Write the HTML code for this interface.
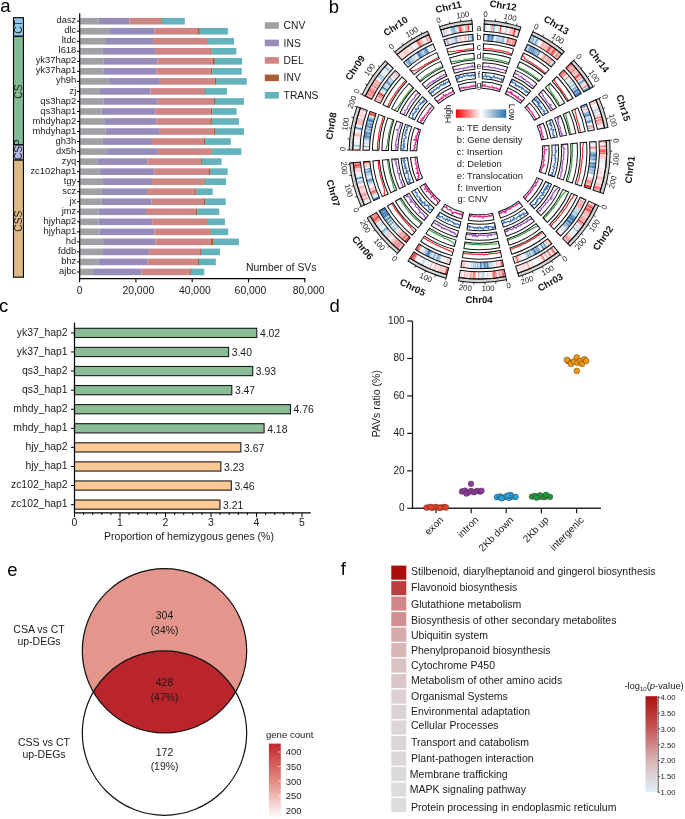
<!DOCTYPE html>
<html><head><meta charset="utf-8"><style>
html,body{margin:0;padding:0;background:#fff;}
svg{display:block;font-family:"Liberation Sans", sans-serif;}
</style></head><body><div style="position:relative;width:685px;height:819px;overflow:hidden;">
<svg style="position:absolute;left:0;top:0;will-change:transform" width="685" height="819" viewBox="0 0 685 819">
<text x="0.20" y="12.20" font-size="18.5" text-anchor="start" fill="#000">a</text>
<text x="328.80" y="12.80" font-size="18.5" text-anchor="start" fill="#000">b</text>
<text x="-1.00" y="311.80" font-size="18.5" text-anchor="start" fill="#000">c</text>
<text x="329.50" y="312.20" font-size="18.5" text-anchor="start" fill="#000">d</text>
<text x="7.20" y="575.50" font-size="18.5" text-anchor="start" fill="#000">e</text>
<text x="340.80" y="575.00" font-size="18.5" text-anchor="start" fill="#000">f</text>
<rect x="80.20" y="17.90" width="18.40" height="6.6" fill="#a1a0a4"/>
<rect x="98.60" y="17.90" width="30.80" height="6.6" fill="#978bb9"/>
<rect x="129.40" y="17.90" width="31.00" height="6.6" fill="#cf8583"/>
<rect x="160.40" y="17.90" width="1.30" height="6.6" fill="#a65d36"/>
<rect x="161.70" y="17.90" width="23.10" height="6.6" fill="#64b3bc"/>
<line x1="77.0" y1="21.20" x2="79.7" y2="21.20" stroke="#000" stroke-width="1"/>
<text x="76.30" y="23.30" font-size="9.4" text-anchor="end" fill="#1a1a1a">dasz</text>
<rect x="80.20" y="27.93" width="29.80" height="6.6" fill="#a1a0a4"/>
<rect x="110.00" y="27.93" width="44.30" height="6.6" fill="#978bb9"/>
<rect x="154.30" y="27.93" width="43.70" height="6.6" fill="#cf8583"/>
<rect x="198.00" y="27.93" width="1.80" height="6.6" fill="#a65d36"/>
<rect x="199.80" y="27.93" width="28.10" height="6.6" fill="#64b3bc"/>
<line x1="77.0" y1="31.23" x2="79.7" y2="31.23" stroke="#000" stroke-width="1"/>
<text x="76.30" y="33.33" font-size="9.4" text-anchor="end" fill="#1a1a1a">dlc</text>
<rect x="80.20" y="37.96" width="25.80" height="6.6" fill="#a1a0a4"/>
<rect x="106.00" y="37.96" width="47.00" height="6.6" fill="#978bb9"/>
<rect x="153.00" y="37.96" width="53.90" height="6.6" fill="#cf8583"/>
<rect x="206.90" y="37.96" width="0.80" height="6.6" fill="#a65d36"/>
<rect x="207.70" y="37.96" width="26.30" height="6.6" fill="#64b3bc"/>
<line x1="77.0" y1="41.26" x2="79.7" y2="41.26" stroke="#000" stroke-width="1"/>
<text x="76.30" y="43.36" font-size="9.4" text-anchor="end" fill="#1a1a1a">ltdc</text>
<rect x="80.20" y="47.99" width="22.70" height="6.6" fill="#a1a0a4"/>
<rect x="102.90" y="47.99" width="52.20" height="6.6" fill="#978bb9"/>
<rect x="155.10" y="47.99" width="55.20" height="6.6" fill="#cf8583"/>
<rect x="210.30" y="47.99" width="1.30" height="6.6" fill="#a65d36"/>
<rect x="211.60" y="47.99" width="24.70" height="6.6" fill="#64b3bc"/>
<line x1="77.0" y1="51.29" x2="79.7" y2="51.29" stroke="#000" stroke-width="1"/>
<text x="76.30" y="53.39" font-size="9.4" text-anchor="end" fill="#1a1a1a">l618</text>
<rect x="80.20" y="58.02" width="23.20" height="6.6" fill="#a1a0a4"/>
<rect x="103.40" y="58.02" width="54.10" height="6.6" fill="#978bb9"/>
<rect x="157.50" y="58.02" width="55.50" height="6.6" fill="#cf8583"/>
<rect x="213.00" y="58.02" width="1.80" height="6.6" fill="#a65d36"/>
<rect x="214.80" y="58.02" width="27.30" height="6.6" fill="#64b3bc"/>
<line x1="77.0" y1="61.32" x2="79.7" y2="61.32" stroke="#000" stroke-width="1"/>
<text x="76.30" y="63.42" font-size="9.4" text-anchor="end" fill="#1a1a1a">yk37hap2</text>
<rect x="80.20" y="68.05" width="23.20" height="6.6" fill="#a1a0a4"/>
<rect x="103.40" y="68.05" width="53.10" height="6.6" fill="#978bb9"/>
<rect x="156.50" y="68.05" width="54.30" height="6.6" fill="#cf8583"/>
<rect x="210.80" y="68.05" width="1.40" height="6.6" fill="#a65d36"/>
<rect x="212.20" y="68.05" width="29.60" height="6.6" fill="#64b3bc"/>
<line x1="77.0" y1="71.35" x2="79.7" y2="71.35" stroke="#000" stroke-width="1"/>
<text x="76.30" y="73.45" font-size="9.4" text-anchor="end" fill="#1a1a1a">yk37hap1</text>
<rect x="80.20" y="78.08" width="29.00" height="6.6" fill="#a1a0a4"/>
<rect x="109.20" y="78.08" width="50.70" height="6.6" fill="#978bb9"/>
<rect x="159.90" y="78.08" width="54.90" height="6.6" fill="#cf8583"/>
<rect x="214.80" y="78.08" width="1.30" height="6.6" fill="#a65d36"/>
<rect x="216.10" y="78.08" width="30.70" height="6.6" fill="#64b3bc"/>
<line x1="77.0" y1="81.38" x2="79.7" y2="81.38" stroke="#000" stroke-width="1"/>
<text x="76.30" y="83.48" font-size="9.4" text-anchor="end" fill="#1a1a1a">yh9h</text>
<rect x="80.20" y="88.11" width="19.00" height="6.6" fill="#a1a0a4"/>
<rect x="99.20" y="88.11" width="51.20" height="6.6" fill="#978bb9"/>
<rect x="150.40" y="88.11" width="53.30" height="6.6" fill="#cf8583"/>
<rect x="203.70" y="88.11" width="1.10" height="6.6" fill="#a65d36"/>
<rect x="204.80" y="88.11" width="22.10" height="6.6" fill="#64b3bc"/>
<line x1="77.0" y1="91.41" x2="79.7" y2="91.41" stroke="#000" stroke-width="1"/>
<text x="76.30" y="93.51" font-size="9.4" text-anchor="end" fill="#1a1a1a">zj</text>
<rect x="80.20" y="98.14" width="23.40" height="6.6" fill="#a1a0a4"/>
<rect x="103.60" y="98.14" width="54.20" height="6.6" fill="#978bb9"/>
<rect x="157.80" y="98.14" width="55.90" height="6.6" fill="#cf8583"/>
<rect x="213.70" y="98.14" width="1.30" height="6.6" fill="#a65d36"/>
<rect x="215.00" y="98.14" width="29.00" height="6.6" fill="#64b3bc"/>
<line x1="77.0" y1="101.44" x2="79.7" y2="101.44" stroke="#000" stroke-width="1"/>
<text x="76.30" y="103.54" font-size="9.4" text-anchor="end" fill="#1a1a1a">qs3hap2</text>
<rect x="80.20" y="108.17" width="21.30" height="6.6" fill="#a1a0a4"/>
<rect x="101.50" y="108.17" width="53.90" height="6.6" fill="#978bb9"/>
<rect x="155.40" y="108.17" width="55.40" height="6.6" fill="#cf8583"/>
<rect x="210.80" y="108.17" width="1.40" height="6.6" fill="#a65d36"/>
<rect x="212.20" y="108.17" width="24.40" height="6.6" fill="#64b3bc"/>
<line x1="77.0" y1="111.47" x2="79.7" y2="111.47" stroke="#000" stroke-width="1"/>
<text x="76.30" y="113.57" font-size="9.4" text-anchor="end" fill="#1a1a1a">qs3hap1</text>
<rect x="80.20" y="118.20" width="24.00" height="6.6" fill="#a1a0a4"/>
<rect x="104.20" y="118.20" width="52.00" height="6.6" fill="#978bb9"/>
<rect x="156.20" y="118.20" width="54.10" height="6.6" fill="#cf8583"/>
<rect x="210.30" y="118.20" width="1.60" height="6.6" fill="#a65d36"/>
<rect x="211.90" y="118.20" width="27.10" height="6.6" fill="#64b3bc"/>
<line x1="77.0" y1="121.50" x2="79.7" y2="121.50" stroke="#000" stroke-width="1"/>
<text x="76.30" y="123.60" font-size="9.4" text-anchor="end" fill="#1a1a1a">mhdyhap2</text>
<rect x="80.20" y="128.23" width="25.30" height="6.6" fill="#a1a0a4"/>
<rect x="105.50" y="128.23" width="53.60" height="6.6" fill="#978bb9"/>
<rect x="159.10" y="128.23" width="54.60" height="6.6" fill="#cf8583"/>
<rect x="213.70" y="128.23" width="1.30" height="6.6" fill="#a65d36"/>
<rect x="215.00" y="128.23" width="29.00" height="6.6" fill="#64b3bc"/>
<line x1="77.0" y1="131.53" x2="79.7" y2="131.53" stroke="#000" stroke-width="1"/>
<text x="76.30" y="133.63" font-size="9.4" text-anchor="end" fill="#1a1a1a">mhdyhap1</text>
<rect x="80.20" y="138.26" width="22.70" height="6.6" fill="#a1a0a4"/>
<rect x="102.90" y="138.26" width="49.10" height="6.6" fill="#978bb9"/>
<rect x="152.00" y="138.26" width="52.00" height="6.6" fill="#cf8583"/>
<rect x="204.00" y="138.26" width="1.00" height="6.6" fill="#a65d36"/>
<rect x="205.00" y="138.26" width="25.80" height="6.6" fill="#64b3bc"/>
<line x1="77.0" y1="141.56" x2="79.7" y2="141.56" stroke="#000" stroke-width="1"/>
<text x="76.30" y="143.66" font-size="9.4" text-anchor="end" fill="#1a1a1a">gh3h</text>
<rect x="80.20" y="148.29" width="26.90" height="6.6" fill="#a1a0a4"/>
<rect x="107.10" y="148.29" width="49.90" height="6.6" fill="#978bb9"/>
<rect x="157.00" y="148.29" width="53.60" height="6.6" fill="#cf8583"/>
<rect x="210.60" y="148.29" width="1.00" height="6.6" fill="#a65d36"/>
<rect x="211.60" y="148.29" width="29.70" height="6.6" fill="#64b3bc"/>
<line x1="77.0" y1="151.59" x2="79.7" y2="151.59" stroke="#000" stroke-width="1"/>
<text x="76.30" y="153.69" font-size="9.4" text-anchor="end" fill="#1a1a1a">dx5h</text>
<rect x="80.20" y="158.32" width="17.10" height="6.6" fill="#a1a0a4"/>
<rect x="97.30" y="158.32" width="50.00" height="6.6" fill="#978bb9"/>
<rect x="147.30" y="158.32" width="53.30" height="6.6" fill="#cf8583"/>
<rect x="200.60" y="158.32" width="1.30" height="6.6" fill="#a65d36"/>
<rect x="201.90" y="158.32" width="19.70" height="6.6" fill="#64b3bc"/>
<line x1="77.0" y1="161.62" x2="79.7" y2="161.62" stroke="#000" stroke-width="1"/>
<text x="76.30" y="163.72" font-size="9.4" text-anchor="end" fill="#1a1a1a">zyq</text>
<rect x="80.20" y="168.35" width="19.20" height="6.6" fill="#a1a0a4"/>
<rect x="99.40" y="168.35" width="54.90" height="6.6" fill="#978bb9"/>
<rect x="154.30" y="168.35" width="54.70" height="6.6" fill="#cf8583"/>
<rect x="209.00" y="168.35" width="1.00" height="6.6" fill="#a65d36"/>
<rect x="210.00" y="168.35" width="17.70" height="6.6" fill="#64b3bc"/>
<line x1="77.0" y1="171.65" x2="79.7" y2="171.65" stroke="#000" stroke-width="1"/>
<text x="76.30" y="173.75" font-size="9.4" text-anchor="end" fill="#1a1a1a">zc102hap1</text>
<rect x="80.20" y="178.38" width="22.70" height="6.6" fill="#a1a0a4"/>
<rect x="102.90" y="178.38" width="49.10" height="6.6" fill="#978bb9"/>
<rect x="152.00" y="178.38" width="51.70" height="6.6" fill="#cf8583"/>
<rect x="203.70" y="178.38" width="1.10" height="6.6" fill="#a65d36"/>
<rect x="204.80" y="178.38" width="21.30" height="6.6" fill="#64b3bc"/>
<line x1="77.0" y1="181.68" x2="79.7" y2="181.68" stroke="#000" stroke-width="1"/>
<text x="76.30" y="183.78" font-size="9.4" text-anchor="end" fill="#1a1a1a">tgy</text>
<rect x="80.20" y="188.41" width="21.60" height="6.6" fill="#a1a0a4"/>
<rect x="101.80" y="188.41" width="45.20" height="6.6" fill="#978bb9"/>
<rect x="147.00" y="188.41" width="48.10" height="6.6" fill="#cf8583"/>
<rect x="195.10" y="188.41" width="1.50" height="6.6" fill="#a65d36"/>
<rect x="196.60" y="188.41" width="16.10" height="6.6" fill="#64b3bc"/>
<line x1="77.0" y1="191.71" x2="79.7" y2="191.71" stroke="#000" stroke-width="1"/>
<text x="76.30" y="193.81" font-size="9.4" text-anchor="end" fill="#1a1a1a">scz</text>
<rect x="80.20" y="198.44" width="21.60" height="6.6" fill="#a1a0a4"/>
<rect x="101.80" y="198.44" width="49.90" height="6.6" fill="#978bb9"/>
<rect x="151.70" y="198.44" width="52.30" height="6.6" fill="#cf8583"/>
<rect x="204.00" y="198.44" width="1.00" height="6.6" fill="#a65d36"/>
<rect x="205.00" y="198.44" width="20.80" height="6.6" fill="#64b3bc"/>
<line x1="77.0" y1="201.74" x2="79.7" y2="201.74" stroke="#000" stroke-width="1"/>
<text x="76.30" y="203.84" font-size="9.4" text-anchor="end" fill="#1a1a1a">jx</text>
<rect x="80.20" y="208.47" width="18.40" height="6.6" fill="#a1a0a4"/>
<rect x="98.60" y="208.47" width="47.40" height="6.6" fill="#978bb9"/>
<rect x="146.00" y="208.47" width="49.90" height="6.6" fill="#cf8583"/>
<rect x="195.90" y="208.47" width="1.30" height="6.6" fill="#a65d36"/>
<rect x="197.20" y="208.47" width="22.00" height="6.6" fill="#64b3bc"/>
<line x1="77.0" y1="211.77" x2="79.7" y2="211.77" stroke="#000" stroke-width="1"/>
<text x="76.30" y="213.87" font-size="9.4" text-anchor="end" fill="#1a1a1a">jmz</text>
<rect x="80.20" y="218.50" width="18.40" height="6.6" fill="#a1a0a4"/>
<rect x="98.60" y="218.50" width="53.60" height="6.6" fill="#978bb9"/>
<rect x="152.20" y="218.50" width="54.20" height="6.6" fill="#cf8583"/>
<rect x="206.40" y="218.50" width="1.30" height="6.6" fill="#a65d36"/>
<rect x="207.70" y="218.50" width="17.30" height="6.6" fill="#64b3bc"/>
<line x1="77.0" y1="221.80" x2="79.7" y2="221.80" stroke="#000" stroke-width="1"/>
<text x="76.30" y="223.90" font-size="9.4" text-anchor="end" fill="#1a1a1a">hjyhap2</text>
<rect x="80.20" y="228.53" width="19.20" height="6.6" fill="#a1a0a4"/>
<rect x="99.40" y="228.53" width="54.90" height="6.6" fill="#978bb9"/>
<rect x="154.30" y="228.53" width="55.50" height="6.6" fill="#cf8583"/>
<rect x="209.80" y="228.53" width="1.00" height="6.6" fill="#a65d36"/>
<rect x="210.80" y="228.53" width="17.40" height="6.6" fill="#64b3bc"/>
<line x1="77.0" y1="231.83" x2="79.7" y2="231.83" stroke="#000" stroke-width="1"/>
<text x="76.30" y="233.93" font-size="9.4" text-anchor="end" fill="#1a1a1a">hjyhap1</text>
<rect x="80.20" y="238.56" width="22.90" height="6.6" fill="#a1a0a4"/>
<rect x="103.10" y="238.56" width="52.30" height="6.6" fill="#978bb9"/>
<rect x="155.40" y="238.56" width="55.20" height="6.6" fill="#cf8583"/>
<rect x="210.60" y="238.56" width="3.10" height="6.6" fill="#a65d36"/>
<rect x="213.70" y="238.56" width="25.30" height="6.6" fill="#64b3bc"/>
<line x1="77.0" y1="241.86" x2="79.7" y2="241.86" stroke="#000" stroke-width="1"/>
<text x="76.30" y="243.96" font-size="9.4" text-anchor="end" fill="#1a1a1a">hd</text>
<rect x="80.20" y="248.59" width="21.90" height="6.6" fill="#a1a0a4"/>
<rect x="102.10" y="248.59" width="47.00" height="6.6" fill="#978bb9"/>
<rect x="149.10" y="248.59" width="50.70" height="6.6" fill="#cf8583"/>
<rect x="199.80" y="248.59" width="1.10" height="6.6" fill="#a65d36"/>
<rect x="200.90" y="248.59" width="19.10" height="6.6" fill="#64b3bc"/>
<line x1="77.0" y1="251.89" x2="79.7" y2="251.89" stroke="#000" stroke-width="1"/>
<text x="76.30" y="253.99" font-size="9.4" text-anchor="end" fill="#1a1a1a">fddb</text>
<rect x="80.20" y="258.62" width="18.70" height="6.6" fill="#a1a0a4"/>
<rect x="98.90" y="258.62" width="48.60" height="6.6" fill="#978bb9"/>
<rect x="147.50" y="258.62" width="50.50" height="6.6" fill="#cf8583"/>
<rect x="198.00" y="258.62" width="1.00" height="6.6" fill="#a65d36"/>
<rect x="199.00" y="258.62" width="16.80" height="6.6" fill="#64b3bc"/>
<line x1="77.0" y1="261.92" x2="79.7" y2="261.92" stroke="#000" stroke-width="1"/>
<text x="76.30" y="264.02" font-size="9.4" text-anchor="end" fill="#1a1a1a">bhz</text>
<rect x="80.20" y="268.65" width="12.70" height="6.6" fill="#a1a0a4"/>
<rect x="92.90" y="268.65" width="48.30" height="6.6" fill="#978bb9"/>
<rect x="141.20" y="268.65" width="48.60" height="6.6" fill="#cf8583"/>
<rect x="189.80" y="268.65" width="1.10" height="6.6" fill="#a65d36"/>
<rect x="190.90" y="268.65" width="13.40" height="6.6" fill="#64b3bc"/>
<line x1="77.0" y1="271.95" x2="79.7" y2="271.95" stroke="#000" stroke-width="1"/>
<text x="76.30" y="274.05" font-size="9.4" text-anchor="end" fill="#1a1a1a">ajbc</text>
<line x1="79.7" y1="13.2" x2="79.7" y2="279.2" stroke="#000" stroke-width="1.2"/>
<line x1="79.1" y1="278.6" x2="305.4" y2="278.6" stroke="#000" stroke-width="1.2"/>
<line x1="79.60" y1="278.6" x2="79.60" y2="282.3" stroke="#000" stroke-width="1.1"/>
<text x="79.70" y="293.80" font-size="10.4" text-anchor="middle" fill="#1a1a1a">0</text>
<line x1="135.90" y1="278.6" x2="135.90" y2="282.3" stroke="#000" stroke-width="1.1"/>
<text x="138.30" y="293.80" font-size="10.4" text-anchor="middle" fill="#1a1a1a">20,000</text>
<line x1="192.20" y1="278.6" x2="192.20" y2="282.3" stroke="#000" stroke-width="1.1"/>
<text x="194.80" y="293.80" font-size="10.4" text-anchor="middle" fill="#1a1a1a">40,000</text>
<line x1="248.50" y1="278.6" x2="248.50" y2="282.3" stroke="#000" stroke-width="1.1"/>
<text x="250.50" y="293.80" font-size="10.4" text-anchor="middle" fill="#1a1a1a">60,000</text>
<line x1="304.80" y1="278.6" x2="304.80" y2="282.3" stroke="#000" stroke-width="1.1"/>
<text x="308.60" y="293.80" font-size="10.4" text-anchor="middle" fill="#1a1a1a">80,000</text>
<text x="246.00" y="271.00" font-size="10.4" text-anchor="start" fill="#1a1a1a">Number of SVs</text>
<rect x="264.8" y="22.20" width="14.1" height="6.6" fill="#a1a0a4"/>
<text x="283.60" y="29.10" font-size="10.3" text-anchor="start" fill="#1a1a1a">CNV</text>
<rect x="264.8" y="39.65" width="14.1" height="6.6" fill="#978bb9"/>
<text x="283.60" y="46.55" font-size="10.3" text-anchor="start" fill="#1a1a1a">INS</text>
<rect x="264.8" y="57.10" width="14.1" height="6.6" fill="#cf8583"/>
<text x="283.60" y="64.00" font-size="10.3" text-anchor="start" fill="#1a1a1a">DEL</text>
<rect x="264.8" y="74.55" width="14.1" height="6.6" fill="#a65d36"/>
<text x="283.60" y="81.45" font-size="10.3" text-anchor="start" fill="#1a1a1a">INV</text>
<rect x="264.8" y="92.00" width="14.1" height="6.6" fill="#64b3bc"/>
<text x="283.60" y="98.90" font-size="10.3" text-anchor="start" fill="#1a1a1a">TRANS</text>
<rect x="13.5" y="17.70" width="9.95" height="18.60" fill="#8fc8e6" stroke="#000" stroke-width="1.1"/>
<rect x="13.5" y="36.30" width="9.95" height="108.60" fill="#82bb94" stroke="#000" stroke-width="1.1"/>
<rect x="13.5" y="144.90" width="9.95" height="15.20" fill="#b3bde8" stroke="#000" stroke-width="1.1"/>
<rect x="13.5" y="160.10" width="9.95" height="117.10" fill="#dcb985" stroke="#000" stroke-width="1.1"/>
<text x="22.30" y="27.00" font-size="10.2" text-anchor="middle" fill="#1a1a1a" transform="rotate(-90.00 22.30 27.00)">CT</text>
<text x="22.30" y="91.65" font-size="10.2" text-anchor="middle" fill="#1a1a1a" transform="rotate(-90.00 22.30 91.65)">CS</text>
<text x="22.30" y="149.60" font-size="10.2" text-anchor="middle" fill="#1a1a1a" transform="rotate(-90.00 22.30 149.60)">CSP</text>
<text x="22.30" y="221.20" font-size="10.2" text-anchor="middle" fill="#1a1a1a" transform="rotate(-90.00 22.30 221.20)">CSS</text>
<rect x="74.50" y="328.30" width="182.31" height="9.2" fill="#8abd96" stroke="#1a1a1a" stroke-width="1.1"/>
<line x1="71.0" y1="332.90" x2="74.5" y2="332.90" stroke="#000" stroke-width="1"/>
<text x="67.60" y="335.70" font-size="10.4" text-anchor="end" fill="#1a1a1a">yk37_hap2</text>
<text x="259.91" y="337.10" font-size="10.4" text-anchor="start" fill="#1a1a1a">4.02</text>
<rect x="74.50" y="347.38" width="154.10" height="9.2" fill="#8abd96" stroke="#1a1a1a" stroke-width="1.1"/>
<line x1="71.0" y1="351.98" x2="74.5" y2="351.98" stroke="#000" stroke-width="1"/>
<text x="67.60" y="354.78" font-size="10.4" text-anchor="end" fill="#1a1a1a">yk37_hap1</text>
<text x="231.70" y="356.18" font-size="10.4" text-anchor="start" fill="#1a1a1a">3.40</text>
<rect x="74.50" y="366.46" width="178.22" height="9.2" fill="#8abd96" stroke="#1a1a1a" stroke-width="1.1"/>
<line x1="71.0" y1="371.06" x2="74.5" y2="371.06" stroke="#000" stroke-width="1"/>
<text x="67.60" y="373.86" font-size="10.4" text-anchor="end" fill="#1a1a1a">qs3_hap2</text>
<text x="255.81" y="375.26" font-size="10.4" text-anchor="start" fill="#1a1a1a">3.93</text>
<rect x="74.50" y="385.54" width="157.29" height="9.2" fill="#8abd96" stroke="#1a1a1a" stroke-width="1.1"/>
<line x1="71.0" y1="390.14" x2="74.5" y2="390.14" stroke="#000" stroke-width="1"/>
<text x="67.60" y="392.94" font-size="10.4" text-anchor="end" fill="#1a1a1a">qs3_hap1</text>
<text x="234.89" y="394.34" font-size="10.4" text-anchor="start" fill="#1a1a1a">3.47</text>
<rect x="74.50" y="404.62" width="215.98" height="9.2" fill="#8abd96" stroke="#1a1a1a" stroke-width="1.1"/>
<line x1="71.0" y1="409.22" x2="74.5" y2="409.22" stroke="#000" stroke-width="1"/>
<text x="67.60" y="412.02" font-size="10.4" text-anchor="end" fill="#1a1a1a">mhdy_hap2</text>
<text x="293.58" y="413.42" font-size="10.4" text-anchor="start" fill="#1a1a1a">4.76</text>
<rect x="74.50" y="423.70" width="189.59" height="9.2" fill="#8abd96" stroke="#1a1a1a" stroke-width="1.1"/>
<line x1="71.0" y1="428.30" x2="74.5" y2="428.30" stroke="#000" stroke-width="1"/>
<text x="67.60" y="431.10" font-size="10.4" text-anchor="end" fill="#1a1a1a">mhdy_hap1</text>
<text x="267.19" y="432.50" font-size="10.4" text-anchor="start" fill="#1a1a1a">4.18</text>
<rect x="74.50" y="442.78" width="166.38" height="9.2" fill="#fcc894" stroke="#1a1a1a" stroke-width="1.1"/>
<line x1="71.0" y1="447.38" x2="74.5" y2="447.38" stroke="#000" stroke-width="1"/>
<text x="67.60" y="450.18" font-size="10.4" text-anchor="end" fill="#1a1a1a">hjy_hap2</text>
<text x="243.98" y="451.58" font-size="10.4" text-anchor="start" fill="#1a1a1a">3.67</text>
<rect x="74.50" y="461.86" width="146.37" height="9.2" fill="#fcc894" stroke="#1a1a1a" stroke-width="1.1"/>
<line x1="71.0" y1="466.46" x2="74.5" y2="466.46" stroke="#000" stroke-width="1"/>
<text x="67.60" y="469.26" font-size="10.4" text-anchor="end" fill="#1a1a1a">hjy_hap1</text>
<text x="223.97" y="470.66" font-size="10.4" text-anchor="start" fill="#1a1a1a">3.23</text>
<rect x="74.50" y="480.94" width="156.83" height="9.2" fill="#fcc894" stroke="#1a1a1a" stroke-width="1.1"/>
<line x1="71.0" y1="485.54" x2="74.5" y2="485.54" stroke="#000" stroke-width="1"/>
<text x="67.60" y="488.34" font-size="10.4" text-anchor="end" fill="#1a1a1a">zc102_hap2</text>
<text x="234.43" y="489.74" font-size="10.4" text-anchor="start" fill="#1a1a1a">3.46</text>
<rect x="74.50" y="500.02" width="145.46" height="9.2" fill="#fcc894" stroke="#1a1a1a" stroke-width="1.1"/>
<line x1="71.0" y1="504.62" x2="74.5" y2="504.62" stroke="#000" stroke-width="1"/>
<text x="67.60" y="507.42" font-size="10.4" text-anchor="end" fill="#1a1a1a">zc102_hap1</text>
<text x="223.06" y="508.82" font-size="10.4" text-anchor="start" fill="#1a1a1a">3.21</text>
<line x1="74.5" y1="322.6" x2="74.5" y2="513.3" stroke="#000" stroke-width="1.2"/>
<line x1="73.9" y1="512.8" x2="310.8" y2="512.8" stroke="#000" stroke-width="1.2"/>
<line x1="74.50" y1="512.8" x2="74.50" y2="517.20" stroke="#000" stroke-width="1"/>
<text x="74.50" y="526.40" font-size="10.4" text-anchor="middle" fill="#1a1a1a">0</text>
<line x1="83.60" y1="512.8" x2="83.60" y2="515.00" stroke="#000" stroke-width="1"/>
<line x1="92.70" y1="512.8" x2="92.70" y2="515.00" stroke="#000" stroke-width="1"/>
<line x1="101.80" y1="512.8" x2="101.80" y2="515.00" stroke="#000" stroke-width="1"/>
<line x1="110.90" y1="512.8" x2="110.90" y2="515.00" stroke="#000" stroke-width="1"/>
<line x1="120.00" y1="512.8" x2="120.00" y2="517.20" stroke="#000" stroke-width="1"/>
<text x="120.00" y="526.40" font-size="10.4" text-anchor="middle" fill="#1a1a1a">1</text>
<line x1="129.10" y1="512.8" x2="129.10" y2="515.00" stroke="#000" stroke-width="1"/>
<line x1="138.20" y1="512.8" x2="138.20" y2="515.00" stroke="#000" stroke-width="1"/>
<line x1="147.30" y1="512.8" x2="147.30" y2="515.00" stroke="#000" stroke-width="1"/>
<line x1="156.40" y1="512.8" x2="156.40" y2="515.00" stroke="#000" stroke-width="1"/>
<line x1="165.50" y1="512.8" x2="165.50" y2="517.20" stroke="#000" stroke-width="1"/>
<text x="165.50" y="526.40" font-size="10.4" text-anchor="middle" fill="#1a1a1a">2</text>
<line x1="174.60" y1="512.8" x2="174.60" y2="515.00" stroke="#000" stroke-width="1"/>
<line x1="183.70" y1="512.8" x2="183.70" y2="515.00" stroke="#000" stroke-width="1"/>
<line x1="192.80" y1="512.8" x2="192.80" y2="515.00" stroke="#000" stroke-width="1"/>
<line x1="201.90" y1="512.8" x2="201.90" y2="515.00" stroke="#000" stroke-width="1"/>
<line x1="211.00" y1="512.8" x2="211.00" y2="517.20" stroke="#000" stroke-width="1"/>
<text x="211.00" y="526.40" font-size="10.4" text-anchor="middle" fill="#1a1a1a">3</text>
<line x1="220.10" y1="512.8" x2="220.10" y2="515.00" stroke="#000" stroke-width="1"/>
<line x1="229.20" y1="512.8" x2="229.20" y2="515.00" stroke="#000" stroke-width="1"/>
<line x1="238.30" y1="512.8" x2="238.30" y2="515.00" stroke="#000" stroke-width="1"/>
<line x1="247.40" y1="512.8" x2="247.40" y2="515.00" stroke="#000" stroke-width="1"/>
<line x1="256.50" y1="512.8" x2="256.50" y2="517.20" stroke="#000" stroke-width="1"/>
<text x="256.50" y="526.40" font-size="10.4" text-anchor="middle" fill="#1a1a1a">4</text>
<line x1="265.60" y1="512.8" x2="265.60" y2="515.00" stroke="#000" stroke-width="1"/>
<line x1="274.70" y1="512.8" x2="274.70" y2="515.00" stroke="#000" stroke-width="1"/>
<line x1="283.80" y1="512.8" x2="283.80" y2="515.00" stroke="#000" stroke-width="1"/>
<line x1="292.90" y1="512.8" x2="292.90" y2="515.00" stroke="#000" stroke-width="1"/>
<line x1="302.00" y1="512.8" x2="302.00" y2="517.20" stroke="#000" stroke-width="1"/>
<text x="302.00" y="526.40" font-size="10.4" text-anchor="middle" fill="#1a1a1a">5</text>
<text x="189.00" y="539.60" font-size="10.5" text-anchor="middle" fill="#1a1a1a">Proportion of hemizygous genes (%)</text>
<line x1="412.5" y1="321.0" x2="412.5" y2="508.90" stroke="#1a1a1a" stroke-width="1.3"/>
<line x1="412.0" y1="508.30" x2="601.0" y2="508.30" stroke="#2a2a2a" stroke-width="1.4"/>
<line x1="407.2" y1="508.30" x2="412.5" y2="508.30" stroke="#1a1a1a" stroke-width="1.2"/>
<text x="404.60" y="511.20" font-size="10.0" text-anchor="end" fill="#1a1a1a">0</text>
<line x1="407.2" y1="470.84" x2="412.5" y2="470.84" stroke="#1a1a1a" stroke-width="1.2"/>
<text x="404.60" y="473.74" font-size="10.0" text-anchor="end" fill="#1a1a1a">20</text>
<line x1="407.2" y1="433.38" x2="412.5" y2="433.38" stroke="#1a1a1a" stroke-width="1.2"/>
<text x="404.60" y="436.28" font-size="10.0" text-anchor="end" fill="#1a1a1a">40</text>
<line x1="407.2" y1="395.92" x2="412.5" y2="395.92" stroke="#1a1a1a" stroke-width="1.2"/>
<text x="404.60" y="398.82" font-size="10.0" text-anchor="end" fill="#1a1a1a">60</text>
<line x1="407.2" y1="358.46" x2="412.5" y2="358.46" stroke="#1a1a1a" stroke-width="1.2"/>
<text x="404.60" y="361.36" font-size="10.0" text-anchor="end" fill="#1a1a1a">80</text>
<line x1="407.2" y1="321.00" x2="412.5" y2="321.00" stroke="#1a1a1a" stroke-width="1.2"/>
<text x="404.60" y="323.90" font-size="10.0" text-anchor="end" fill="#1a1a1a">100</text>
<text x="380.40" y="403.70" font-size="10.5" text-anchor="middle" fill="#1a1a1a" transform="rotate(-90.00 380.40 403.70)">PAVs ratio (%)</text>
<line x1="436.00" y1="508.30" x2="436.00" y2="513.3" stroke="#1a1a1a" stroke-width="1.2"/>
<text x="444.00" y="520.50" font-size="10.0" text-anchor="end" fill="#1a1a1a" transform="rotate(-45.00 444.00 520.50)">exon</text>
<line x1="471.20" y1="508.30" x2="471.20" y2="513.3" stroke="#1a1a1a" stroke-width="1.2"/>
<text x="479.20" y="520.50" font-size="10.0" text-anchor="end" fill="#1a1a1a" transform="rotate(-45.00 479.20 520.50)">intron</text>
<line x1="506.20" y1="508.30" x2="506.20" y2="513.3" stroke="#1a1a1a" stroke-width="1.2"/>
<text x="514.20" y="520.50" font-size="10.0" text-anchor="end" fill="#1a1a1a" transform="rotate(-45.00 514.20 520.50)">2Kb down</text>
<line x1="541.40" y1="508.30" x2="541.40" y2="513.3" stroke="#1a1a1a" stroke-width="1.2"/>
<text x="549.40" y="520.50" font-size="10.0" text-anchor="end" fill="#1a1a1a" transform="rotate(-45.00 549.40 520.50)">2Kb up</text>
<line x1="576.60" y1="508.30" x2="576.60" y2="513.3" stroke="#1a1a1a" stroke-width="1.2"/>
<text x="584.60" y="520.50" font-size="10.0" text-anchor="end" fill="#1a1a1a" transform="rotate(-45.00 584.60 520.50)">intergenic</text>
<circle cx="426.50" cy="507.60" r="2.9" fill="#e8402a" stroke="#3a2a20" stroke-width="0.5" stroke-opacity="0.8"/>
<circle cx="429.50" cy="507.20" r="2.9" fill="#e8402a" stroke="#3a2a20" stroke-width="0.5" stroke-opacity="0.8"/>
<circle cx="432.50" cy="507.80" r="2.9" fill="#e8402a" stroke="#3a2a20" stroke-width="0.5" stroke-opacity="0.8"/>
<circle cx="435.50" cy="507.00" r="2.9" fill="#e8402a" stroke="#3a2a20" stroke-width="0.5" stroke-opacity="0.8"/>
<circle cx="438.50" cy="507.60" r="2.9" fill="#e8402a" stroke="#3a2a20" stroke-width="0.5" stroke-opacity="0.8"/>
<circle cx="441.50" cy="507.30" r="2.9" fill="#e8402a" stroke="#3a2a20" stroke-width="0.5" stroke-opacity="0.8"/>
<circle cx="444.50" cy="507.00" r="2.9" fill="#e8402a" stroke="#3a2a20" stroke-width="0.5" stroke-opacity="0.8"/>
<circle cx="446.00" cy="507.50" r="2.9" fill="#e8402a" stroke="#3a2a20" stroke-width="0.5" stroke-opacity="0.8"/>
<circle cx="431.00" cy="507.00" r="2.9" fill="#e8402a" stroke="#3a2a20" stroke-width="0.5" stroke-opacity="0.8"/>
<circle cx="440.00" cy="507.90" r="2.9" fill="#e8402a" stroke="#3a2a20" stroke-width="0.5" stroke-opacity="0.8"/>
<circle cx="462.00" cy="491.50" r="2.9" fill="#8a3a9c" stroke="#3a2a20" stroke-width="0.5" stroke-opacity="0.8"/>
<circle cx="465.00" cy="490.60" r="2.9" fill="#8a3a9c" stroke="#3a2a20" stroke-width="0.5" stroke-opacity="0.8"/>
<circle cx="468.00" cy="492.40" r="2.9" fill="#8a3a9c" stroke="#3a2a20" stroke-width="0.5" stroke-opacity="0.8"/>
<circle cx="471.00" cy="491.00" r="2.9" fill="#8a3a9c" stroke="#3a2a20" stroke-width="0.5" stroke-opacity="0.8"/>
<circle cx="474.00" cy="492.20" r="2.9" fill="#8a3a9c" stroke="#3a2a20" stroke-width="0.5" stroke-opacity="0.8"/>
<circle cx="477.00" cy="490.80" r="2.9" fill="#8a3a9c" stroke="#3a2a20" stroke-width="0.5" stroke-opacity="0.8"/>
<circle cx="480.00" cy="491.60" r="2.9" fill="#8a3a9c" stroke="#3a2a20" stroke-width="0.5" stroke-opacity="0.8"/>
<circle cx="481.50" cy="490.80" r="2.9" fill="#8a3a9c" stroke="#3a2a20" stroke-width="0.5" stroke-opacity="0.8"/>
<circle cx="466.50" cy="493.50" r="2.9" fill="#8a3a9c" stroke="#3a2a20" stroke-width="0.5" stroke-opacity="0.8"/>
<circle cx="471.00" cy="483.80" r="2.9" fill="#8a3a9c" stroke="#3a2a20" stroke-width="0.5" stroke-opacity="0.8"/>
<circle cx="497.00" cy="497.20" r="2.9" fill="#22a0e0" stroke="#3a2a20" stroke-width="0.5" stroke-opacity="0.8"/>
<circle cx="500.00" cy="496.40" r="2.9" fill="#22a0e0" stroke="#3a2a20" stroke-width="0.5" stroke-opacity="0.8"/>
<circle cx="503.00" cy="497.60" r="2.9" fill="#22a0e0" stroke="#3a2a20" stroke-width="0.5" stroke-opacity="0.8"/>
<circle cx="506.00" cy="496.80" r="2.9" fill="#22a0e0" stroke="#3a2a20" stroke-width="0.5" stroke-opacity="0.8"/>
<circle cx="509.00" cy="497.80" r="2.9" fill="#22a0e0" stroke="#3a2a20" stroke-width="0.5" stroke-opacity="0.8"/>
<circle cx="512.00" cy="496.60" r="2.9" fill="#22a0e0" stroke="#3a2a20" stroke-width="0.5" stroke-opacity="0.8"/>
<circle cx="515.50" cy="497.00" r="2.9" fill="#22a0e0" stroke="#3a2a20" stroke-width="0.5" stroke-opacity="0.8"/>
<circle cx="510.50" cy="495.00" r="2.9" fill="#22a0e0" stroke="#3a2a20" stroke-width="0.5" stroke-opacity="0.8"/>
<circle cx="501.50" cy="498.30" r="2.9" fill="#22a0e0" stroke="#3a2a20" stroke-width="0.5" stroke-opacity="0.8"/>
<circle cx="507.50" cy="495.60" r="2.9" fill="#22a0e0" stroke="#3a2a20" stroke-width="0.5" stroke-opacity="0.8"/>
<circle cx="532.00" cy="496.60" r="2.9" fill="#1e9a3c" stroke="#3a2a20" stroke-width="0.5" stroke-opacity="0.8"/>
<circle cx="535.00" cy="496.00" r="2.9" fill="#1e9a3c" stroke="#3a2a20" stroke-width="0.5" stroke-opacity="0.8"/>
<circle cx="538.00" cy="497.00" r="2.9" fill="#1e9a3c" stroke="#3a2a20" stroke-width="0.5" stroke-opacity="0.8"/>
<circle cx="541.00" cy="496.40" r="2.9" fill="#1e9a3c" stroke="#3a2a20" stroke-width="0.5" stroke-opacity="0.8"/>
<circle cx="544.00" cy="497.20" r="2.9" fill="#1e9a3c" stroke="#3a2a20" stroke-width="0.5" stroke-opacity="0.8"/>
<circle cx="547.00" cy="496.20" r="2.9" fill="#1e9a3c" stroke="#3a2a20" stroke-width="0.5" stroke-opacity="0.8"/>
<circle cx="550.00" cy="496.80" r="2.9" fill="#1e9a3c" stroke="#3a2a20" stroke-width="0.5" stroke-opacity="0.8"/>
<circle cx="546.00" cy="494.80" r="2.9" fill="#1e9a3c" stroke="#3a2a20" stroke-width="0.5" stroke-opacity="0.8"/>
<circle cx="540.00" cy="495.30" r="2.9" fill="#1e9a3c" stroke="#3a2a20" stroke-width="0.5" stroke-opacity="0.8"/>
<circle cx="536.50" cy="497.60" r="2.9" fill="#1e9a3c" stroke="#3a2a20" stroke-width="0.5" stroke-opacity="0.8"/>
<circle cx="568.00" cy="361.00" r="2.9" fill="#f0960f" stroke="#3a2a20" stroke-width="0.5" stroke-opacity="0.8"/>
<circle cx="571.00" cy="363.90" r="2.9" fill="#f0960f" stroke="#3a2a20" stroke-width="0.5" stroke-opacity="0.8"/>
<circle cx="573.90" cy="361.50" r="2.9" fill="#f0960f" stroke="#3a2a20" stroke-width="0.5" stroke-opacity="0.8"/>
<circle cx="576.80" cy="357.40" r="2.9" fill="#f0960f" stroke="#3a2a20" stroke-width="0.5" stroke-opacity="0.8"/>
<circle cx="577.40" cy="362.70" r="2.9" fill="#f0960f" stroke="#3a2a20" stroke-width="0.5" stroke-opacity="0.8"/>
<circle cx="580.30" cy="361.00" r="2.9" fill="#f0960f" stroke="#3a2a20" stroke-width="0.5" stroke-opacity="0.8"/>
<circle cx="582.00" cy="363.90" r="2.9" fill="#f0960f" stroke="#3a2a20" stroke-width="0.5" stroke-opacity="0.8"/>
<circle cx="584.40" cy="359.20" r="2.9" fill="#f0960f" stroke="#3a2a20" stroke-width="0.5" stroke-opacity="0.8"/>
<circle cx="586.10" cy="361.00" r="2.9" fill="#f0960f" stroke="#3a2a20" stroke-width="0.5" stroke-opacity="0.8"/>
<circle cx="566.90" cy="359.80" r="2.9" fill="#f0960f" stroke="#3a2a20" stroke-width="0.5" stroke-opacity="0.8"/>
<circle cx="576.80" cy="370.90" r="2.9" fill="#f0960f" stroke="#3a2a20" stroke-width="0.5" stroke-opacity="0.8"/>
<defs><clipPath id="cpU"><circle cx="164.5" cy="650.8" r="82.2"/></clipPath><linearGradient id="gc" x1="0" y1="0" x2="0" y2="1"><stop offset="0" stop-color="#c0282c"/><stop offset="0.5" stop-color="#e38a80"/><stop offset="1" stop-color="#ffffff"/></linearGradient><linearGradient id="gf" x1="0" y1="0" x2="0" y2="1"><stop offset="0" stop-color="#ae0e0e"/><stop offset="0.33" stop-color="#c65454"/><stop offset="0.66" stop-color="#d7b2b4"/><stop offset="1" stop-color="#dff2f7"/></linearGradient><linearGradient id="gb" x1="0" y1="0" x2="1" y2="0"><stop offset="0" stop-color="#ff0000"/><stop offset="0.5" stop-color="#ffffff"/><stop offset="1" stop-color="#2d72b0"/></linearGradient></defs>
<circle cx="164.5" cy="650.8" r="82.2" fill="#e4968c"/>
<circle cx="164.5" cy="733.1" r="82.2" fill="#b9252b" clip-path="url(#cpU)"/>
<circle cx="164.5" cy="650.8" r="82.2" fill="none" stroke="#111" stroke-width="1.2"/>
<circle cx="164.5" cy="733.1" r="82.2" fill="none" stroke="#111" stroke-width="1.2"/>
<text x="164.50" y="619.40" font-size="10.4" text-anchor="middle" fill="#1a1a1a">304</text>
<text x="164.50" y="634.00" font-size="10.4" text-anchor="middle" fill="#1a1a1a">(34%)</text>
<text x="164.50" y="686.00" font-size="10.4" text-anchor="middle" fill="#1a1a1a">428</text>
<text x="164.50" y="700.60" font-size="10.4" text-anchor="middle" fill="#1a1a1a">(47%)</text>
<text x="164.50" y="755.80" font-size="10.4" text-anchor="middle" fill="#1a1a1a">172</text>
<text x="164.50" y="770.40" font-size="10.4" text-anchor="middle" fill="#1a1a1a">(19%)</text>
<text x="39.00" y="632.70" font-size="10.5" text-anchor="middle" fill="#1a1a1a">CSA vs CT</text>
<text x="39.00" y="645.30" font-size="10.5" text-anchor="middle" fill="#1a1a1a">up-DEGs</text>
<text x="44.00" y="745.50" font-size="10.5" text-anchor="middle" fill="#1a1a1a">CSS vs CT</text>
<text x="44.00" y="758.10" font-size="10.5" text-anchor="middle" fill="#1a1a1a">up-DEGs</text>
<text x="289.70" y="737.50" font-size="9.6" text-anchor="middle" fill="#1a1a1a">gene count</text>
<rect x="268.9" y="743.6" width="11.9" height="74.8" fill="url(#gc)"/>
<line x1="278.0" y1="752.00" x2="280.8" y2="752.00" stroke="#fff" stroke-width="0.8" stroke-opacity="0.8"/>
<text x="285.80" y="755.40" font-size="9.4" text-anchor="start" fill="#1a1a1a">400</text>
<line x1="278.0" y1="766.55" x2="280.8" y2="766.55" stroke="#fff" stroke-width="0.8" stroke-opacity="0.8"/>
<text x="285.80" y="769.95" font-size="9.4" text-anchor="start" fill="#1a1a1a">350</text>
<line x1="278.0" y1="781.10" x2="280.8" y2="781.10" stroke="#fff" stroke-width="0.8" stroke-opacity="0.8"/>
<text x="285.80" y="784.50" font-size="9.4" text-anchor="start" fill="#1a1a1a">300</text>
<line x1="278.0" y1="795.65" x2="280.8" y2="795.65" stroke="#fff" stroke-width="0.8" stroke-opacity="0.8"/>
<text x="285.80" y="799.05" font-size="9.4" text-anchor="start" fill="#1a1a1a">250</text>
<line x1="278.0" y1="810.20" x2="280.8" y2="810.20" stroke="#fff" stroke-width="0.8" stroke-opacity="0.8"/>
<text x="285.80" y="813.60" font-size="9.4" text-anchor="start" fill="#1a1a1a">200</text>
<rect x="391.3" y="565.60" width="15.0" height="14.1" fill="#ae0b0b"/>
<text x="411.00" y="575.40" font-size="10.5" text-anchor="start" fill="#1a1a1a">Stilbenoid, diarylheptanoid and gingerol biosynthesis</text>
<rect x="391.3" y="581.09" width="15.0" height="14.1" fill="#bd3e3e"/>
<text x="411.00" y="590.50" font-size="10.5" text-anchor="start" fill="#1a1a1a">Flavonoid biosynthesis</text>
<rect x="391.3" y="596.58" width="15.0" height="14.1" fill="#cf8888"/>
<text x="411.00" y="607.60" font-size="10.5" text-anchor="start" fill="#1a1a1a">Glutathione metabolism</text>
<rect x="391.3" y="612.07" width="15.0" height="14.1" fill="#d09090"/>
<text x="411.00" y="623.80" font-size="10.5" text-anchor="start" fill="#1a1a1a">Biosynthesis of other secondary metabolites</text>
<rect x="391.3" y="627.56" width="15.0" height="14.1" fill="#d5aaab"/>
<text x="411.00" y="639.00" font-size="10.5" text-anchor="start" fill="#1a1a1a">Ubiquitin system</text>
<rect x="391.3" y="643.05" width="15.0" height="14.1" fill="#d8b6b7"/>
<text x="411.00" y="654.00" font-size="10.5" text-anchor="start" fill="#1a1a1a">Phenylpropanoid biosynthesis</text>
<rect x="391.3" y="658.54" width="15.0" height="14.1" fill="#dac1c2"/>
<text x="411.00" y="669.20" font-size="10.5" text-anchor="start" fill="#1a1a1a">Cytochrome P450</text>
<rect x="391.3" y="674.03" width="15.0" height="14.1" fill="#dbc6c7"/>
<text x="411.00" y="684.10" font-size="10.5" text-anchor="start" fill="#1a1a1a">Metabolism of other amino acids</text>
<rect x="391.3" y="689.52" width="15.0" height="14.1" fill="#dcd0d2"/>
<text x="411.00" y="700.40" font-size="10.5" text-anchor="start" fill="#1a1a1a">Organismal Systems</text>
<rect x="391.3" y="705.01" width="15.0" height="14.1" fill="#dcd2d4"/>
<text x="411.00" y="715.20" font-size="10.5" text-anchor="start" fill="#1a1a1a">Environmental adaptation</text>
<rect x="391.3" y="720.50" width="15.0" height="14.1" fill="#dcd4d6"/>
<text x="411.00" y="729.40" font-size="10.5" text-anchor="start" fill="#1a1a1a">Cellular Processes</text>
<rect x="391.3" y="735.99" width="15.0" height="14.1" fill="#dcd5d7"/>
<text x="411.00" y="745.60" font-size="10.5" text-anchor="start" fill="#1a1a1a">Transport and catabolism</text>
<rect x="391.3" y="751.48" width="15.0" height="14.1" fill="#dcd6d8"/>
<text x="411.00" y="762.30" font-size="10.5" text-anchor="start" fill="#1a1a1a">Plant-pathogen interaction</text>
<rect x="391.3" y="766.97" width="15.0" height="14.1" fill="#dcd9db"/>
<text x="409.80" y="777.90" font-size="10.5" text-anchor="start" fill="#1a1a1a">Membrane trafficking</text>
<rect x="391.3" y="782.46" width="15.0" height="14.1" fill="#dcdcdd"/>
<text x="409.80" y="793.00" font-size="10.5" text-anchor="start" fill="#1a1a1a">MAPK signaling pathway</text>
<rect x="391.3" y="797.95" width="15.0" height="14.1" fill="#dddddd"/>
<text x="411.00" y="811.20" font-size="10.5" text-anchor="start" fill="#1a1a1a">Protein processing in endoplasmic reticulum</text>
<rect x="645.5" y="696.2" width="11.9" height="96.0" fill="url(#gf)"/>
<line x1="658.2" y1="696.2" x2="658.2" y2="792.6" stroke="#222" stroke-width="0.8"/>
<line x1="658.2" y1="697.30" x2="660.0" y2="697.30" stroke="#222" stroke-width="0.8"/>
<text x="660.60" y="700.10" font-size="7.7" text-anchor="start" fill="#1a1a1a">4.00</text>
<line x1="658.2" y1="713.12" x2="660.0" y2="713.12" stroke="#222" stroke-width="0.8"/>
<text x="660.60" y="715.92" font-size="7.7" text-anchor="start" fill="#1a1a1a">3.50</text>
<line x1="658.2" y1="728.94" x2="660.0" y2="728.94" stroke="#222" stroke-width="0.8"/>
<text x="660.60" y="731.74" font-size="7.7" text-anchor="start" fill="#1a1a1a">3.00</text>
<line x1="658.2" y1="744.76" x2="660.0" y2="744.76" stroke="#222" stroke-width="0.8"/>
<text x="660.60" y="747.56" font-size="7.7" text-anchor="start" fill="#1a1a1a">2.50</text>
<line x1="658.2" y1="760.58" x2="660.0" y2="760.58" stroke="#222" stroke-width="0.8"/>
<text x="660.60" y="763.38" font-size="7.7" text-anchor="start" fill="#1a1a1a">2.00</text>
<line x1="658.2" y1="776.40" x2="660.0" y2="776.40" stroke="#222" stroke-width="0.8"/>
<text x="660.60" y="779.20" font-size="7.7" text-anchor="start" fill="#1a1a1a">1.50</text>
<line x1="658.2" y1="792.22" x2="660.0" y2="792.22" stroke="#222" stroke-width="0.8"/>
<text x="660.60" y="795.02" font-size="7.7" text-anchor="start" fill="#1a1a1a">1.00</text>
<text x="624.4" y="688.8" font-size="9.4" fill="#1a1a1a">-log<tspan font-size="6" dy="2.4">10</tspan><tspan dy="-2.4">(</tspan><tspan font-style="italic">p</tspan>-value)</text>
<g id="circos" transform="translate(0 -0.1) translate(0 20) scale(1 1.005) translate(0 -20)">
<g fill="none" stroke-width="7.50">
<path d="M484.1 27.6A123.3 123.3 0 0 1 485.3 27.7" stroke="#3d7bb8"/>
<path d="M485.1 27.7A123.3 123.3 0 0 1 486.4 27.7" stroke="#ddeaf5"/>
<path d="M486.2 27.7A123.3 123.3 0 0 1 487.4 27.8" stroke="#e2edf6"/>
<path d="M487.3 27.8A123.3 123.3 0 0 1 488.5 27.9" stroke="#fdeaea"/>
<path d="M488.3 27.9A123.3 123.3 0 0 1 489.6 27.9" stroke="#f6fafc"/>
<path d="M489.4 27.9A123.3 123.3 0 0 1 490.6 28.0" stroke="#e9f1f8"/>
<path d="M490.5 28.0A123.3 123.3 0 0 1 491.7 28.1" stroke="#fbc6c6"/>
<path d="M491.5 28.1A123.3 123.3 0 0 1 492.8 28.2" stroke="#f68383"/>
<path d="M492.6 28.2A123.3 123.3 0 0 1 493.8 28.4" stroke="#d2e2f1"/>
<path d="M493.6 28.3A123.3 123.3 0 0 1 494.9 28.5" stroke="#6c9cca"/>
<path d="M494.7 28.5A123.3 123.3 0 0 1 495.9 28.6" stroke="#f8fbfd"/>
<path d="M495.8 28.6A123.3 123.3 0 0 1 497.0 28.8" stroke="#ebf2f9"/>
<path d="M496.8 28.7A123.3 123.3 0 0 1 498.1 28.9" stroke="#e6eff7"/>
<path d="M497.9 28.9A123.3 123.3 0 0 1 499.1 29.1" stroke="#d9e7f3"/>
<path d="M498.9 29.1A123.3 123.3 0 0 1 500.2 29.3" stroke="#fde8e8"/>
<path d="M500.0 29.2A123.3 123.3 0 0 1 501.2 29.4" stroke="#ef2727"/>
<path d="M501.0 29.4A123.3 123.3 0 0 1 502.3 29.6" stroke="#fbc6c6"/>
<path d="M502.1 29.6A123.3 123.3 0 0 1 503.3 29.8" stroke="#edf3f9"/>
<path d="M503.1 29.8A123.3 123.3 0 0 1 504.4 30.0" stroke="#fef1f1"/>
<path d="M504.2 30.0A123.3 123.3 0 0 1 505.4 30.3" stroke="#fef3f3"/>
<path d="M505.2 30.2A123.3 123.3 0 0 1 506.5 30.5" stroke="#c4d9ec"/>
<path d="M506.3 30.4A123.3 123.3 0 0 1 507.5 30.7" stroke="#d7e6f3"/>
<path d="M507.3 30.7A123.3 123.3 0 0 1 508.5 31.0" stroke="#fde6e6"/>
<path d="M508.4 30.9A123.3 123.3 0 0 1 509.6 31.2" stroke="#fddddd"/>
<path d="M509.4 31.2A123.3 123.3 0 0 1 510.6 31.5" stroke="#fbc9c9"/>
<path d="M510.4 31.4A123.3 123.3 0 0 1 511.6 31.8" stroke="#fabfbf"/>
<path d="M511.5 31.7A123.3 123.3 0 0 1 512.7 32.0" stroke="#fabdbd"/>
<path d="M512.5 32.0A123.3 123.3 0 0 1 513.7 32.3" stroke="#fab7b7"/>
<path d="M513.5 32.3A123.3 123.3 0 0 1 514.7 32.6" stroke="#ee1e1e"/>
<path d="M514.6 32.6A123.3 123.3 0 0 1 515.7 32.9" stroke="#f78f8f"/>
<path d="M515.6 32.9A123.3 123.3 0 0 1 516.8 33.2" stroke="#fde4e4"/>
<path d="M516.6 33.2A123.3 123.3 0 0 1 517.8 33.6" stroke="#fde2e2"/>
<path d="M517.6 33.5A123.3 123.3 0 0 1 518.6 33.9" stroke="#f9adad"/>
<path d="M530.0 38.3A123.3 123.3 0 0 1 531.1 38.8" stroke="#a6c4e1"/>
<path d="M531.0 38.7A123.3 123.3 0 0 1 532.1 39.2" stroke="#8cb2d7"/>
<path d="M531.9 39.2A123.3 123.3 0 0 1 533.0 39.7" stroke="#a9c6e2"/>
<path d="M532.9 39.6A123.3 123.3 0 0 1 534.0 40.1" stroke="#5f93c5"/>
<path d="M533.8 40.1A123.3 123.3 0 0 1 535.0 40.6" stroke="#d5e4f2"/>
<path d="M534.8 40.5A123.3 123.3 0 0 1 535.9 41.1" stroke="#cee0f0"/>
<path d="M535.7 41.0A123.3 123.3 0 0 1 536.8 41.6" stroke="#5d92c5"/>
<path d="M536.7 41.5A123.3 123.3 0 0 1 537.8 42.1" stroke="#a6c4e1"/>
<path d="M537.6 42.0A123.3 123.3 0 0 1 538.7 42.6" stroke="#e0ebf5"/>
<path d="M538.6 42.5A123.3 123.3 0 0 1 539.6 43.1" stroke="#e3edf6"/>
<path d="M539.5 43.0A123.3 123.3 0 0 1 540.6 43.6" stroke="#fbfdfe"/>
<path d="M540.4 43.5A123.3 123.3 0 0 1 541.5 44.1" stroke="#fef6f6"/>
<path d="M541.3 44.1A123.3 123.3 0 0 1 542.4 44.7" stroke="#fabcbc"/>
<path d="M542.3 44.6A123.3 123.3 0 0 1 543.3 45.2" stroke="#f79696"/>
<path d="M543.2 45.1A123.3 123.3 0 0 1 544.2 45.8" stroke="#fbc5c5"/>
<path d="M544.1 45.7A123.3 123.3 0 0 1 545.1 46.3" stroke="#fabebe"/>
<path d="M545.0 46.2A123.3 123.3 0 0 1 546.0 46.9" stroke="#f9aeae"/>
<path d="M545.9 46.8A123.3 123.3 0 0 1 546.9 47.5" stroke="#fabfbf"/>
<path d="M546.8 47.4A123.3 123.3 0 0 1 547.8 48.1" stroke="#f8a4a4"/>
<path d="M547.7 48.0A123.3 123.3 0 0 1 548.7 48.7" stroke="#f78e8e"/>
<path d="M548.6 48.6A123.3 123.3 0 0 1 549.6 49.3" stroke="#ef2b2b"/>
<path d="M549.4 49.2A123.3 123.3 0 0 1 550.4 49.9" stroke="#f35e5e"/>
<path d="M550.3 49.8A123.3 123.3 0 0 1 551.3 50.5" stroke="#f9aaaa"/>
<path d="M551.2 50.4A123.3 123.3 0 0 1 552.2 51.1" stroke="#fababa"/>
<path d="M552.0 51.0A123.3 123.3 0 0 1 553.0 51.7" stroke="#f24c4c"/>
<path d="M552.9 51.6A123.3 123.3 0 0 1 553.9 52.4" stroke="#f46666"/>
<path d="M553.7 52.2A123.3 123.3 0 0 1 554.7 53.0" stroke="#f14343"/>
<path d="M554.6 52.9A123.3 123.3 0 0 1 555.6 53.6" stroke="#fddddd"/>
<path d="M555.4 53.5A123.3 123.3 0 0 1 556.4 54.3" stroke="#fddddd"/>
<path d="M556.3 54.2A123.3 123.3 0 0 1 557.2 55.0" stroke="#f35959"/>
<path d="M557.1 54.9A123.3 123.3 0 0 1 558.1 55.6" stroke="#fbc3c3"/>
<path d="M557.9 55.5A123.3 123.3 0 0 1 558.9 56.3" stroke="#f79595"/>
<path d="M558.7 56.2A123.3 123.3 0 0 1 559.6 56.9" stroke="#f8a3a3"/>
<path d="M568.5 65.2A123.3 123.3 0 0 1 569.3 66.1" stroke="#f36363"/>
<path d="M569.2 66.0A123.3 123.3 0 0 1 570.0 66.9" stroke="#f46e6e"/>
<path d="M569.9 66.8A123.3 123.3 0 0 1 570.8 67.7" stroke="#f79292"/>
<path d="M570.7 67.6A123.3 123.3 0 0 1 571.5 68.5" stroke="#fcd2d2"/>
<path d="M571.4 68.4A123.3 123.3 0 0 1 572.2 69.3" stroke="#f68787"/>
<path d="M572.1 69.2A123.3 123.3 0 0 1 572.9 70.1" stroke="#fabfbf"/>
<path d="M572.8 70.0A123.3 123.3 0 0 1 573.6 70.9" stroke="#f57272"/>
<path d="M573.5 70.8A123.3 123.3 0 0 1 574.3 71.7" stroke="#f79898"/>
<path d="M574.2 71.6A123.3 123.3 0 0 1 575.0 72.6" stroke="#fbc1c1"/>
<path d="M574.9 72.4A123.3 123.3 0 0 1 575.7 73.4" stroke="#f9adad"/>
<path d="M575.6 73.3A123.3 123.3 0 0 1 576.3 74.2" stroke="#fbc4c4"/>
<path d="M576.2 74.1A123.3 123.3 0 0 1 577.0 75.1" stroke="#fabcbc"/>
<path d="M576.9 74.9A123.3 123.3 0 0 1 577.6 75.9" stroke="#f35f5f"/>
<path d="M577.5 75.8A123.3 123.3 0 0 1 578.3 76.8" stroke="#f03737"/>
<path d="M578.2 76.6A123.3 123.3 0 0 1 578.9 77.6" stroke="#f9afaf"/>
<path d="M578.8 77.5A123.3 123.3 0 0 1 579.6 78.5" stroke="#fcd0d0"/>
<path d="M579.5 78.4A123.3 123.3 0 0 1 580.2 79.4" stroke="#f57a7a"/>
<path d="M580.1 79.2A123.3 123.3 0 0 1 580.8 80.2" stroke="#f4f8fc"/>
<path d="M580.7 80.1A123.3 123.3 0 0 1 581.4 81.1" stroke="#bcd4ea"/>
<path d="M581.3 81.0A123.3 123.3 0 0 1 582.0 82.0" stroke="#548cc1"/>
<path d="M581.9 81.9A123.3 123.3 0 0 1 582.6 82.9" stroke="#80aad2"/>
<path d="M582.5 82.8A123.3 123.3 0 0 1 583.2 83.8" stroke="#fddddd"/>
<path d="M583.1 83.7A123.3 123.3 0 0 1 583.8 84.7" stroke="#fbc9c9"/>
<path d="M583.7 84.6A123.3 123.3 0 0 1 584.4 85.6" stroke="#f9fbfd"/>
<path d="M584.3 85.5A123.3 123.3 0 0 1 584.9 86.5" stroke="#fbc3c3"/>
<path d="M584.8 86.4A123.3 123.3 0 0 1 585.5 87.4" stroke="#f46a6a"/>
<path d="M585.4 87.3A123.3 123.3 0 0 1 586.0 88.4" stroke="#fef0f0"/>
<path d="M585.9 88.2A123.3 123.3 0 0 1 586.6 89.3" stroke="#5f93c5"/>
<path d="M586.5 89.1A123.3 123.3 0 0 1 587.0 90.1" stroke="#2d70b2"/>
<path d="M592.5 101.0A123.3 123.3 0 0 1 593.0 102.1" stroke="#fab8b8"/>
<path d="M592.9 101.9A123.3 123.3 0 0 1 593.4 103.1" stroke="#fcd2d2"/>
<path d="M593.3 102.9A123.3 123.3 0 0 1 593.8 104.1" stroke="#fbc5c5"/>
<path d="M593.7 103.9A123.3 123.3 0 0 1 594.2 105.0" stroke="#feebeb"/>
<path d="M594.1 104.9A123.3 123.3 0 0 1 594.6 106.0" stroke="#fefeff"/>
<path d="M594.5 105.9A123.3 123.3 0 0 1 595.0 107.0" stroke="#fddddd"/>
<path d="M594.9 106.9A123.3 123.3 0 0 1 595.4 108.0" stroke="#fddfdf"/>
<path d="M595.3 107.9A123.3 123.3 0 0 1 595.7 109.0" stroke="#fffbfb"/>
<path d="M595.7 108.8A123.3 123.3 0 0 1 596.1 110.0" stroke="#a4c3e0"/>
<path d="M596.0 109.8A123.3 123.3 0 0 1 596.4 111.0" stroke="#cddff0"/>
<path d="M596.4 110.9A123.3 123.3 0 0 1 596.8 112.0" stroke="#cbdeef"/>
<path d="M596.7 111.9A123.3 123.3 0 0 1 597.1 113.0" stroke="#cee0f0"/>
<path d="M597.0 112.9A123.3 123.3 0 0 1 597.4 114.0" stroke="#f3f7fb"/>
<path d="M597.4 113.9A123.3 123.3 0 0 1 597.7 115.1" stroke="#ddeaf5"/>
<path d="M597.7 114.9A123.3 123.3 0 0 1 598.0 116.1" stroke="#fbc7c7"/>
<path d="M598.0 115.9A123.3 123.3 0 0 1 598.3 117.1" stroke="#fbc5c5"/>
<path d="M598.3 116.9A123.3 123.3 0 0 1 598.6 118.1" stroke="#f35e5e"/>
<path d="M598.6 118.0A123.3 123.3 0 0 1 598.9 119.1" stroke="#fcfdfe"/>
<path d="M598.8 119.0A123.3 123.3 0 0 1 599.2 120.2" stroke="#f46c6c"/>
<path d="M599.1 120.0A123.3 123.3 0 0 1 599.4 121.2" stroke="#f79797"/>
<path d="M599.4 121.0A123.3 123.3 0 0 1 599.7 122.2" stroke="#fbc8c8"/>
<path d="M599.6 122.1A123.3 123.3 0 0 1 599.9 123.3" stroke="#f79898"/>
<path d="M599.9 123.1A123.3 123.3 0 0 1 600.2 124.3" stroke="#fabbbb"/>
<path d="M600.1 124.1A123.3 123.3 0 0 1 600.4 125.4" stroke="#fddfdf"/>
<path d="M600.3 125.2A123.3 123.3 0 0 1 600.6 126.4" stroke="#ffffff"/>
<path d="M600.6 126.2A123.3 123.3 0 0 1 600.8 127.4" stroke="#f3f7fb"/>
<path d="M600.8 127.3A123.3 123.3 0 0 1 601.0 128.3" stroke="#a4c3e0"/>
<path d="M602.6 140.4A123.3 123.3 0 0 1 602.7 141.6" stroke="#f8a5a5"/>
<path d="M602.7 141.5A123.3 123.3 0 0 1 602.8 142.7" stroke="#f9a8a8"/>
<path d="M602.8 142.6A123.3 123.3 0 0 1 602.8 143.8" stroke="#ffffff"/>
<path d="M602.8 143.6A123.3 123.3 0 0 1 602.9 144.9" stroke="#fde5e5"/>
<path d="M602.9 144.7A123.3 123.3 0 0 1 603.0 146.0" stroke="#f89e9e"/>
<path d="M602.9 145.8A123.3 123.3 0 0 1 603.0 147.0" stroke="#f25858"/>
<path d="M603.0 146.9A123.3 123.3 0 0 1 603.0 148.1" stroke="#fde7e7"/>
<path d="M603.0 148.0A123.3 123.3 0 0 1 603.0 149.2" stroke="#f8a3a3"/>
<path d="M603.0 149.0A123.3 123.3 0 0 1 603.0 150.3" stroke="#f14343"/>
<path d="M603.0 150.1A123.3 123.3 0 0 1 603.0 151.4" stroke="#f25050"/>
<path d="M603.0 151.2A123.3 123.3 0 0 1 603.0 152.5" stroke="#f79393"/>
<path d="M603.0 152.3A123.3 123.3 0 0 1 603.0 153.5" stroke="#f46e6e"/>
<path d="M603.0 153.4A123.3 123.3 0 0 1 603.0 154.6" stroke="#fbc1c1"/>
<path d="M603.0 154.4A123.3 123.3 0 0 1 603.0 155.7" stroke="#fde6e6"/>
<path d="M603.0 155.5A123.3 123.3 0 0 1 602.9 156.8" stroke="#fab9b9"/>
<path d="M602.9 156.6A123.3 123.3 0 0 1 602.9 157.9" stroke="#fde1e1"/>
<path d="M602.9 157.7A123.3 123.3 0 0 1 602.8 158.9" stroke="#fababa"/>
<path d="M602.8 158.8A123.3 123.3 0 0 1 602.7 160.0" stroke="#f5f8fc"/>
<path d="M602.7 159.8A123.3 123.3 0 0 1 602.6 161.1" stroke="#d4e3f2"/>
<path d="M602.6 160.9A123.3 123.3 0 0 1 602.5 162.2" stroke="#eff5fa"/>
<path d="M602.5 162.0A123.3 123.3 0 0 1 602.4 163.3" stroke="#fddfdf"/>
<path d="M602.4 163.1A123.3 123.3 0 0 1 602.3 164.3" stroke="#fdfefe"/>
<path d="M602.3 164.2A123.3 123.3 0 0 1 602.2 165.4" stroke="#f3f7fb"/>
<path d="M602.2 165.2A123.3 123.3 0 0 1 602.1 166.5" stroke="#f6f9fc"/>
<path d="M602.1 166.3A123.3 123.3 0 0 1 601.9 167.5" stroke="#fef0f0"/>
<path d="M601.9 167.4A123.3 123.3 0 0 1 601.8 168.6" stroke="#fbcece"/>
<path d="M601.8 168.4A123.3 123.3 0 0 1 601.6 169.7" stroke="#fffbfb"/>
<path d="M601.6 169.5A123.3 123.3 0 0 1 601.4 170.8" stroke="#d6e5f2"/>
<path d="M601.5 170.6A123.3 123.3 0 0 1 601.3 171.8" stroke="#fde5e5"/>
<path d="M601.3 171.7A123.3 123.3 0 0 1 601.1 172.9" stroke="#fbcdcd"/>
<path d="M601.1 172.7A123.3 123.3 0 0 1 600.9 174.0" stroke="#fcd2d2"/>
<path d="M600.9 173.8A123.3 123.3 0 0 1 600.7 175.0" stroke="#fef7f7"/>
<path d="M600.7 174.8A123.3 123.3 0 0 1 600.5 176.1" stroke="#feebeb"/>
<path d="M600.5 175.9A123.3 123.3 0 0 1 600.2 177.1" stroke="#fcd6d6"/>
<path d="M600.3 177.0A123.3 123.3 0 0 1 600.0 178.2" stroke="#f9afaf"/>
<path d="M600.0 178.0A123.3 123.3 0 0 1 599.7 179.2" stroke="#fbc7c7"/>
<path d="M599.8 179.1A123.3 123.3 0 0 1 599.5 180.3" stroke="#feeaea"/>
<path d="M599.5 180.1A123.3 123.3 0 0 1 599.2 181.3" stroke="#fcd3d3"/>
<path d="M599.3 181.2A123.3 123.3 0 0 1 599.0 182.4" stroke="#e2ecf6"/>
<path d="M599.0 182.2A123.3 123.3 0 0 1 598.7 183.4" stroke="#fcd0d0"/>
<path d="M598.7 183.3A123.3 123.3 0 0 1 598.4 184.5" stroke="#f9b0b0"/>
<path d="M598.4 184.3A123.3 123.3 0 0 1 598.1 185.5" stroke="#fddddd"/>
<path d="M598.1 185.4A123.3 123.3 0 0 1 597.8 186.6" stroke="#f68383"/>
<path d="M597.8 186.4A123.3 123.3 0 0 1 597.5 187.6" stroke="#f57b7b"/>
<path d="M597.5 187.4A123.3 123.3 0 0 1 597.1 188.6" stroke="#f46868"/>
<path d="M597.2 188.5A123.3 123.3 0 0 1 596.8 189.6" stroke="#f89c9c"/>
<path d="M596.9 189.5A123.3 123.3 0 0 1 596.5 190.5" stroke="#fcdcdc"/>
<path d="M592.0 201.9A123.3 123.3 0 0 1 591.5 203.0" stroke="#e1ecf6"/>
<path d="M591.6 202.8A123.3 123.3 0 0 1 591.1 203.9" stroke="#fde7e7"/>
<path d="M591.1 203.8A123.3 123.3 0 0 1 590.6 204.9" stroke="#f68484"/>
<path d="M590.7 204.8A123.3 123.3 0 0 1 590.1 205.9" stroke="#f79494"/>
<path d="M590.2 205.7A123.3 123.3 0 0 1 589.6 206.8" stroke="#ee1e1e"/>
<path d="M589.7 206.7A123.3 123.3 0 0 1 589.2 207.8" stroke="#f9aaaa"/>
<path d="M589.2 207.6A123.3 123.3 0 0 1 588.7 208.7" stroke="#f35d5d"/>
<path d="M588.7 208.6A123.3 123.3 0 0 1 588.2 209.6" stroke="#f24d4d"/>
<path d="M588.2 209.5A123.3 123.3 0 0 1 587.6 210.6" stroke="#f14747"/>
<path d="M587.7 210.4A123.3 123.3 0 0 1 587.1 211.5" stroke="#fab6b6"/>
<path d="M587.2 211.4A123.3 123.3 0 0 1 586.6 212.4" stroke="#f9adad"/>
<path d="M586.7 212.3A123.3 123.3 0 0 1 586.1 213.4" stroke="#fabebe"/>
<path d="M586.2 213.2A123.3 123.3 0 0 1 585.5 214.3" stroke="#f9b0b0"/>
<path d="M585.6 214.1A123.3 123.3 0 0 1 585.0 215.2" stroke="#fbc8c8"/>
<path d="M585.1 215.0A123.3 123.3 0 0 1 584.4 216.1" stroke="#fcd4d4"/>
<path d="M584.5 216.0A123.3 123.3 0 0 1 583.8 217.0" stroke="#f8a2a2"/>
<path d="M583.9 216.9A123.3 123.3 0 0 1 583.3 217.9" stroke="#fbc1c1"/>
<path d="M583.4 217.8A123.3 123.3 0 0 1 582.7 218.8" stroke="#f68989"/>
<path d="M582.8 218.7A123.3 123.3 0 0 1 582.1 219.7" stroke="#fbc5c5"/>
<path d="M582.2 219.5A123.3 123.3 0 0 1 581.5 220.6" stroke="#f9aeae"/>
<path d="M581.6 220.4A123.3 123.3 0 0 1 580.9 221.4" stroke="#ee1e1e"/>
<path d="M581.0 221.3A123.3 123.3 0 0 1 580.3 222.3" stroke="#f9aaaa"/>
<path d="M580.4 222.2A123.3 123.3 0 0 1 579.6 223.2" stroke="#f78e8e"/>
<path d="M579.8 223.0A123.3 123.3 0 0 1 579.0 224.0" stroke="#fbc0c0"/>
<path d="M579.1 223.9A123.3 123.3 0 0 1 578.4 224.9" stroke="#fffbfb"/>
<path d="M578.5 224.8A123.3 123.3 0 0 1 577.7 225.8" stroke="#b0cbe5"/>
<path d="M577.8 225.6A123.3 123.3 0 0 1 577.1 226.6" stroke="#fde7e7"/>
<path d="M577.2 226.5A123.3 123.3 0 0 1 576.4 227.4" stroke="#fef1f1"/>
<path d="M576.5 227.3A123.3 123.3 0 0 1 575.8 228.3" stroke="#dde9f4"/>
<path d="M575.9 228.1A123.3 123.3 0 0 1 575.1 229.1" stroke="#7ba6d0"/>
<path d="M575.2 229.0A123.3 123.3 0 0 1 574.4 229.9" stroke="#feefef"/>
<path d="M574.5 229.8A123.3 123.3 0 0 1 573.7 230.7" stroke="#e0ecf6"/>
<path d="M573.8 230.6A123.3 123.3 0 0 1 573.0 231.5" stroke="#ddeaf5"/>
<path d="M573.1 231.4A123.3 123.3 0 0 1 572.3 232.4" stroke="#f7fafd"/>
<path d="M572.4 232.2A123.3 123.3 0 0 1 571.6 233.2" stroke="#dbe8f4"/>
<path d="M571.7 233.0A123.3 123.3 0 0 1 570.9 233.9" stroke="#f5f9fc"/>
<path d="M571.0 233.8A123.3 123.3 0 0 1 570.2 234.7" stroke="#fcd8d8"/>
<path d="M570.3 234.6A123.3 123.3 0 0 1 569.5 235.5" stroke="#fcd2d2"/>
<path d="M569.6 235.4A123.3 123.3 0 0 1 568.7 236.3" stroke="#fcd1d1"/>
<path d="M568.8 236.2A123.3 123.3 0 0 1 568.0 237.0" stroke="#f8a0a0"/>
<path d="M568.1 236.9A123.3 123.3 0 0 1 567.2 237.8" stroke="#f79191"/>
<path d="M567.4 237.7A123.3 123.3 0 0 1 566.5 238.6" stroke="#f89b9b"/>
<path d="M566.6 238.4A123.3 123.3 0 0 1 565.7 239.3" stroke="#fab6b6"/>
<path d="M565.8 239.2A123.3 123.3 0 0 1 565.1 239.9" stroke="#fcd8d8"/>
<path d="M555.9 247.9A123.3 123.3 0 0 1 554.9 248.7" stroke="#f5f9fc"/>
<path d="M555.0 248.6A123.3 123.3 0 0 1 554.0 249.4" stroke="#fdfefe"/>
<path d="M554.1 249.3A123.3 123.3 0 0 1 553.1 250.0" stroke="#f46e6e"/>
<path d="M553.3 249.9A123.3 123.3 0 0 1 552.3 250.6" stroke="#f35f5f"/>
<path d="M552.4 250.5A123.3 123.3 0 0 1 551.4 251.3" stroke="#fbc1c1"/>
<path d="M551.5 251.2A123.3 123.3 0 0 1 550.5 251.9" stroke="#f6f9fc"/>
<path d="M550.6 251.8A123.3 123.3 0 0 1 549.6 252.5" stroke="#fbcaca"/>
<path d="M549.8 252.4A123.3 123.3 0 0 1 548.7 253.1" stroke="#f36565"/>
<path d="M548.9 253.0A123.3 123.3 0 0 1 547.8 253.7" stroke="#fbc3c3"/>
<path d="M548.0 253.6A123.3 123.3 0 0 1 546.9 254.3" stroke="#fef8f8"/>
<path d="M547.0 254.2A123.3 123.3 0 0 1 546.0 254.9" stroke="#f8a5a5"/>
<path d="M546.1 254.8A123.3 123.3 0 0 1 545.1 255.5" stroke="#fab9b9"/>
<path d="M545.2 255.4A123.3 123.3 0 0 1 544.2 256.1" stroke="#ffffff"/>
<path d="M544.3 256.0A123.3 123.3 0 0 1 543.2 256.6" stroke="#fbc9c9"/>
<path d="M543.4 256.5A123.3 123.3 0 0 1 542.3 257.2" stroke="#f25757"/>
<path d="M542.4 257.1A123.3 123.3 0 0 1 541.4 257.7" stroke="#fcd1d1"/>
<path d="M541.5 257.6A123.3 123.3 0 0 1 540.4 258.3" stroke="#fde6e6"/>
<path d="M540.6 258.2A123.3 123.3 0 0 1 539.5 258.8" stroke="#fef3f3"/>
<path d="M539.6 258.7A123.3 123.3 0 0 1 538.5 259.3" stroke="#fde0e0"/>
<path d="M538.7 259.2A123.3 123.3 0 0 1 537.6 259.8" stroke="#fde6e6"/>
<path d="M537.7 259.8A123.3 123.3 0 0 1 536.6 260.3" stroke="#f4f8fc"/>
<path d="M536.8 260.3A123.3 123.3 0 0 1 535.6 260.8" stroke="#f9fbfd"/>
<path d="M535.8 260.8A123.3 123.3 0 0 1 534.7 261.3" stroke="#fcfdfe"/>
<path d="M534.8 261.2A123.3 123.3 0 0 1 533.7 261.8" stroke="#fcfdfe"/>
<path d="M533.8 261.7A123.3 123.3 0 0 1 532.7 262.3" stroke="#fbfcfe"/>
<path d="M532.9 262.2A123.3 123.3 0 0 1 531.7 262.7" stroke="#fbc7c7"/>
<path d="M531.9 262.7A123.3 123.3 0 0 1 530.7 263.2" stroke="#f9fbfd"/>
<path d="M530.9 263.1A123.3 123.3 0 0 1 529.8 263.6" stroke="#f7fafc"/>
<path d="M529.9 263.6A123.3 123.3 0 0 1 528.8 264.1" stroke="#fef2f2"/>
<path d="M528.9 264.0A123.3 123.3 0 0 1 527.8 264.5" stroke="#f8a4a4"/>
<path d="M527.9 264.4A123.3 123.3 0 0 1 526.8 264.9" stroke="#fbc4c4"/>
<path d="M526.9 264.9A123.3 123.3 0 0 1 525.8 265.3" stroke="#e2ecf6"/>
<path d="M525.9 265.3A123.3 123.3 0 0 1 524.8 265.7" stroke="#fff9f9"/>
<path d="M524.9 265.7A123.3 123.3 0 0 1 523.7 266.1" stroke="#fac0c0"/>
<path d="M523.9 266.1A123.3 123.3 0 0 1 522.7 266.5" stroke="#fde4e4"/>
<path d="M522.9 266.4A123.3 123.3 0 0 1 521.7 266.9" stroke="#feebeb"/>
<path d="M521.9 266.8A123.3 123.3 0 0 1 520.7 267.2" stroke="#fcd0d0"/>
<path d="M520.9 267.2A123.3 123.3 0 0 1 519.7 267.6" stroke="#feecec"/>
<path d="M519.8 267.5A123.3 123.3 0 0 1 518.6 267.9" stroke="#fcd6d6"/>
<path d="M518.8 267.9A123.3 123.3 0 0 1 517.6 268.3" stroke="#ebf2f9"/>
<path d="M517.8 268.2A123.3 123.3 0 0 1 516.7 268.6" stroke="#fff9f9"/>
<path d="M504.9 271.6A123.3 123.3 0 0 1 503.7 271.9" stroke="#f68888"/>
<path d="M503.9 271.9A123.3 123.3 0 0 1 502.6 272.1" stroke="#f25858"/>
<path d="M502.8 272.1A123.3 123.3 0 0 1 501.6 272.3" stroke="#f57272"/>
<path d="M501.8 272.3A123.3 123.3 0 0 1 500.5 272.5" stroke="#fabcbc"/>
<path d="M500.7 272.5A123.3 123.3 0 0 1 499.5 272.7" stroke="#fab4b4"/>
<path d="M499.6 272.6A123.3 123.3 0 0 1 498.4 272.8" stroke="#f46d6d"/>
<path d="M498.6 272.8A123.3 123.3 0 0 1 497.3 273.0" stroke="#fcfdfe"/>
<path d="M497.5 273.0A123.3 123.3 0 0 1 496.2 273.1" stroke="#fbc1c1"/>
<path d="M496.4 273.1A123.3 123.3 0 0 1 495.2 273.3" stroke="#f68383"/>
<path d="M495.3 273.3A123.3 123.3 0 0 1 494.1 273.4" stroke="#f57373"/>
<path d="M494.3 273.4A123.3 123.3 0 0 1 493.0 273.5" stroke="#f36161"/>
<path d="M493.2 273.5A123.3 123.3 0 0 1 491.9 273.6" stroke="#f89e9e"/>
<path d="M492.1 273.6A123.3 123.3 0 0 1 490.9 273.7" stroke="#fddddd"/>
<path d="M491.0 273.7A123.3 123.3 0 0 1 489.8 273.8" stroke="#fbfcfe"/>
<path d="M490.0 273.8A123.3 123.3 0 0 1 488.7 273.9" stroke="#dbe8f4"/>
<path d="M488.9 273.9A123.3 123.3 0 0 1 487.6 274.0" stroke="#fef3f3"/>
<path d="M487.8 274.0A123.3 123.3 0 0 1 486.6 274.1" stroke="#fccfcf"/>
<path d="M486.7 274.0A123.3 123.3 0 0 1 485.5 274.1" stroke="#f5f9fc"/>
<path d="M485.6 274.1A123.3 123.3 0 0 1 484.4 274.2" stroke="#feecec"/>
<path d="M484.6 274.2A123.3 123.3 0 0 1 483.3 274.2" stroke="#c9ddee"/>
<path d="M483.5 274.2A123.3 123.3 0 0 1 482.2 274.2" stroke="#a0c0de"/>
<path d="M482.4 274.2A123.3 123.3 0 0 1 481.1 274.2" stroke="#eaf2f9"/>
<path d="M481.3 274.2A123.3 123.3 0 0 1 480.1 274.2" stroke="#d9e7f3"/>
<path d="M480.2 274.2A123.3 123.3 0 0 1 479.0 274.2" stroke="#deeaf5"/>
<path d="M479.2 274.2A123.3 123.3 0 0 1 477.9 274.2" stroke="#f9acac"/>
<path d="M478.1 274.2A123.3 123.3 0 0 1 476.8 274.2" stroke="#feefef"/>
<path d="M477.0 274.2A123.3 123.3 0 0 1 475.7 274.2" stroke="#fffbfb"/>
<path d="M475.9 274.2A123.3 123.3 0 0 1 474.7 274.1" stroke="#f9b0b0"/>
<path d="M474.8 274.2A123.3 123.3 0 0 1 473.6 274.1" stroke="#f46e6e"/>
<path d="M473.8 274.1A123.3 123.3 0 0 1 472.5 274.0" stroke="#f57676"/>
<path d="M472.7 274.0A123.3 123.3 0 0 1 471.4 274.0" stroke="#fbc9c9"/>
<path d="M471.6 274.0A123.3 123.3 0 0 1 470.3 273.9" stroke="#f79797"/>
<path d="M470.5 273.9A123.3 123.3 0 0 1 469.3 273.8" stroke="#fab5b5"/>
<path d="M469.4 273.8A123.3 123.3 0 0 1 468.2 273.7" stroke="#fff9f9"/>
<path d="M468.4 273.7A123.3 123.3 0 0 1 467.1 273.6" stroke="#fac0c0"/>
<path d="M467.3 273.6A123.3 123.3 0 0 1 466.0 273.5" stroke="#fde6e6"/>
<path d="M466.2 273.5A123.3 123.3 0 0 1 465.0 273.4" stroke="#fddede"/>
<path d="M465.1 273.4A123.3 123.3 0 0 1 463.9 273.2" stroke="#fab8b8"/>
<path d="M464.1 273.3A123.3 123.3 0 0 1 462.8 273.1" stroke="#feeeee"/>
<path d="M463.0 273.1A123.3 123.3 0 0 1 461.7 272.9" stroke="#ebf2f9"/>
<path d="M461.9 273.0A123.3 123.3 0 0 1 460.7 272.8" stroke="#fcd7d7"/>
<path d="M460.8 272.8A123.3 123.3 0 0 1 459.8 272.6" stroke="#f9fbfd"/>
<path d="M447.9 270.1A123.3 123.3 0 0 1 446.7 269.7" stroke="#ee1f1f"/>
<path d="M446.8 269.8A123.3 123.3 0 0 1 445.6 269.4" stroke="#ef2e2e"/>
<path d="M445.8 269.5A123.3 123.3 0 0 1 444.6 269.1" stroke="#fabfbf"/>
<path d="M444.8 269.2A123.3 123.3 0 0 1 443.6 268.8" stroke="#fccfcf"/>
<path d="M443.7 268.9A123.3 123.3 0 0 1 442.6 268.5" stroke="#fbc7c7"/>
<path d="M442.7 268.6A123.3 123.3 0 0 1 441.5 268.2" stroke="#fcd8d8"/>
<path d="M441.7 268.3A123.3 123.3 0 0 1 440.5 267.9" stroke="#fabebe"/>
<path d="M440.7 267.9A123.3 123.3 0 0 1 439.5 267.5" stroke="#fbc4c4"/>
<path d="M439.7 267.6A123.3 123.3 0 0 1 438.5 267.2" stroke="#fcdcdc"/>
<path d="M438.7 267.2A123.3 123.3 0 0 1 437.5 266.8" stroke="#fcd3d3"/>
<path d="M437.7 266.9A123.3 123.3 0 0 1 436.5 266.4" stroke="#fef2f2"/>
<path d="M436.6 266.5A123.3 123.3 0 0 1 435.5 266.1" stroke="#fde6e6"/>
<path d="M435.6 266.1A123.3 123.3 0 0 1 434.5 265.7" stroke="#f79999"/>
<path d="M434.7 265.7A123.3 123.3 0 0 1 433.5 265.3" stroke="#fff9f9"/>
<path d="M433.7 265.3A123.3 123.3 0 0 1 432.5 264.9" stroke="#fde5e5"/>
<path d="M432.7 264.9A123.3 123.3 0 0 1 431.5 264.5" stroke="#fefeff"/>
<path d="M431.7 264.5A123.3 123.3 0 0 1 430.5 264.0" stroke="#f8a5a5"/>
<path d="M430.7 264.1A123.3 123.3 0 0 1 429.6 263.6" stroke="#fffcfc"/>
<path d="M429.7 263.7A123.3 123.3 0 0 1 428.6 263.2" stroke="#e6eff7"/>
<path d="M428.7 263.2A123.3 123.3 0 0 1 427.6 262.7" stroke="#f4f8fc"/>
<path d="M427.8 262.8A123.3 123.3 0 0 1 426.6 262.3" stroke="#eaf2f9"/>
<path d="M426.8 262.3A123.3 123.3 0 0 1 425.7 261.8" stroke="#fffcfc"/>
<path d="M425.8 261.9A123.3 123.3 0 0 1 424.7 261.3" stroke="#fdfefe"/>
<path d="M424.9 261.4A123.3 123.3 0 0 1 423.8 260.8" stroke="#cfe1f0"/>
<path d="M423.9 260.9A123.3 123.3 0 0 1 422.8 260.4" stroke="#bed5ea"/>
<path d="M423.0 260.4A123.3 123.3 0 0 1 421.9 259.9" stroke="#dbe8f4"/>
<path d="M422.0 259.9A123.3 123.3 0 0 1 420.9 259.3" stroke="#feeded"/>
<path d="M421.1 259.4A123.3 123.3 0 0 1 420.0 258.8" stroke="#fafcfd"/>
<path d="M420.1 258.9A123.3 123.3 0 0 1 419.1 258.3" stroke="#d6e5f2"/>
<path d="M419.2 258.4A123.3 123.3 0 0 1 418.1 257.8" stroke="#edf3f9"/>
<path d="M418.3 257.9A123.3 123.3 0 0 1 417.2 257.2" stroke="#fef4f4"/>
<path d="M417.4 257.3A123.3 123.3 0 0 1 416.3 256.7" stroke="#e8f1f8"/>
<path d="M416.4 256.8A123.3 123.3 0 0 1 415.4 256.1" stroke="#fab6b6"/>
<path d="M415.5 256.2A123.3 123.3 0 0 1 414.5 255.6" stroke="#f25454"/>
<path d="M414.6 255.7A123.3 123.3 0 0 1 413.6 255.0" stroke="#f46969"/>
<path d="M413.7 255.1A123.3 123.3 0 0 1 412.7 254.4" stroke="#ee1e1e"/>
<path d="M412.8 254.5A123.3 123.3 0 0 1 411.9 253.9" stroke="#f68181"/>
<path d="M402.1 246.7A123.3 123.3 0 0 1 401.1 246.0" stroke="#f47171"/>
<path d="M401.2 246.1A123.3 123.3 0 0 1 400.3 245.3" stroke="#fbc8c8"/>
<path d="M400.4 245.4A123.3 123.3 0 0 1 399.4 244.6" stroke="#f9adad"/>
<path d="M399.6 244.7A123.3 123.3 0 0 1 398.6 243.9" stroke="#f47070"/>
<path d="M398.8 244.0A123.3 123.3 0 0 1 397.8 243.2" stroke="#f9b1b1"/>
<path d="M397.9 243.3A123.3 123.3 0 0 1 397.0 242.4" stroke="#f46a6a"/>
<path d="M397.1 242.5A123.3 123.3 0 0 1 396.2 241.7" stroke="#fcd4d4"/>
<path d="M396.3 241.8A123.3 123.3 0 0 1 395.4 241.0" stroke="#f57272"/>
<path d="M395.6 241.1A123.3 123.3 0 0 1 394.6 240.2" stroke="#fab3b3"/>
<path d="M394.8 240.3A123.3 123.3 0 0 1 393.9 239.5" stroke="#f8a2a2"/>
<path d="M394.0 239.6A123.3 123.3 0 0 1 393.1 238.7" stroke="#fcd6d6"/>
<path d="M393.2 238.9A123.3 123.3 0 0 1 392.3 238.0" stroke="#fbcbcb"/>
<path d="M392.4 238.1A123.3 123.3 0 0 1 391.6 237.2" stroke="#dbe8f4"/>
<path d="M391.7 237.3A123.3 123.3 0 0 1 390.8 236.4" stroke="#ffffff"/>
<path d="M390.9 236.6A123.3 123.3 0 0 1 390.1 235.6" stroke="#fde6e6"/>
<path d="M390.2 235.8A123.3 123.3 0 0 1 389.3 234.9" stroke="#fbcece"/>
<path d="M389.5 235.0A123.3 123.3 0 0 1 388.6 234.1" stroke="#fbcdcd"/>
<path d="M388.7 234.2A123.3 123.3 0 0 1 387.9 233.3" stroke="#fbcbcb"/>
<path d="M388.0 233.4A123.3 123.3 0 0 1 387.2 232.5" stroke="#fcdcdc"/>
<path d="M387.3 232.6A123.3 123.3 0 0 1 386.5 231.7" stroke="#bbd3e9"/>
<path d="M386.6 231.8A123.3 123.3 0 0 1 385.8 230.8" stroke="#d5e4f2"/>
<path d="M385.9 231.0A123.3 123.3 0 0 1 385.1 230.0" stroke="#bbd3e9"/>
<path d="M385.2 230.1A123.3 123.3 0 0 1 384.4 229.2" stroke="#a5c4e1"/>
<path d="M384.5 229.3A123.3 123.3 0 0 1 383.7 228.3" stroke="#6194c6"/>
<path d="M383.8 228.5A123.3 123.3 0 0 1 383.0 227.5" stroke="#d8e6f3"/>
<path d="M383.1 227.6A123.3 123.3 0 0 1 382.3 226.7" stroke="#fbfcfe"/>
<path d="M382.5 226.8A123.3 123.3 0 0 1 381.7 225.8" stroke="#d8e6f3"/>
<path d="M381.8 225.9A123.3 123.3 0 0 1 381.0 224.9" stroke="#ebf2f9"/>
<path d="M381.1 225.1A123.3 123.3 0 0 1 380.4 224.1" stroke="#c9dcee"/>
<path d="M380.5 224.2A123.3 123.3 0 0 1 379.8 223.2" stroke="#cbdeef"/>
<path d="M379.9 223.3A123.3 123.3 0 0 1 379.1 222.3" stroke="#cbdeef"/>
<path d="M379.2 222.5A123.3 123.3 0 0 1 378.5 221.4" stroke="#ebf2f9"/>
<path d="M378.6 221.6A123.3 123.3 0 0 1 377.9 220.6" stroke="#fddede"/>
<path d="M378.0 220.7A123.3 123.3 0 0 1 377.3 219.7" stroke="#f57c7c"/>
<path d="M377.4 219.8A123.3 123.3 0 0 1 376.7 218.8" stroke="#fabcbc"/>
<path d="M376.8 218.9A123.3 123.3 0 0 1 376.1 217.9" stroke="#f03c3c"/>
<path d="M376.2 218.0A123.3 123.3 0 0 1 375.5 217.0" stroke="#f25151"/>
<path d="M375.6 217.1A123.3 123.3 0 0 1 375.0 216.0" stroke="#f24e4e"/>
<path d="M375.0 216.2A123.3 123.3 0 0 1 374.4 215.1" stroke="#f8a5a5"/>
<path d="M374.5 215.3A123.3 123.3 0 0 1 373.8 214.2" stroke="#f47070"/>
<path d="M373.9 214.3A123.3 123.3 0 0 1 373.4 213.4" stroke="#f9b0b0"/>
<path d="M367.7 202.6A123.3 123.3 0 0 1 367.2 201.5" stroke="#fef7f7"/>
<path d="M367.3 201.6A123.3 123.3 0 0 1 366.7 200.5" stroke="#f1f6fb"/>
<path d="M366.8 200.6A123.3 123.3 0 0 1 366.3 199.5" stroke="#e5eef7"/>
<path d="M366.4 199.6A123.3 123.3 0 0 1 365.9 198.5" stroke="#fde4e4"/>
<path d="M366.0 198.6A123.3 123.3 0 0 1 365.5 197.5" stroke="#f68484"/>
<path d="M365.5 197.6A123.3 123.3 0 0 1 365.1 196.4" stroke="#fddddd"/>
<path d="M365.1 196.6A123.3 123.3 0 0 1 364.7 195.4" stroke="#fbc6c6"/>
<path d="M364.7 195.6A123.3 123.3 0 0 1 364.3 194.4" stroke="#fbcbcb"/>
<path d="M364.3 194.6A123.3 123.3 0 0 1 363.9 193.4" stroke="#f57878"/>
<path d="M364.0 193.6A123.3 123.3 0 0 1 363.5 192.4" stroke="#fab9b9"/>
<path d="M363.6 192.5A123.3 123.3 0 0 1 363.2 191.3" stroke="#f9adad"/>
<path d="M363.2 191.5A123.3 123.3 0 0 1 362.8 190.3" stroke="#fcdbdb"/>
<path d="M362.9 190.5A123.3 123.3 0 0 1 362.5 189.3" stroke="#fbc8c8"/>
<path d="M362.5 189.4A123.3 123.3 0 0 1 362.1 188.2" stroke="#fde9e9"/>
<path d="M362.2 188.4A123.3 123.3 0 0 1 361.8 187.2" stroke="#fbc8c8"/>
<path d="M361.9 187.4A123.3 123.3 0 0 1 361.5 186.1" stroke="#f9afaf"/>
<path d="M361.5 186.3A123.3 123.3 0 0 1 361.2 185.1" stroke="#fbc1c1"/>
<path d="M361.2 185.3A123.3 123.3 0 0 1 360.9 184.1" stroke="#fccece"/>
<path d="M360.9 184.2A123.3 123.3 0 0 1 360.6 183.0" stroke="#fffdfd"/>
<path d="M360.6 183.2A123.3 123.3 0 0 1 360.3 181.9" stroke="#fbc6c6"/>
<path d="M360.4 182.1A123.3 123.3 0 0 1 360.1 180.9" stroke="#98badb"/>
<path d="M360.1 181.1A123.3 123.3 0 0 1 359.8 179.8" stroke="#b1cce5"/>
<path d="M359.8 180.0A123.3 123.3 0 0 1 359.5 178.8" stroke="#dde9f4"/>
<path d="M359.6 178.9A123.3 123.3 0 0 1 359.3 177.7" stroke="#d2e3f1"/>
<path d="M359.3 177.9A123.3 123.3 0 0 1 359.1 176.6" stroke="#2d70b2"/>
<path d="M359.1 176.8A123.3 123.3 0 0 1 358.8 175.6" stroke="#bed5ea"/>
<path d="M358.9 175.7A123.3 123.3 0 0 1 358.6 174.5" stroke="#dce9f4"/>
<path d="M358.7 174.7A123.3 123.3 0 0 1 358.4 173.4" stroke="#f7fafc"/>
<path d="M358.5 173.6A123.3 123.3 0 0 1 358.2 172.4" stroke="#fcd5d5"/>
<path d="M358.3 172.5A123.3 123.3 0 0 1 358.0 171.3" stroke="#feeded"/>
<path d="M358.1 171.5A123.3 123.3 0 0 1 357.9 170.2" stroke="#fcd6d6"/>
<path d="M357.9 170.4A123.3 123.3 0 0 1 357.7 169.1" stroke="#fab6b6"/>
<path d="M357.7 169.3A123.3 123.3 0 0 1 357.5 168.1" stroke="#fde5e5"/>
<path d="M357.6 168.2A123.3 123.3 0 0 1 357.4 167.0" stroke="#fabdbd"/>
<path d="M357.4 167.2A123.3 123.3 0 0 1 357.3 165.9" stroke="#f57474"/>
<path d="M357.3 166.1A123.3 123.3 0 0 1 357.1 164.8" stroke="#f46868"/>
<path d="M357.2 165.0A123.3 123.3 0 0 1 357.0 163.7" stroke="#ee2222"/>
<path d="M357.0 163.9A123.3 123.3 0 0 1 356.9 162.6" stroke="#f57a7a"/>
<path d="M356.9 162.8A123.3 123.3 0 0 1 356.8 161.7" stroke="#f79393"/>
<path d="M356.4 149.5A123.3 123.3 0 0 1 356.4 148.3" stroke="#f9a6a6"/>
<path d="M356.4 148.5A123.3 123.3 0 0 1 356.4 147.2" stroke="#fcd6d6"/>
<path d="M356.4 147.4A123.3 123.3 0 0 1 356.4 146.2" stroke="#f3f7fb"/>
<path d="M356.4 146.3A123.3 123.3 0 0 1 356.5 145.1" stroke="#b8d1e8"/>
<path d="M356.5 145.3A123.3 123.3 0 0 1 356.5 144.0" stroke="#86aed4"/>
<path d="M356.5 144.2A123.3 123.3 0 0 1 356.6 143.0" stroke="#e9f1f8"/>
<path d="M356.6 143.1A123.3 123.3 0 0 1 356.7 141.9" stroke="#ecf3f9"/>
<path d="M356.7 142.1A123.3 123.3 0 0 1 356.8 140.8" stroke="#eef4fa"/>
<path d="M356.7 141.0A123.3 123.3 0 0 1 356.9 139.8" stroke="#e2edf6"/>
<path d="M356.8 139.9A123.3 123.3 0 0 1 357.0 138.7" stroke="#fafcfe"/>
<path d="M356.9 138.9A123.3 123.3 0 0 1 357.1 137.6" stroke="#fcd9d9"/>
<path d="M357.0 137.8A123.3 123.3 0 0 1 357.2 136.6" stroke="#fde9e9"/>
<path d="M357.2 136.7A123.3 123.3 0 0 1 357.3 135.5" stroke="#fde8e8"/>
<path d="M357.3 135.7A123.3 123.3 0 0 1 357.5 134.4" stroke="#fabbbb"/>
<path d="M357.4 134.6A123.3 123.3 0 0 1 357.6 133.4" stroke="#fab7b7"/>
<path d="M357.6 133.6A123.3 123.3 0 0 1 357.8 132.3" stroke="#fde0e0"/>
<path d="M357.7 132.5A123.3 123.3 0 0 1 357.9 131.3" stroke="#fcd3d3"/>
<path d="M357.9 131.4A123.3 123.3 0 0 1 358.1 130.2" stroke="#fffcfc"/>
<path d="M358.1 130.4A123.3 123.3 0 0 1 358.3 129.2" stroke="#e3edf6"/>
<path d="M358.2 129.3A123.3 123.3 0 0 1 358.5 128.1" stroke="#a8c6e2"/>
<path d="M358.4 128.3A123.3 123.3 0 0 1 358.7 127.1" stroke="#2d70b2"/>
<path d="M358.6 127.2A123.3 123.3 0 0 1 358.9 126.0" stroke="#d1e2f1"/>
<path d="M358.9 126.2A123.3 123.3 0 0 1 359.1 125.0" stroke="#ecf3f9"/>
<path d="M359.1 125.1A123.3 123.3 0 0 1 359.3 123.9" stroke="#fde6e6"/>
<path d="M359.3 124.1A123.3 123.3 0 0 1 359.6 122.9" stroke="#f89b9b"/>
<path d="M359.5 123.0A123.3 123.3 0 0 1 359.8 121.8" stroke="#fbcece"/>
<path d="M359.8 122.0A123.3 123.3 0 0 1 360.1 120.8" stroke="#f8a2a2"/>
<path d="M360.0 121.0A123.3 123.3 0 0 1 360.3 119.8" stroke="#fabdbd"/>
<path d="M360.3 119.9A123.3 123.3 0 0 1 360.6 118.7" stroke="#fabcbc"/>
<path d="M360.6 118.9A123.3 123.3 0 0 1 360.9 117.7" stroke="#fabbbb"/>
<path d="M360.9 117.9A123.3 123.3 0 0 1 361.2 116.7" stroke="#ffffff"/>
<path d="M361.1 116.8A123.3 123.3 0 0 1 361.5 115.6" stroke="#fcd0d0"/>
<path d="M361.4 115.8A123.3 123.3 0 0 1 361.8 114.6" stroke="#fbc5c5"/>
<path d="M361.8 114.8A123.3 123.3 0 0 1 362.1 113.6" stroke="#fbc1c1"/>
<path d="M362.1 113.8A123.3 123.3 0 0 1 362.5 112.6" stroke="#fde8e8"/>
<path d="M362.4 112.7A123.3 123.3 0 0 1 362.8 111.6" stroke="#fccece"/>
<path d="M362.7 111.7A123.3 123.3 0 0 1 363.1 110.6" stroke="#fdfefe"/>
<path d="M363.1 110.7A123.3 123.3 0 0 1 363.5 109.5" stroke="#f8a5a5"/>
<path d="M363.4 109.7A123.3 123.3 0 0 1 363.8 108.7" stroke="#adc9e4"/>
<path d="M368.5 97.5A123.3 123.3 0 0 1 369.1 96.3" stroke="#ef2f2f"/>
<path d="M369.0 96.5A123.3 123.3 0 0 1 369.6 95.4" stroke="#fbc3c3"/>
<path d="M369.5 95.5A123.3 123.3 0 0 1 370.0 94.4" stroke="#f79797"/>
<path d="M370.0 94.6A123.3 123.3 0 0 1 370.5 93.5" stroke="#f46b6b"/>
<path d="M370.5 93.6A123.3 123.3 0 0 1 371.0 92.5" stroke="#fabcbc"/>
<path d="M371.0 92.7A123.3 123.3 0 0 1 371.6 91.6" stroke="#f57b7b"/>
<path d="M371.5 91.7A123.3 123.3 0 0 1 372.1 90.6" stroke="#f47272"/>
<path d="M372.0 90.8A123.3 123.3 0 0 1 372.6 89.7" stroke="#f68a8a"/>
<path d="M372.5 89.8A123.3 123.3 0 0 1 373.2 88.7" stroke="#f57d7d"/>
<path d="M373.1 88.9A123.3 123.3 0 0 1 373.7 87.8" stroke="#fabebe"/>
<path d="M373.6 88.0A123.3 123.3 0 0 1 374.3 86.9" stroke="#fcd4d4"/>
<path d="M374.2 87.0A123.3 123.3 0 0 1 374.8 86.0" stroke="#f25555"/>
<path d="M374.7 86.1A123.3 123.3 0 0 1 375.4 85.1" stroke="#fabdbd"/>
<path d="M375.3 85.2A123.3 123.3 0 0 1 376.0 84.1" stroke="#f9b1b1"/>
<path d="M375.9 84.3A123.3 123.3 0 0 1 376.6 83.2" stroke="#f68787"/>
<path d="M376.5 83.4A123.3 123.3 0 0 1 377.2 82.3" stroke="#fde2e2"/>
<path d="M377.1 82.5A123.3 123.3 0 0 1 377.8 81.4" stroke="#f8a0a0"/>
<path d="M377.7 81.6A123.3 123.3 0 0 1 378.4 80.6" stroke="#f79797"/>
<path d="M378.3 80.7A123.3 123.3 0 0 1 379.0 79.7" stroke="#fde9e9"/>
<path d="M378.9 79.8A123.3 123.3 0 0 1 379.6 78.8" stroke="#f9fbfd"/>
<path d="M379.5 78.9A123.3 123.3 0 0 1 380.3 77.9" stroke="#cfe1f0"/>
<path d="M380.1 78.1A123.3 123.3 0 0 1 380.9 77.1" stroke="#a2c1df"/>
<path d="M380.8 77.2A123.3 123.3 0 0 1 381.5 76.2" stroke="#d9e7f3"/>
<path d="M381.4 76.3A123.3 123.3 0 0 1 382.2 75.3" stroke="#81aad2"/>
<path d="M382.1 75.5A123.3 123.3 0 0 1 382.9 74.5" stroke="#dbe8f4"/>
<path d="M382.8 74.6A123.3 123.3 0 0 1 383.5 73.7" stroke="#d9e7f3"/>
<path d="M383.4 73.8A123.3 123.3 0 0 1 384.2 72.8" stroke="#eaf2f9"/>
<path d="M384.1 72.9A123.3 123.3 0 0 1 384.9 72.0" stroke="#fef5f5"/>
<path d="M384.8 72.1A123.3 123.3 0 0 1 385.6 71.2" stroke="#f7fafc"/>
<path d="M385.5 71.3A123.3 123.3 0 0 1 386.3 70.3" stroke="#d3e3f1"/>
<path d="M386.2 70.5A123.3 123.3 0 0 1 387.0 69.5" stroke="#e4eef7"/>
<path d="M386.9 69.7A123.3 123.3 0 0 1 387.7 68.7" stroke="#8fb4d8"/>
<path d="M387.6 68.8A123.3 123.3 0 0 1 388.4 67.9" stroke="#a5c3e0"/>
<path d="M388.3 68.0A123.3 123.3 0 0 1 389.2 67.1" stroke="#deeaf5"/>
<path d="M389.0 67.2A123.3 123.3 0 0 1 389.9 66.3" stroke="#fef8f8"/>
<path d="M389.8 66.5A123.3 123.3 0 0 1 390.5 65.7" stroke="#fcd9d9"/>
<path d="M399.4 57.3A123.3 123.3 0 0 1 400.3 56.5" stroke="#f79595"/>
<path d="M400.2 56.6A123.3 123.3 0 0 1 401.2 55.8" stroke="#fcd8d8"/>
<path d="M401.0 55.9A123.3 123.3 0 0 1 402.0 55.1" stroke="#fcd0d0"/>
<path d="M401.9 55.2A123.3 123.3 0 0 1 402.8 54.4" stroke="#fcd4d4"/>
<path d="M402.7 54.5A123.3 123.3 0 0 1 403.7 53.8" stroke="#fef6f6"/>
<path d="M403.5 53.9A123.3 123.3 0 0 1 404.5 53.1" stroke="#fcd0d0"/>
<path d="M404.4 53.2A123.3 123.3 0 0 1 405.4 52.4" stroke="#fbcece"/>
<path d="M405.3 52.5A123.3 123.3 0 0 1 406.3 51.8" stroke="#fab7b7"/>
<path d="M406.1 51.9A123.3 123.3 0 0 1 407.1 51.2" stroke="#fcd8d8"/>
<path d="M407.0 51.3A123.3 123.3 0 0 1 408.0 50.5" stroke="#fbcece"/>
<path d="M407.9 50.6A123.3 123.3 0 0 1 408.9 49.9" stroke="#fccece"/>
<path d="M408.7 50.0A123.3 123.3 0 0 1 409.8 49.3" stroke="#fef1f1"/>
<path d="M409.6 49.4A123.3 123.3 0 0 1 410.7 48.7" stroke="#fcd5d5"/>
<path d="M410.5 48.8A123.3 123.3 0 0 1 411.6 48.1" stroke="#fddddd"/>
<path d="M411.4 48.2A123.3 123.3 0 0 1 412.5 47.5" stroke="#fabdbd"/>
<path d="M412.3 47.6A123.3 123.3 0 0 1 413.4 46.9" stroke="#fddddd"/>
<path d="M413.2 47.0A123.3 123.3 0 0 1 414.3 46.3" stroke="#f9fbfd"/>
<path d="M414.1 46.4A123.3 123.3 0 0 1 415.2 45.8" stroke="#f2f7fb"/>
<path d="M415.1 45.8A123.3 123.3 0 0 1 416.1 45.2" stroke="#d5e4f2"/>
<path d="M416.0 45.3A123.3 123.3 0 0 1 417.1 44.6" stroke="#f5f9fc"/>
<path d="M416.9 44.7A123.3 123.3 0 0 1 418.0 44.1" stroke="#fbc6c6"/>
<path d="M417.8 44.2A123.3 123.3 0 0 1 418.9 43.6" stroke="#f68181"/>
<path d="M418.8 43.6A123.3 123.3 0 0 1 419.9 43.0" stroke="#f13f3f"/>
<path d="M419.7 43.1A123.3 123.3 0 0 1 420.8 42.5" stroke="#f9a7a7"/>
<path d="M420.7 42.6A123.3 123.3 0 0 1 421.8 42.0" stroke="#f89c9c"/>
<path d="M421.6 42.1A123.3 123.3 0 0 1 422.7 41.5" stroke="#fabebe"/>
<path d="M422.6 41.6A123.3 123.3 0 0 1 423.7 41.0" stroke="#fcd4d4"/>
<path d="M423.5 41.1A123.3 123.3 0 0 1 424.6 40.5" stroke="#fefeff"/>
<path d="M424.5 40.6A123.3 123.3 0 0 1 425.6 40.0" stroke="#fcd7d7"/>
<path d="M425.5 40.1A123.3 123.3 0 0 1 426.6 39.6" stroke="#fffbfb"/>
<path d="M426.4 39.6A123.3 123.3 0 0 1 427.6 39.1" stroke="#f68686"/>
<path d="M427.4 39.2A123.3 123.3 0 0 1 428.5 38.7" stroke="#fbcaca"/>
<path d="M428.4 38.7A123.3 123.3 0 0 1 429.5 38.2" stroke="#f8a6a6"/>
<path d="M429.4 38.3A123.3 123.3 0 0 1 430.3 37.9" stroke="#f78d8d"/>
<path d="M441.8 33.5A123.3 123.3 0 0 1 442.9 33.2" stroke="#92b6d9"/>
<path d="M442.8 33.2A123.3 123.3 0 0 1 444.0 32.8" stroke="#e4eef7"/>
<path d="M443.8 32.9A123.3 123.3 0 0 1 445.0 32.5" stroke="#99bbdc"/>
<path d="M444.8 32.6A123.3 123.3 0 0 1 446.1 32.2" stroke="#fef5f5"/>
<path d="M445.9 32.3A123.3 123.3 0 0 1 447.1 31.9" stroke="#fababa"/>
<path d="M446.9 32.0A123.3 123.3 0 0 1 448.1 31.7" stroke="#e5eef7"/>
<path d="M448.0 31.7A123.3 123.3 0 0 1 449.2 31.4" stroke="#feeaea"/>
<path d="M449.0 31.4A123.3 123.3 0 0 1 450.2 31.1" stroke="#e6eff7"/>
<path d="M450.1 31.2A123.3 123.3 0 0 1 451.3 30.9" stroke="#dce9f4"/>
<path d="M451.1 30.9A123.3 123.3 0 0 1 452.3 30.6" stroke="#a5c4e1"/>
<path d="M452.2 30.7A123.3 123.3 0 0 1 453.4 30.4" stroke="#92b6d9"/>
<path d="M453.2 30.4A123.3 123.3 0 0 1 454.4 30.2" stroke="#8ab0d6"/>
<path d="M454.3 30.2A123.3 123.3 0 0 1 455.5 29.9" stroke="#75a2ce"/>
<path d="M455.3 30.0A123.3 123.3 0 0 1 456.6 29.7" stroke="#d0e1f1"/>
<path d="M456.4 29.8A123.3 123.3 0 0 1 457.6 29.5" stroke="#c1d7eb"/>
<path d="M457.4 29.6A123.3 123.3 0 0 1 458.7 29.4" stroke="#fde4e4"/>
<path d="M458.5 29.4A123.3 123.3 0 0 1 459.7 29.2" stroke="#f57e7e"/>
<path d="M459.6 29.2A123.3 123.3 0 0 1 460.8 29.0" stroke="#f03c3c"/>
<path d="M460.6 29.0A123.3 123.3 0 0 1 461.9 28.8" stroke="#f35959"/>
<path d="M461.7 28.9A123.3 123.3 0 0 1 463.0 28.7" stroke="#fbc8c8"/>
<path d="M462.8 28.7A123.3 123.3 0 0 1 464.0 28.6" stroke="#fbcaca"/>
<path d="M463.8 28.6A123.3 123.3 0 0 1 465.1 28.4" stroke="#feeeee"/>
<path d="M464.9 28.4A123.3 123.3 0 0 1 466.2 28.3" stroke="#fabebe"/>
<path d="M466.0 28.3A123.3 123.3 0 0 1 467.2 28.2" stroke="#fabbbb"/>
<path d="M467.1 28.2A123.3 123.3 0 0 1 468.3 28.1" stroke="#f89c9c"/>
<path d="M468.1 28.1A123.3 123.3 0 0 1 469.4 28.0" stroke="#ef3131"/>
<path d="M469.2 28.0A123.3 123.3 0 0 1 470.5 27.9" stroke="#fcd9d9"/>
<path d="M470.3 27.9A123.3 123.3 0 0 1 471.5 27.8" stroke="#ebf2f9"/>
<path d="M471.4 27.8A123.3 123.3 0 0 1 472.4 27.8" stroke="#f3f7fb"/>
</g>
<g fill="none" stroke-width="6.70">
<path d="M483.7 37.5A113.5 113.5 0 0 1 484.9 37.5" stroke="#c2d8ec"/>
<path d="M484.7 37.5A113.5 113.5 0 0 1 485.8 37.6" stroke="#feffff"/>
<path d="M485.7 37.6A113.5 113.5 0 0 1 486.8 37.6" stroke="#caddef"/>
<path d="M486.7 37.6A113.5 113.5 0 0 1 487.8 37.7" stroke="#a6c5e1"/>
<path d="M487.6 37.7A113.5 113.5 0 0 1 488.8 37.8" stroke="#3072b3"/>
<path d="M488.6 37.8A113.5 113.5 0 0 1 489.8 37.8" stroke="#3374b4"/>
<path d="M489.6 37.8A113.5 113.5 0 0 1 490.7 37.9" stroke="#6d9ccb"/>
<path d="M490.6 37.9A113.5 113.5 0 0 1 491.7 38.0" stroke="#5c91c4"/>
<path d="M491.6 38.0A113.5 113.5 0 0 1 492.7 38.1" stroke="#417eba"/>
<path d="M492.5 38.1A113.5 113.5 0 0 1 493.7 38.3" stroke="#2d70b2"/>
<path d="M493.5 38.2A113.5 113.5 0 0 1 494.6 38.4" stroke="#fde3e3"/>
<path d="M494.5 38.4A113.5 113.5 0 0 1 495.6 38.5" stroke="#eaf2f9"/>
<path d="M495.5 38.5A113.5 113.5 0 0 1 496.6 38.7" stroke="#d3e3f1"/>
<path d="M496.4 38.6A113.5 113.5 0 0 1 497.6 38.8" stroke="#a5c4e1"/>
<path d="M497.4 38.8A113.5 113.5 0 0 1 498.5 39.0" stroke="#c5daed"/>
<path d="M498.4 38.9A113.5 113.5 0 0 1 499.5 39.1" stroke="#9ebfde"/>
<path d="M499.3 39.1A113.5 113.5 0 0 1 500.5 39.3" stroke="#c5daed"/>
<path d="M500.3 39.3A113.5 113.5 0 0 1 501.4 39.5" stroke="#b5cfe7"/>
<path d="M501.3 39.5A113.5 113.5 0 0 1 502.4 39.7" stroke="#abc8e3"/>
<path d="M502.2 39.7A113.5 113.5 0 0 1 503.4 39.9" stroke="#9fbfde"/>
<path d="M503.2 39.9A113.5 113.5 0 0 1 504.3 40.1" stroke="#8cb2d7"/>
<path d="M504.2 40.1A113.5 113.5 0 0 1 505.3 40.3" stroke="#caddef"/>
<path d="M505.1 40.3A113.5 113.5 0 0 1 506.2 40.5" stroke="#f8fbfd"/>
<path d="M506.1 40.5A113.5 113.5 0 0 1 507.2 40.8" stroke="#d2e2f1"/>
<path d="M507.0 40.7A113.5 113.5 0 0 1 508.1 41.0" stroke="#f35c5c"/>
<path d="M508.0 41.0A113.5 113.5 0 0 1 509.1 41.3" stroke="#f68686"/>
<path d="M508.9 41.2A113.5 113.5 0 0 1 510.0 41.5" stroke="#fabebe"/>
<path d="M509.9 41.5A113.5 113.5 0 0 1 511.0 41.8" stroke="#f46c6c"/>
<path d="M510.8 41.8A113.5 113.5 0 0 1 511.9 42.1" stroke="#fde1e1"/>
<path d="M511.8 42.0A113.5 113.5 0 0 1 512.9 42.4" stroke="#f9aeae"/>
<path d="M512.7 42.3A113.5 113.5 0 0 1 513.8 42.6" stroke="#f57272"/>
<path d="M513.6 42.6A113.5 113.5 0 0 1 514.7 42.9" stroke="#f79898"/>
<path d="M514.6 42.9A113.5 113.5 0 0 1 515.5 43.2" stroke="#f35e5e"/>
<path d="M526.0 47.3A113.5 113.5 0 0 1 527.0 47.7" stroke="#5a8fc3"/>
<path d="M526.9 47.7A113.5 113.5 0 0 1 527.9 48.1" stroke="#96b9da"/>
<path d="M527.8 48.1A113.5 113.5 0 0 1 528.8 48.6" stroke="#c6daed"/>
<path d="M528.6 48.5A113.5 113.5 0 0 1 529.7 49.0" stroke="#7ca7d1"/>
<path d="M529.5 48.9A113.5 113.5 0 0 1 530.5 49.4" stroke="#588ec3"/>
<path d="M530.4 49.4A113.5 113.5 0 0 1 531.4 49.9" stroke="#6f9ecb"/>
<path d="M531.3 49.8A113.5 113.5 0 0 1 532.3 50.3" stroke="#6899c9"/>
<path d="M532.1 50.2A113.5 113.5 0 0 1 533.1 50.8" stroke="#76a3ce"/>
<path d="M533.0 50.7A113.5 113.5 0 0 1 534.0 51.2" stroke="#2d70b2"/>
<path d="M533.9 51.2A113.5 113.5 0 0 1 534.9 51.7" stroke="#a2c2df"/>
<path d="M534.7 51.6A113.5 113.5 0 0 1 535.7 52.2" stroke="#719fcc"/>
<path d="M535.6 52.1A113.5 113.5 0 0 1 536.6 52.7" stroke="#93b7d9"/>
<path d="M536.4 52.6A113.5 113.5 0 0 1 537.4 53.2" stroke="#90b5d8"/>
<path d="M537.3 53.1A113.5 113.5 0 0 1 538.2 53.7" stroke="#acc9e3"/>
<path d="M538.1 53.6A113.5 113.5 0 0 1 539.1 54.2" stroke="#3777b6"/>
<path d="M538.9 54.1A113.5 113.5 0 0 1 539.9 54.7" stroke="#d7e5f3"/>
<path d="M539.8 54.6A113.5 113.5 0 0 1 540.7 55.2" stroke="#feeeee"/>
<path d="M540.6 55.1A113.5 113.5 0 0 1 541.6 55.7" stroke="#fef2f2"/>
<path d="M541.4 55.7A113.5 113.5 0 0 1 542.4 56.3" stroke="#fcd9d9"/>
<path d="M542.2 56.2A113.5 113.5 0 0 1 543.2 56.8" stroke="#fbc3c3"/>
<path d="M543.1 56.7A113.5 113.5 0 0 1 544.0 57.4" stroke="#f9afaf"/>
<path d="M543.9 57.3A113.5 113.5 0 0 1 544.8 57.9" stroke="#f57878"/>
<path d="M544.7 57.8A113.5 113.5 0 0 1 545.6 58.5" stroke="#fcd3d3"/>
<path d="M545.5 58.4A113.5 113.5 0 0 1 546.4 59.1" stroke="#fbc3c3"/>
<path d="M546.3 59.0A113.5 113.5 0 0 1 547.2 59.6" stroke="#fde8e8"/>
<path d="M547.1 59.5A113.5 113.5 0 0 1 548.0 60.2" stroke="#f57777"/>
<path d="M547.8 60.1A113.5 113.5 0 0 1 548.7 60.8" stroke="#fab6b6"/>
<path d="M548.6 60.7A113.5 113.5 0 0 1 549.5 61.4" stroke="#f9b2b2"/>
<path d="M549.4 61.3A113.5 113.5 0 0 1 550.3 62.0" stroke="#f79797"/>
<path d="M550.2 61.9A113.5 113.5 0 0 1 551.0 62.6" stroke="#f8a2a2"/>
<path d="M550.9 62.5A113.5 113.5 0 0 1 551.8 63.2" stroke="#feebeb"/>
<path d="M551.7 63.1A113.5 113.5 0 0 1 552.6 63.9" stroke="#b0cbe5"/>
<path d="M552.4 63.8A113.5 113.5 0 0 1 553.2 64.4" stroke="#c5daed"/>
<path d="M561.4 72.1A113.5 113.5 0 0 1 562.2 72.9" stroke="#f79494"/>
<path d="M562.0 72.8A113.5 113.5 0 0 1 562.8 73.6" stroke="#f46e6e"/>
<path d="M562.7 73.5A113.5 113.5 0 0 1 563.5 74.3" stroke="#f46767"/>
<path d="M563.4 74.2A113.5 113.5 0 0 1 564.2 75.1" stroke="#fab6b6"/>
<path d="M564.1 75.0A113.5 113.5 0 0 1 564.8 75.8" stroke="#f46666"/>
<path d="M564.7 75.7A113.5 113.5 0 0 1 565.5 76.6" stroke="#f7fafc"/>
<path d="M565.4 76.4A113.5 113.5 0 0 1 566.1 77.3" stroke="#feebeb"/>
<path d="M566.0 77.2A113.5 113.5 0 0 1 566.7 78.1" stroke="#fddede"/>
<path d="M566.6 77.9A113.5 113.5 0 0 1 567.4 78.8" stroke="#f79292"/>
<path d="M567.3 78.7A113.5 113.5 0 0 1 568.0 79.6" stroke="#fbfcfe"/>
<path d="M567.9 79.5A113.5 113.5 0 0 1 568.6 80.4" stroke="#feeeee"/>
<path d="M568.5 80.2A113.5 113.5 0 0 1 569.2 81.1" stroke="#feecec"/>
<path d="M569.1 81.0A113.5 113.5 0 0 1 569.8 81.9" stroke="#cddfef"/>
<path d="M569.7 81.8A113.5 113.5 0 0 1 570.4 82.7" stroke="#d9e7f3"/>
<path d="M570.3 82.6A113.5 113.5 0 0 1 571.0 83.5" stroke="#a8c6e2"/>
<path d="M570.9 83.4A113.5 113.5 0 0 1 571.6 84.3" stroke="#e6eff7"/>
<path d="M571.5 84.2A113.5 113.5 0 0 1 572.2 85.1" stroke="#eff5fa"/>
<path d="M572.1 85.0A113.5 113.5 0 0 1 572.7 85.9" stroke="#74a1cd"/>
<path d="M572.6 85.8A113.5 113.5 0 0 1 573.3 86.7" stroke="#cee0f0"/>
<path d="M573.2 86.6A113.5 113.5 0 0 1 573.9 87.5" stroke="#f2f7fb"/>
<path d="M573.8 87.4A113.5 113.5 0 0 1 574.4 88.3" stroke="#7fa9d2"/>
<path d="M574.3 88.2A113.5 113.5 0 0 1 574.9 89.2" stroke="#6f9ecc"/>
<path d="M574.9 89.0A113.5 113.5 0 0 1 575.5 90.0" stroke="#c1d7eb"/>
<path d="M575.4 89.9A113.5 113.5 0 0 1 576.0 90.8" stroke="#2d70b2"/>
<path d="M575.9 90.7A113.5 113.5 0 0 1 576.5 91.7" stroke="#2d70b2"/>
<path d="M576.4 91.5A113.5 113.5 0 0 1 577.0 92.5" stroke="#8db3d7"/>
<path d="M576.9 92.4A113.5 113.5 0 0 1 577.5 93.4" stroke="#437fbb"/>
<path d="M577.5 93.2A113.5 113.5 0 0 1 578.0 94.2" stroke="#2d70b2"/>
<path d="M577.9 94.1A113.5 113.5 0 0 1 578.4 94.9" stroke="#588ec3"/>
<path d="M583.5 105.0A113.5 113.5 0 0 1 583.9 106.0" stroke="#b6d0e7"/>
<path d="M583.9 105.8A113.5 113.5 0 0 1 584.3 106.9" stroke="#2d70b2"/>
<path d="M584.3 106.7A113.5 113.5 0 0 1 584.7 107.8" stroke="#a3c2e0"/>
<path d="M584.6 107.6A113.5 113.5 0 0 1 585.1 108.7" stroke="#feebeb"/>
<path d="M585.0 108.6A113.5 113.5 0 0 1 585.4 109.6" stroke="#f8a5a5"/>
<path d="M585.4 109.5A113.5 113.5 0 0 1 585.8 110.5" stroke="#fccece"/>
<path d="M585.7 110.4A113.5 113.5 0 0 1 586.1 111.4" stroke="#f4f8fc"/>
<path d="M586.1 111.3A113.5 113.5 0 0 1 586.5 112.4" stroke="#c1d7eb"/>
<path d="M586.4 112.2A113.5 113.5 0 0 1 586.8 113.3" stroke="#88b0d5"/>
<path d="M586.7 113.1A113.5 113.5 0 0 1 587.1 114.2" stroke="#73a1cd"/>
<path d="M587.1 114.1A113.5 113.5 0 0 1 587.4 115.1" stroke="#6094c6"/>
<path d="M587.4 115.0A113.5 113.5 0 0 1 587.7 116.1" stroke="#2d70b2"/>
<path d="M587.7 115.9A113.5 113.5 0 0 1 588.0 117.0" stroke="#d0e1f1"/>
<path d="M588.0 116.8A113.5 113.5 0 0 1 588.3 117.9" stroke="#c2d8ec"/>
<path d="M588.3 117.8A113.5 113.5 0 0 1 588.6 118.9" stroke="#c5daed"/>
<path d="M588.5 118.7A113.5 113.5 0 0 1 588.9 119.8" stroke="#cddff0"/>
<path d="M588.8 119.6A113.5 113.5 0 0 1 589.1 120.7" stroke="#95b8da"/>
<path d="M589.1 120.6A113.5 113.5 0 0 1 589.4 121.7" stroke="#4782bc"/>
<path d="M589.3 121.5A113.5 113.5 0 0 1 589.6 122.6" stroke="#578dc2"/>
<path d="M589.6 122.5A113.5 113.5 0 0 1 589.9 123.6" stroke="#ebf2f9"/>
<path d="M589.8 123.4A113.5 113.5 0 0 1 590.1 124.5" stroke="#ecf3f9"/>
<path d="M590.1 124.4A113.5 113.5 0 0 1 590.3 125.5" stroke="#fcd5d5"/>
<path d="M590.3 125.3A113.5 113.5 0 0 1 590.5 126.4" stroke="#f57d7d"/>
<path d="M590.5 126.3A113.5 113.5 0 0 1 590.7 127.4" stroke="#d5e4f2"/>
<path d="M590.7 127.2A113.5 113.5 0 0 1 590.9 128.3" stroke="#87afd5"/>
<path d="M590.9 128.2A113.5 113.5 0 0 1 591.1 129.3" stroke="#fde8e8"/>
<path d="M591.1 129.2A113.5 113.5 0 0 1 591.3 130.1" stroke="#f9a6a6"/>
<path d="M592.8 141.2A113.5 113.5 0 0 1 592.9 142.4" stroke="#e5eef7"/>
<path d="M592.9 142.2A113.5 113.5 0 0 1 593.0 143.4" stroke="#d3e3f1"/>
<path d="M592.9 143.2A113.5 113.5 0 0 1 593.0 144.4" stroke="#f2f7fb"/>
<path d="M593.0 144.2A113.5 113.5 0 0 1 593.1 145.4" stroke="#e9f1f8"/>
<path d="M593.1 145.2A113.5 113.5 0 0 1 593.1 146.4" stroke="#feeeee"/>
<path d="M593.1 146.2A113.5 113.5 0 0 1 593.1 147.4" stroke="#f57676"/>
<path d="M593.1 147.2A113.5 113.5 0 0 1 593.2 148.3" stroke="#f9a6a6"/>
<path d="M593.2 148.2A113.5 113.5 0 0 1 593.2 149.3" stroke="#fcd7d7"/>
<path d="M593.2 149.2A113.5 113.5 0 0 1 593.2 150.3" stroke="#fcd7d7"/>
<path d="M593.2 150.2A113.5 113.5 0 0 1 593.2 151.3" stroke="#e3edf6"/>
<path d="M593.2 151.2A113.5 113.5 0 0 1 593.2 152.3" stroke="#a1c1df"/>
<path d="M593.2 152.2A113.5 113.5 0 0 1 593.2 153.3" stroke="#7fa9d2"/>
<path d="M593.2 153.2A113.5 113.5 0 0 1 593.1 154.3" stroke="#6a9ac9"/>
<path d="M593.2 154.2A113.5 113.5 0 0 1 593.1 155.3" stroke="#2d70b2"/>
<path d="M593.1 155.2A113.5 113.5 0 0 1 593.1 156.3" stroke="#6c9cca"/>
<path d="M593.1 156.1A113.5 113.5 0 0 1 593.0 157.3" stroke="#75a2ce"/>
<path d="M593.0 157.1A113.5 113.5 0 0 1 593.0 158.3" stroke="#acc8e3"/>
<path d="M593.0 158.1A113.5 113.5 0 0 1 592.9 159.3" stroke="#4d86be"/>
<path d="M592.9 159.1A113.5 113.5 0 0 1 592.8 160.3" stroke="#a9c7e2"/>
<path d="M592.8 160.1A113.5 113.5 0 0 1 592.7 161.3" stroke="#e3edf6"/>
<path d="M592.7 161.1A113.5 113.5 0 0 1 592.6 162.3" stroke="#aecae4"/>
<path d="M592.6 162.1A113.5 113.5 0 0 1 592.5 163.3" stroke="#2d70b2"/>
<path d="M592.5 163.1A113.5 113.5 0 0 1 592.4 164.2" stroke="#4984bd"/>
<path d="M592.4 164.1A113.5 113.5 0 0 1 592.3 165.2" stroke="#a8c6e2"/>
<path d="M592.3 165.1A113.5 113.5 0 0 1 592.2 166.2" stroke="#3676b5"/>
<path d="M592.2 166.1A113.5 113.5 0 0 1 592.0 167.2" stroke="#2d70b2"/>
<path d="M592.0 167.0A113.5 113.5 0 0 1 591.9 168.2" stroke="#a1c1df"/>
<path d="M591.9 168.0A113.5 113.5 0 0 1 591.7 169.2" stroke="#a5c4e1"/>
<path d="M591.7 169.0A113.5 113.5 0 0 1 591.6 170.2" stroke="#7fa9d2"/>
<path d="M591.6 170.0A113.5 113.5 0 0 1 591.4 171.1" stroke="#a8c6e2"/>
<path d="M591.4 171.0A113.5 113.5 0 0 1 591.2 172.1" stroke="#b0cbe5"/>
<path d="M591.2 172.0A113.5 113.5 0 0 1 591.0 173.1" stroke="#7ba6d0"/>
<path d="M591.0 172.9A113.5 113.5 0 0 1 590.8 174.1" stroke="#e2edf6"/>
<path d="M590.8 173.9A113.5 113.5 0 0 1 590.6 175.0" stroke="#fffbfb"/>
<path d="M590.6 174.9A113.5 113.5 0 0 1 590.4 176.0" stroke="#f0f5fa"/>
<path d="M590.4 175.9A113.5 113.5 0 0 1 590.2 177.0" stroke="#ffffff"/>
<path d="M590.2 176.8A113.5 113.5 0 0 1 589.9 177.9" stroke="#fbc0c0"/>
<path d="M590.0 177.8A113.5 113.5 0 0 1 589.7 178.9" stroke="#fcd1d1"/>
<path d="M589.7 178.8A113.5 113.5 0 0 1 589.4 179.9" stroke="#fbc1c1"/>
<path d="M589.5 179.7A113.5 113.5 0 0 1 589.2 180.8" stroke="#f68282"/>
<path d="M589.2 180.7A113.5 113.5 0 0 1 588.9 181.8" stroke="#f57d7d"/>
<path d="M589.0 181.6A113.5 113.5 0 0 1 588.6 182.8" stroke="#f79494"/>
<path d="M588.7 182.6A113.5 113.5 0 0 1 588.4 183.7" stroke="#f89a9a"/>
<path d="M588.4 183.6A113.5 113.5 0 0 1 588.1 184.7" stroke="#fcd6d6"/>
<path d="M588.1 184.5A113.5 113.5 0 0 1 587.8 185.6" stroke="#ee2323"/>
<path d="M587.8 185.5A113.5 113.5 0 0 1 587.5 186.6" stroke="#ee1e1e"/>
<path d="M587.5 186.4A113.5 113.5 0 0 1 587.2 187.3" stroke="#f46b6b"/>
<path d="M583.1 197.8A113.5 113.5 0 0 1 582.6 198.8" stroke="#f24c4c"/>
<path d="M582.7 198.7A113.5 113.5 0 0 1 582.2 199.7" stroke="#fef3f3"/>
<path d="M582.2 199.6A113.5 113.5 0 0 1 581.7 200.6" stroke="#f57a7a"/>
<path d="M581.8 200.5A113.5 113.5 0 0 1 581.3 201.5" stroke="#fbc3c3"/>
<path d="M581.4 201.3A113.5 113.5 0 0 1 580.9 202.4" stroke="#f89d9d"/>
<path d="M580.9 202.2A113.5 113.5 0 0 1 580.4 203.2" stroke="#f9b0b0"/>
<path d="M580.5 203.1A113.5 113.5 0 0 1 580.0 204.1" stroke="#f9b1b1"/>
<path d="M580.0 204.0A113.5 113.5 0 0 1 579.5 205.0" stroke="#f78e8e"/>
<path d="M579.6 204.8A113.5 113.5 0 0 1 579.0 205.8" stroke="#fbc7c7"/>
<path d="M579.1 205.7A113.5 113.5 0 0 1 578.5 206.7" stroke="#f79797"/>
<path d="M578.6 206.5A113.5 113.5 0 0 1 578.1 207.5" stroke="#fabebe"/>
<path d="M578.1 207.4A113.5 113.5 0 0 1 577.6 208.4" stroke="#dfeaf5"/>
<path d="M577.7 208.2A113.5 113.5 0 0 1 577.1 209.2" stroke="#b7d0e8"/>
<path d="M577.2 209.1A113.5 113.5 0 0 1 576.6 210.1" stroke="#d4e4f2"/>
<path d="M576.6 209.9A113.5 113.5 0 0 1 576.0 210.9" stroke="#c2d8ec"/>
<path d="M576.1 210.8A113.5 113.5 0 0 1 575.5 211.7" stroke="#ccdeef"/>
<path d="M575.6 211.6A113.5 113.5 0 0 1 575.0 212.6" stroke="#7ca7d1"/>
<path d="M575.1 212.4A113.5 113.5 0 0 1 574.5 213.4" stroke="#cbdeef"/>
<path d="M574.5 213.2A113.5 113.5 0 0 1 573.9 214.2" stroke="#cadeef"/>
<path d="M574.0 214.1A113.5 113.5 0 0 1 573.4 215.0" stroke="#7da8d1"/>
<path d="M573.5 214.9A113.5 113.5 0 0 1 572.8 215.8" stroke="#73a1cd"/>
<path d="M572.9 215.7A113.5 113.5 0 0 1 572.2 216.6" stroke="#417eba"/>
<path d="M572.3 216.5A113.5 113.5 0 0 1 571.7 217.4" stroke="#4984bd"/>
<path d="M571.8 217.3A113.5 113.5 0 0 1 571.1 218.2" stroke="#417eba"/>
<path d="M571.2 218.1A113.5 113.5 0 0 1 570.5 219.0" stroke="#2d70b2"/>
<path d="M570.6 218.9A113.5 113.5 0 0 1 569.9 219.8" stroke="#98badb"/>
<path d="M570.0 219.7A113.5 113.5 0 0 1 569.3 220.6" stroke="#2d70b2"/>
<path d="M569.4 220.4A113.5 113.5 0 0 1 568.7 221.3" stroke="#3274b4"/>
<path d="M568.8 221.2A113.5 113.5 0 0 1 568.1 222.1" stroke="#407db9"/>
<path d="M568.2 222.0A113.5 113.5 0 0 1 567.5 222.9" stroke="#caddef"/>
<path d="M567.6 222.7A113.5 113.5 0 0 1 566.8 223.6" stroke="#2d70b2"/>
<path d="M567.0 223.5A113.5 113.5 0 0 1 566.2 224.4" stroke="#aecae4"/>
<path d="M566.3 224.2A113.5 113.5 0 0 1 565.6 225.1" stroke="#9abcdc"/>
<path d="M565.7 225.0A113.5 113.5 0 0 1 564.9 225.8" stroke="#83acd3"/>
<path d="M565.0 225.7A113.5 113.5 0 0 1 564.3 226.6" stroke="#d2e2f1"/>
<path d="M564.4 226.5A113.5 113.5 0 0 1 563.6 227.3" stroke="#c9dcee"/>
<path d="M563.7 227.2A113.5 113.5 0 0 1 563.0 228.0" stroke="#e1ecf6"/>
<path d="M563.1 227.9A113.5 113.5 0 0 1 562.3 228.8" stroke="#dfebf5"/>
<path d="M562.4 228.6A113.5 113.5 0 0 1 561.6 229.5" stroke="#dde9f4"/>
<path d="M561.7 229.3A113.5 113.5 0 0 1 560.9 230.2" stroke="#e0ecf6"/>
<path d="M561.0 230.1A113.5 113.5 0 0 1 560.2 230.9" stroke="#feeded"/>
<path d="M560.4 230.8A113.5 113.5 0 0 1 559.5 231.6" stroke="#f0f5fa"/>
<path d="M559.7 231.5A113.5 113.5 0 0 1 558.8 232.2" stroke="#fbc9c9"/>
<path d="M559.0 232.1A113.5 113.5 0 0 1 558.3 232.8" stroke="#f9acac"/>
<path d="M549.8 240.2A113.5 113.5 0 0 1 548.9 240.9" stroke="#f8a0a0"/>
<path d="M549.0 240.8A113.5 113.5 0 0 1 548.1 241.5" stroke="#fbc7c7"/>
<path d="M548.2 241.4A113.5 113.5 0 0 1 547.3 242.1" stroke="#fddcdc"/>
<path d="M547.4 242.0A113.5 113.5 0 0 1 546.5 242.7" stroke="#f9a9a9"/>
<path d="M546.6 242.6A113.5 113.5 0 0 1 545.7 243.3" stroke="#fbfcfe"/>
<path d="M545.8 243.2A113.5 113.5 0 0 1 544.8 243.8" stroke="#d8e6f3"/>
<path d="M545.0 243.8A113.5 113.5 0 0 1 544.0 244.4" stroke="#2d70b2"/>
<path d="M544.2 244.3A113.5 113.5 0 0 1 543.2 245.0" stroke="#b5cfe7"/>
<path d="M543.3 244.9A113.5 113.5 0 0 1 542.4 245.5" stroke="#abc8e3"/>
<path d="M542.5 245.4A113.5 113.5 0 0 1 541.5 246.1" stroke="#2d70b2"/>
<path d="M541.7 246.0A113.5 113.5 0 0 1 540.7 246.6" stroke="#d2e2f1"/>
<path d="M540.8 246.5A113.5 113.5 0 0 1 539.9 247.1" stroke="#f1f6fb"/>
<path d="M540.0 247.1A113.5 113.5 0 0 1 539.0 247.7" stroke="#d4e4f2"/>
<path d="M539.1 247.6A113.5 113.5 0 0 1 538.2 248.2" stroke="#5e92c5"/>
<path d="M538.3 248.1A113.5 113.5 0 0 1 537.3 248.7" stroke="#8eb4d8"/>
<path d="M537.4 248.6A113.5 113.5 0 0 1 536.4 249.2" stroke="#4883bc"/>
<path d="M536.6 249.1A113.5 113.5 0 0 1 535.6 249.7" stroke="#b4cee6"/>
<path d="M535.7 249.6A113.5 113.5 0 0 1 534.7 250.2" stroke="#588ec3"/>
<path d="M534.8 250.1A113.5 113.5 0 0 1 533.8 250.7" stroke="#3777b6"/>
<path d="M534.0 250.6A113.5 113.5 0 0 1 532.9 251.1" stroke="#88afd5"/>
<path d="M533.1 251.1A113.5 113.5 0 0 1 532.1 251.6" stroke="#81abd3"/>
<path d="M532.2 251.5A113.5 113.5 0 0 1 531.2 252.1" stroke="#d4e4f2"/>
<path d="M531.3 252.0A113.5 113.5 0 0 1 530.3 252.5" stroke="#c4d9ec"/>
<path d="M530.4 252.4A113.5 113.5 0 0 1 529.4 252.9" stroke="#6799c9"/>
<path d="M529.5 252.9A113.5 113.5 0 0 1 528.5 253.4" stroke="#c9dcee"/>
<path d="M528.6 253.3A113.5 113.5 0 0 1 527.6 253.8" stroke="#6d9dcb"/>
<path d="M527.7 253.7A113.5 113.5 0 0 1 526.7 254.2" stroke="#b4cee6"/>
<path d="M526.8 254.2A113.5 113.5 0 0 1 525.8 254.6" stroke="#aecae4"/>
<path d="M525.9 254.6A113.5 113.5 0 0 1 524.8 255.0" stroke="#e6eff7"/>
<path d="M525.0 255.0A113.5 113.5 0 0 1 523.9 255.4" stroke="#e8f0f8"/>
<path d="M524.1 255.4A113.5 113.5 0 0 1 523.0 255.8" stroke="#f5f8fc"/>
<path d="M523.2 255.8A113.5 113.5 0 0 1 522.1 256.2" stroke="#fffefe"/>
<path d="M522.2 256.1A113.5 113.5 0 0 1 521.2 256.6" stroke="#d8e6f3"/>
<path d="M521.3 256.5A113.5 113.5 0 0 1 520.2 256.9" stroke="#d5e4f2"/>
<path d="M520.4 256.9A113.5 113.5 0 0 1 519.3 257.3" stroke="#fef3f3"/>
<path d="M519.4 257.2A113.5 113.5 0 0 1 518.4 257.6" stroke="#fabdbd"/>
<path d="M518.5 257.6A113.5 113.5 0 0 1 517.4 257.9" stroke="#fbcaca"/>
<path d="M517.6 257.9A113.5 113.5 0 0 1 516.5 258.3" stroke="#f14242"/>
<path d="M516.6 258.2A113.5 113.5 0 0 1 515.5 258.6" stroke="#f8a2a2"/>
<path d="M515.7 258.5A113.5 113.5 0 0 1 514.6 258.9" stroke="#eaf2f9"/>
<path d="M514.7 258.9A113.5 113.5 0 0 1 513.8 259.2" stroke="#fef2f2"/>
<path d="M502.9 262.0A113.5 113.5 0 0 1 501.8 262.2" stroke="#f14a4a"/>
<path d="M501.9 262.2A113.5 113.5 0 0 1 500.8 262.4" stroke="#f36363"/>
<path d="M501.0 262.4A113.5 113.5 0 0 1 499.8 262.6" stroke="#f79393"/>
<path d="M500.0 262.6A113.5 113.5 0 0 1 498.9 262.8" stroke="#fbfcfe"/>
<path d="M499.0 262.7A113.5 113.5 0 0 1 497.9 262.9" stroke="#fcdada"/>
<path d="M498.0 262.9A113.5 113.5 0 0 1 496.9 263.1" stroke="#fde1e1"/>
<path d="M497.0 263.1A113.5 113.5 0 0 1 495.9 263.2" stroke="#fbc1c1"/>
<path d="M496.1 263.2A113.5 113.5 0 0 1 494.9 263.4" stroke="#fef4f4"/>
<path d="M495.1 263.4A113.5 113.5 0 0 1 493.9 263.5" stroke="#eff5fa"/>
<path d="M494.1 263.5A113.5 113.5 0 0 1 492.9 263.6" stroke="#d2e2f1"/>
<path d="M493.1 263.6A113.5 113.5 0 0 1 492.0 263.7" stroke="#e1ecf6"/>
<path d="M492.1 263.7A113.5 113.5 0 0 1 491.0 263.8" stroke="#d8e6f3"/>
<path d="M491.1 263.8A113.5 113.5 0 0 1 490.0 263.9" stroke="#bbd3e9"/>
<path d="M490.1 263.9A113.5 113.5 0 0 1 489.0 264.0" stroke="#d7e5f3"/>
<path d="M489.1 264.0A113.5 113.5 0 0 1 488.0 264.1" stroke="#aac7e2"/>
<path d="M488.2 264.1A113.5 113.5 0 0 1 487.0 264.2" stroke="#2d70b2"/>
<path d="M487.2 264.2A113.5 113.5 0 0 1 486.0 264.2" stroke="#98badb"/>
<path d="M486.2 264.2A113.5 113.5 0 0 1 485.0 264.3" stroke="#6396c7"/>
<path d="M485.2 264.3A113.5 113.5 0 0 1 484.0 264.3" stroke="#5e92c5"/>
<path d="M484.2 264.3A113.5 113.5 0 0 1 483.0 264.4" stroke="#74a1cd"/>
<path d="M483.2 264.3A113.5 113.5 0 0 1 482.0 264.4" stroke="#c4daed"/>
<path d="M482.2 264.4A113.5 113.5 0 0 1 481.0 264.4" stroke="#82abd3"/>
<path d="M481.2 264.4A113.5 113.5 0 0 1 480.0 264.4" stroke="#3374b4"/>
<path d="M480.2 264.4A113.5 113.5 0 0 1 479.0 264.4" stroke="#bdd5ea"/>
<path d="M479.2 264.4A113.5 113.5 0 0 1 478.0 264.4" stroke="#dbe8f4"/>
<path d="M478.2 264.4A113.5 113.5 0 0 1 477.1 264.4" stroke="#72a0cd"/>
<path d="M477.2 264.4A113.5 113.5 0 0 1 476.1 264.3" stroke="#d8e6f3"/>
<path d="M476.2 264.3A113.5 113.5 0 0 1 475.1 264.3" stroke="#aecae4"/>
<path d="M475.2 264.3A113.5 113.5 0 0 1 474.1 264.3" stroke="#b6d0e7"/>
<path d="M474.2 264.3A113.5 113.5 0 0 1 473.1 264.2" stroke="#a7c5e1"/>
<path d="M473.2 264.2A113.5 113.5 0 0 1 472.1 264.1" stroke="#dfebf5"/>
<path d="M472.2 264.2A113.5 113.5 0 0 1 471.1 264.1" stroke="#b6d0e7"/>
<path d="M471.2 264.1A113.5 113.5 0 0 1 470.1 264.0" stroke="#e9f1f8"/>
<path d="M470.3 264.0A113.5 113.5 0 0 1 469.1 263.9" stroke="#f7fafd"/>
<path d="M469.3 263.9A113.5 113.5 0 0 1 468.1 263.8" stroke="#fcd5d5"/>
<path d="M468.3 263.8A113.5 113.5 0 0 1 467.1 263.7" stroke="#ecf3f9"/>
<path d="M467.3 263.7A113.5 113.5 0 0 1 466.1 263.6" stroke="#e7eff7"/>
<path d="M466.3 263.6A113.5 113.5 0 0 1 465.1 263.5" stroke="#eaf1f8"/>
<path d="M465.3 263.5A113.5 113.5 0 0 1 464.2 263.3" stroke="#fbc0c0"/>
<path d="M464.3 263.4A113.5 113.5 0 0 1 463.2 263.2" stroke="#fab6b6"/>
<path d="M463.3 263.2A113.5 113.5 0 0 1 462.2 263.0" stroke="#fabebe"/>
<path d="M462.3 263.1A113.5 113.5 0 0 1 461.4 262.9" stroke="#fbcaca"/>
<path d="M450.4 260.6A113.5 113.5 0 0 1 449.3 260.3" stroke="#fbcaca"/>
<path d="M449.4 260.3A113.5 113.5 0 0 1 448.3 260.0" stroke="#fcd8d8"/>
<path d="M448.5 260.0A113.5 113.5 0 0 1 447.4 259.7" stroke="#fbcdcd"/>
<path d="M447.6 259.8A113.5 113.5 0 0 1 446.5 259.4" stroke="#fccece"/>
<path d="M446.6 259.5A113.5 113.5 0 0 1 445.5 259.1" stroke="#fddfdf"/>
<path d="M445.7 259.2A113.5 113.5 0 0 1 444.6 258.8" stroke="#fffafa"/>
<path d="M444.7 258.9A113.5 113.5 0 0 1 443.6 258.5" stroke="#e0ebf5"/>
<path d="M443.8 258.6A113.5 113.5 0 0 1 442.7 258.2" stroke="#e1ecf6"/>
<path d="M442.9 258.3A113.5 113.5 0 0 1 441.8 257.9" stroke="#fff9f9"/>
<path d="M441.9 257.9A113.5 113.5 0 0 1 440.9 257.5" stroke="#d4e3f2"/>
<path d="M441.0 257.6A113.5 113.5 0 0 1 439.9 257.2" stroke="#c7dbee"/>
<path d="M440.1 257.3A113.5 113.5 0 0 1 439.0 256.9" stroke="#9cbddd"/>
<path d="M439.2 256.9A113.5 113.5 0 0 1 438.1 256.5" stroke="#96b9db"/>
<path d="M438.2 256.6A113.5 113.5 0 0 1 437.2 256.1" stroke="#79a5d0"/>
<path d="M437.3 256.2A113.5 113.5 0 0 1 436.3 255.8" stroke="#90b5d8"/>
<path d="M436.4 255.8A113.5 113.5 0 0 1 435.4 255.4" stroke="#cee0f0"/>
<path d="M435.5 255.4A113.5 113.5 0 0 1 434.5 255.0" stroke="#cee0f0"/>
<path d="M434.6 255.1A113.5 113.5 0 0 1 433.6 254.6" stroke="#5189c0"/>
<path d="M433.7 254.7A113.5 113.5 0 0 1 432.7 254.2" stroke="#d3e3f2"/>
<path d="M432.8 254.3A113.5 113.5 0 0 1 431.8 253.8" stroke="#cbdeef"/>
<path d="M431.9 253.9A113.5 113.5 0 0 1 430.9 253.4" stroke="#c3d8ec"/>
<path d="M431.0 253.4A113.5 113.5 0 0 1 430.0 252.9" stroke="#8ab1d6"/>
<path d="M430.1 253.0A113.5 113.5 0 0 1 429.1 252.5" stroke="#96b9db"/>
<path d="M429.3 252.6A113.5 113.5 0 0 1 428.2 252.1" stroke="#2d70b2"/>
<path d="M428.4 252.1A113.5 113.5 0 0 1 427.4 251.6" stroke="#2d70b2"/>
<path d="M427.5 251.7A113.5 113.5 0 0 1 426.5 251.2" stroke="#7ea9d1"/>
<path d="M426.6 251.2A113.5 113.5 0 0 1 425.6 250.7" stroke="#83acd3"/>
<path d="M425.8 250.8A113.5 113.5 0 0 1 424.8 250.2" stroke="#c5daed"/>
<path d="M424.9 250.3A113.5 113.5 0 0 1 423.9 249.7" stroke="#c0d6eb"/>
<path d="M424.0 249.8A113.5 113.5 0 0 1 423.0 249.2" stroke="#cfe0f0"/>
<path d="M423.2 249.3A113.5 113.5 0 0 1 422.2 248.8" stroke="#fef3f3"/>
<path d="M422.3 248.8A113.5 113.5 0 0 1 421.3 248.3" stroke="#fddddd"/>
<path d="M421.5 248.3A113.5 113.5 0 0 1 420.5 247.7" stroke="#fbfcfe"/>
<path d="M420.6 247.8A113.5 113.5 0 0 1 419.7 247.2" stroke="#fbc5c5"/>
<path d="M419.8 247.3A113.5 113.5 0 0 1 418.8 246.7" stroke="#f46f6f"/>
<path d="M419.0 246.8A113.5 113.5 0 0 1 418.0 246.2" stroke="#f46d6d"/>
<path d="M418.1 246.3A113.5 113.5 0 0 1 417.3 245.7" stroke="#f89c9c"/>
<path d="M408.3 239.1A113.5 113.5 0 0 1 407.4 238.4" stroke="#ee1e1e"/>
<path d="M407.5 238.5A113.5 113.5 0 0 1 406.6 237.7" stroke="#ee1e1e"/>
<path d="M406.7 237.8A113.5 113.5 0 0 1 405.9 237.1" stroke="#f57c7c"/>
<path d="M406.0 237.2A113.5 113.5 0 0 1 405.1 236.4" stroke="#fab9b9"/>
<path d="M405.2 236.5A113.5 113.5 0 0 1 404.4 235.8" stroke="#f35b5b"/>
<path d="M404.5 235.9A113.5 113.5 0 0 1 403.6 235.1" stroke="#f46767"/>
<path d="M403.7 235.2A113.5 113.5 0 0 1 402.9 234.5" stroke="#fab5b5"/>
<path d="M403.0 234.6A113.5 113.5 0 0 1 402.2 233.8" stroke="#f9acac"/>
<path d="M402.3 233.9A113.5 113.5 0 0 1 401.4 233.1" stroke="#f9aaaa"/>
<path d="M401.5 233.2A113.5 113.5 0 0 1 400.7 232.4" stroke="#f89a9a"/>
<path d="M400.8 232.5A113.5 113.5 0 0 1 400.0 231.7" stroke="#f89c9c"/>
<path d="M400.1 231.8A113.5 113.5 0 0 1 399.3 231.0" stroke="#fafcfd"/>
<path d="M399.4 231.1A113.5 113.5 0 0 1 398.6 230.3" stroke="#fab3b3"/>
<path d="M398.7 230.4A113.5 113.5 0 0 1 397.9 229.6" stroke="#ecf3f9"/>
<path d="M398.0 229.7A113.5 113.5 0 0 1 397.2 228.9" stroke="#edf4f9"/>
<path d="M397.3 229.0A113.5 113.5 0 0 1 396.6 228.2" stroke="#d6e5f2"/>
<path d="M396.7 228.3A113.5 113.5 0 0 1 395.9 227.4" stroke="#cbdeef"/>
<path d="M396.0 227.5A113.5 113.5 0 0 1 395.2 226.7" stroke="#7fa9d2"/>
<path d="M395.3 226.8A113.5 113.5 0 0 1 394.6 225.9" stroke="#d6e5f2"/>
<path d="M394.7 226.1A113.5 113.5 0 0 1 393.9 225.2" stroke="#d8e6f3"/>
<path d="M394.0 225.3A113.5 113.5 0 0 1 393.3 224.4" stroke="#98bbdb"/>
<path d="M393.4 224.6A113.5 113.5 0 0 1 392.6 223.7" stroke="#e9f1f8"/>
<path d="M392.7 223.8A113.5 113.5 0 0 1 392.0 222.9" stroke="#e3edf6"/>
<path d="M392.1 223.0A113.5 113.5 0 0 1 391.4 222.2" stroke="#437fba"/>
<path d="M391.5 222.3A113.5 113.5 0 0 1 390.7 221.4" stroke="#bbd3e9"/>
<path d="M390.8 221.5A113.5 113.5 0 0 1 390.1 220.6" stroke="#cbdeef"/>
<path d="M390.2 220.7A113.5 113.5 0 0 1 389.5 219.8" stroke="#407db9"/>
<path d="M389.6 219.9A113.5 113.5 0 0 1 388.9 219.0" stroke="#caddef"/>
<path d="M389.0 219.2A113.5 113.5 0 0 1 388.3 218.2" stroke="#9bbcdc"/>
<path d="M388.4 218.4A113.5 113.5 0 0 1 387.7 217.4" stroke="#2d70b2"/>
<path d="M387.8 217.6A113.5 113.5 0 0 1 387.2 216.6" stroke="#76a3ce"/>
<path d="M387.3 216.7A113.5 113.5 0 0 1 386.6 215.8" stroke="#cfe0f0"/>
<path d="M386.7 215.9A113.5 113.5 0 0 1 386.0 215.0" stroke="#3f7cb9"/>
<path d="M386.1 215.1A113.5 113.5 0 0 1 385.5 214.2" stroke="#2d70b2"/>
<path d="M385.6 214.3A113.5 113.5 0 0 1 384.9 213.3" stroke="#548bc1"/>
<path d="M385.0 213.5A113.5 113.5 0 0 1 384.4 212.5" stroke="#3475b5"/>
<path d="M384.5 212.6A113.5 113.5 0 0 1 383.8 211.7" stroke="#2d70b2"/>
<path d="M383.9 211.8A113.5 113.5 0 0 1 383.3 210.8" stroke="#6798c8"/>
<path d="M383.4 211.0A113.5 113.5 0 0 1 382.8 210.0" stroke="#5088bf"/>
<path d="M382.9 210.1A113.5 113.5 0 0 1 382.3 209.1" stroke="#3072b3"/>
<path d="M382.4 209.3A113.5 113.5 0 0 1 381.9 208.4" stroke="#2d70b2"/>
<path d="M376.7 198.5A113.5 113.5 0 0 1 376.2 197.4" stroke="#4681bc"/>
<path d="M376.2 197.6A113.5 113.5 0 0 1 375.8 196.5" stroke="#4380bb"/>
<path d="M375.8 196.7A113.5 113.5 0 0 1 375.4 195.6" stroke="#e3edf6"/>
<path d="M375.4 195.7A113.5 113.5 0 0 1 375.0 194.7" stroke="#cfe1f0"/>
<path d="M375.0 194.8A113.5 113.5 0 0 1 374.6 193.7" stroke="#deeaf5"/>
<path d="M374.7 193.9A113.5 113.5 0 0 1 374.2 192.8" stroke="#f2f6fb"/>
<path d="M374.3 193.0A113.5 113.5 0 0 1 373.9 191.9" stroke="#f47171"/>
<path d="M373.9 192.0A113.5 113.5 0 0 1 373.5 190.9" stroke="#f89d9d"/>
<path d="M373.6 191.1A113.5 113.5 0 0 1 373.1 190.0" stroke="#f25555"/>
<path d="M373.2 190.1A113.5 113.5 0 0 1 372.8 189.1" stroke="#f79191"/>
<path d="M372.9 189.2A113.5 113.5 0 0 1 372.5 188.1" stroke="#fde3e3"/>
<path d="M372.5 188.3A113.5 113.5 0 0 1 372.1 187.2" stroke="#f9b0b0"/>
<path d="M372.2 187.3A113.5 113.5 0 0 1 371.8 186.2" stroke="#dae7f4"/>
<path d="M371.9 186.4A113.5 113.5 0 0 1 371.5 185.3" stroke="#f4f8fc"/>
<path d="M371.6 185.4A113.5 113.5 0 0 1 371.2 184.3" stroke="#fcd6d6"/>
<path d="M371.3 184.4A113.5 113.5 0 0 1 370.9 183.3" stroke="#e9f1f8"/>
<path d="M371.0 183.5A113.5 113.5 0 0 1 370.7 182.4" stroke="#d0e1f0"/>
<path d="M370.7 182.5A113.5 113.5 0 0 1 370.4 181.4" stroke="#b6d0e7"/>
<path d="M370.4 181.6A113.5 113.5 0 0 1 370.1 180.4" stroke="#8db3d7"/>
<path d="M370.2 180.6A113.5 113.5 0 0 1 369.9 179.5" stroke="#91b6d9"/>
<path d="M369.9 179.6A113.5 113.5 0 0 1 369.6 178.5" stroke="#2d70b2"/>
<path d="M369.6 178.7A113.5 113.5 0 0 1 369.4 177.5" stroke="#afcae4"/>
<path d="M369.4 177.7A113.5 113.5 0 0 1 369.1 176.5" stroke="#d5e4f2"/>
<path d="M369.2 176.7A113.5 113.5 0 0 1 368.9 175.6" stroke="#d8e6f3"/>
<path d="M368.9 175.7A113.5 113.5 0 0 1 368.7 174.6" stroke="#cfe1f0"/>
<path d="M368.7 174.7A113.5 113.5 0 0 1 368.5 173.6" stroke="#aac7e2"/>
<path d="M368.5 173.8A113.5 113.5 0 0 1 368.3 172.6" stroke="#c0d7eb"/>
<path d="M368.3 172.8A113.5 113.5 0 0 1 368.1 171.6" stroke="#94b8da"/>
<path d="M368.1 171.8A113.5 113.5 0 0 1 367.9 170.7" stroke="#6194c6"/>
<path d="M368.0 170.8A113.5 113.5 0 0 1 367.8 169.7" stroke="#77a3cf"/>
<path d="M367.8 169.8A113.5 113.5 0 0 1 367.6 168.7" stroke="#adc9e3"/>
<path d="M367.6 168.8A113.5 113.5 0 0 1 367.4 167.7" stroke="#3072b3"/>
<path d="M367.5 167.8A113.5 113.5 0 0 1 367.3 166.7" stroke="#f7fafd"/>
<path d="M367.3 166.8A113.5 113.5 0 0 1 367.2 165.7" stroke="#fde2e2"/>
<path d="M367.2 165.9A113.5 113.5 0 0 1 367.0 164.7" stroke="#fbc8c8"/>
<path d="M367.1 164.9A113.5 113.5 0 0 1 366.9 163.7" stroke="#fcd0d0"/>
<path d="M366.9 163.9A113.5 113.5 0 0 1 366.8 162.7" stroke="#feeaea"/>
<path d="M366.8 162.9A113.5 113.5 0 0 1 366.7 161.7" stroke="#f68484"/>
<path d="M366.7 161.9A113.5 113.5 0 0 1 366.6 160.9" stroke="#ee1e1e"/>
<path d="M366.2 149.7A113.5 113.5 0 0 1 366.2 148.5" stroke="#fabfbf"/>
<path d="M366.2 148.7A113.5 113.5 0 0 1 366.3 147.5" stroke="#fbfcfe"/>
<path d="M366.2 147.7A113.5 113.5 0 0 1 366.3 146.5" stroke="#fefeff"/>
<path d="M366.3 146.7A113.5 113.5 0 0 1 366.3 145.6" stroke="#6195c6"/>
<path d="M366.3 145.7A113.5 113.5 0 0 1 366.4 144.6" stroke="#d1e1f1"/>
<path d="M366.4 144.7A113.5 113.5 0 0 1 366.4 143.6" stroke="#f8fbfd"/>
<path d="M366.4 143.8A113.5 113.5 0 0 1 366.5 142.6" stroke="#bbd3e9"/>
<path d="M366.5 142.8A113.5 113.5 0 0 1 366.6 141.6" stroke="#eef4fa"/>
<path d="M366.6 141.8A113.5 113.5 0 0 1 366.7 140.7" stroke="#cbdeef"/>
<path d="M366.6 140.8A113.5 113.5 0 0 1 366.8 139.7" stroke="#d5e5f2"/>
<path d="M366.7 139.8A113.5 113.5 0 0 1 366.9 138.7" stroke="#bcd3e9"/>
<path d="M366.8 138.9A113.5 113.5 0 0 1 367.0 137.7" stroke="#99bbdc"/>
<path d="M367.0 137.9A113.5 113.5 0 0 1 367.1 136.7" stroke="#7da8d1"/>
<path d="M367.1 136.9A113.5 113.5 0 0 1 367.2 135.8" stroke="#2d70b2"/>
<path d="M367.2 135.9A113.5 113.5 0 0 1 367.3 134.8" stroke="#3a79b7"/>
<path d="M367.3 134.9A113.5 113.5 0 0 1 367.5 133.8" stroke="#95b8da"/>
<path d="M367.5 134.0A113.5 113.5 0 0 1 367.6 132.8" stroke="#3777b6"/>
<path d="M367.6 133.0A113.5 113.5 0 0 1 367.8 131.9" stroke="#4581bb"/>
<path d="M367.8 132.0A113.5 113.5 0 0 1 368.0 130.9" stroke="#6c9ccb"/>
<path d="M367.9 131.1A113.5 113.5 0 0 1 368.2 129.9" stroke="#bad2e9"/>
<path d="M368.1 130.1A113.5 113.5 0 0 1 368.3 129.0" stroke="#96b9db"/>
<path d="M368.3 129.1A113.5 113.5 0 0 1 368.5 128.0" stroke="#699ac9"/>
<path d="M368.5 128.2A113.5 113.5 0 0 1 368.7 127.0" stroke="#c1d7eb"/>
<path d="M368.7 127.2A113.5 113.5 0 0 1 368.9 126.1" stroke="#2d70b2"/>
<path d="M368.9 126.2A113.5 113.5 0 0 1 369.2 125.1" stroke="#427eba"/>
<path d="M369.1 125.3A113.5 113.5 0 0 1 369.4 124.2" stroke="#87afd5"/>
<path d="M369.4 124.3A113.5 113.5 0 0 1 369.6 123.2" stroke="#6698c8"/>
<path d="M369.6 123.4A113.5 113.5 0 0 1 369.9 122.3" stroke="#5089c0"/>
<path d="M369.8 122.4A113.5 113.5 0 0 1 370.1 121.3" stroke="#d6e5f2"/>
<path d="M370.1 121.5A113.5 113.5 0 0 1 370.4 120.3" stroke="#3f7cb9"/>
<path d="M370.3 120.5A113.5 113.5 0 0 1 370.7 119.4" stroke="#2d70b2"/>
<path d="M370.6 119.6A113.5 113.5 0 0 1 370.9 118.5" stroke="#5b90c4"/>
<path d="M370.9 118.6A113.5 113.5 0 0 1 371.2 117.5" stroke="#9ebfde"/>
<path d="M371.2 117.7A113.5 113.5 0 0 1 371.5 116.6" stroke="#b0cbe5"/>
<path d="M371.5 116.7A113.5 113.5 0 0 1 371.8 115.6" stroke="#fde4e4"/>
<path d="M371.8 115.8A113.5 113.5 0 0 1 372.1 114.7" stroke="#f9acac"/>
<path d="M372.1 114.9A113.5 113.5 0 0 1 372.4 113.8" stroke="#ef2727"/>
<path d="M372.4 113.9A113.5 113.5 0 0 1 372.8 112.8" stroke="#f36565"/>
<path d="M372.7 113.0A113.5 113.5 0 0 1 373.0 112.1" stroke="#f46c6c"/>
<path d="M377.4 101.7A113.5 113.5 0 0 1 377.9 100.7" stroke="#fcd8d8"/>
<path d="M377.8 100.8A113.5 113.5 0 0 1 378.4 99.8" stroke="#f9b1b1"/>
<path d="M378.3 99.9A113.5 113.5 0 0 1 378.8 98.9" stroke="#f68888"/>
<path d="M378.7 99.1A113.5 113.5 0 0 1 379.3 98.0" stroke="#fdeaea"/>
<path d="M379.2 98.2A113.5 113.5 0 0 1 379.7 97.2" stroke="#fab3b3"/>
<path d="M379.7 97.3A113.5 113.5 0 0 1 380.2 96.3" stroke="#f47171"/>
<path d="M380.1 96.4A113.5 113.5 0 0 1 380.7 95.4" stroke="#f9a6a6"/>
<path d="M380.6 95.6A113.5 113.5 0 0 1 381.2 94.6" stroke="#f57979"/>
<path d="M381.1 94.7A113.5 113.5 0 0 1 381.7 93.7" stroke="#ee1f1f"/>
<path d="M381.6 93.8A113.5 113.5 0 0 1 382.2 92.8" stroke="#f57575"/>
<path d="M382.1 93.0A113.5 113.5 0 0 1 382.7 92.0" stroke="#fef1f1"/>
<path d="M382.6 92.1A113.5 113.5 0 0 1 383.2 91.2" stroke="#d2e2f1"/>
<path d="M383.1 91.3A113.5 113.5 0 0 1 383.7 90.3" stroke="#d5e4f2"/>
<path d="M383.6 90.4A113.5 113.5 0 0 1 384.3 89.5" stroke="#e3edf6"/>
<path d="M384.2 89.6A113.5 113.5 0 0 1 384.8 88.6" stroke="#7ba7d0"/>
<path d="M384.7 88.8A113.5 113.5 0 0 1 385.3 87.8" stroke="#2d70b2"/>
<path d="M385.3 87.9A113.5 113.5 0 0 1 385.9 87.0" stroke="#d0e1f0"/>
<path d="M385.8 87.1A113.5 113.5 0 0 1 386.5 86.2" stroke="#a6c4e1"/>
<path d="M386.4 86.3A113.5 113.5 0 0 1 387.0 85.4" stroke="#c5daed"/>
<path d="M386.9 85.5A113.5 113.5 0 0 1 387.6 84.6" stroke="#eff5fa"/>
<path d="M387.5 84.7A113.5 113.5 0 0 1 388.2 83.8" stroke="#8bb2d7"/>
<path d="M388.1 83.9A113.5 113.5 0 0 1 388.8 83.0" stroke="#78a4cf"/>
<path d="M388.7 83.1A113.5 113.5 0 0 1 389.4 82.2" stroke="#598ec3"/>
<path d="M389.3 82.3A113.5 113.5 0 0 1 390.0 81.4" stroke="#9bbddd"/>
<path d="M389.9 81.5A113.5 113.5 0 0 1 390.6 80.6" stroke="#c5daed"/>
<path d="M390.5 80.7A113.5 113.5 0 0 1 391.2 79.8" stroke="#c5daed"/>
<path d="M391.1 79.9A113.5 113.5 0 0 1 391.8 79.1" stroke="#8ab1d6"/>
<path d="M391.7 79.2A113.5 113.5 0 0 1 392.5 78.3" stroke="#c1d7eb"/>
<path d="M392.4 78.4A113.5 113.5 0 0 1 393.1 77.5" stroke="#fffcfc"/>
<path d="M393.0 77.6A113.5 113.5 0 0 1 393.8 76.8" stroke="#feebeb"/>
<path d="M393.6 76.9A113.5 113.5 0 0 1 394.4 76.0" stroke="#fbcaca"/>
<path d="M394.3 76.1A113.5 113.5 0 0 1 395.1 75.3" stroke="#fddfdf"/>
<path d="M395.0 75.4A113.5 113.5 0 0 1 395.7 74.5" stroke="#f2f7fb"/>
<path d="M395.6 74.7A113.5 113.5 0 0 1 396.4 73.8" stroke="#fabdbd"/>
<path d="M396.3 73.9A113.5 113.5 0 0 1 397.1 73.1" stroke="#f9b3b3"/>
<path d="M397.0 73.2A113.5 113.5 0 0 1 397.6 72.5" stroke="#e5eef7"/>
<path d="M405.8 64.8A113.5 113.5 0 0 1 406.7 64.0" stroke="#c7dcee"/>
<path d="M406.5 64.1A113.5 113.5 0 0 1 407.4 63.4" stroke="#f6f9fc"/>
<path d="M407.3 63.5A113.5 113.5 0 0 1 408.2 62.8" stroke="#6597c8"/>
<path d="M408.1 62.9A113.5 113.5 0 0 1 409.0 62.1" stroke="#a0c0de"/>
<path d="M408.8 62.2A113.5 113.5 0 0 1 409.8 61.5" stroke="#3e7cb9"/>
<path d="M409.6 61.6A113.5 113.5 0 0 1 410.5 60.9" stroke="#6597c8"/>
<path d="M410.4 61.0A113.5 113.5 0 0 1 411.3 60.3" stroke="#c0d6eb"/>
<path d="M411.2 60.4A113.5 113.5 0 0 1 412.1 59.7" stroke="#94b7da"/>
<path d="M412.0 59.8A113.5 113.5 0 0 1 412.9 59.1" stroke="#b9d1e8"/>
<path d="M412.8 59.2A113.5 113.5 0 0 1 413.7 58.5" stroke="#b2cce5"/>
<path d="M413.6 58.6A113.5 113.5 0 0 1 414.5 58.0" stroke="#d5e4f2"/>
<path d="M414.4 58.1A113.5 113.5 0 0 1 415.4 57.4" stroke="#c4d9ed"/>
<path d="M415.2 57.5A113.5 113.5 0 0 1 416.2 56.8" stroke="#cfe1f0"/>
<path d="M416.0 56.9A113.5 113.5 0 0 1 417.0 56.3" stroke="#e7f0f8"/>
<path d="M416.9 56.4A113.5 113.5 0 0 1 417.8 55.7" stroke="#d2e2f1"/>
<path d="M417.7 55.8A113.5 113.5 0 0 1 418.7 55.2" stroke="#92b6d9"/>
<path d="M418.5 55.3A113.5 113.5 0 0 1 419.5 54.7" stroke="#2d70b2"/>
<path d="M419.4 54.8A113.5 113.5 0 0 1 420.4 54.2" stroke="#2d70b2"/>
<path d="M420.2 54.2A113.5 113.5 0 0 1 421.2 53.6" stroke="#75a3ce"/>
<path d="M421.1 53.7A113.5 113.5 0 0 1 422.1 53.1" stroke="#99bbdc"/>
<path d="M421.9 53.2A113.5 113.5 0 0 1 422.9 52.6" stroke="#8ab1d6"/>
<path d="M422.8 52.7A113.5 113.5 0 0 1 423.8 52.1" stroke="#c0d6eb"/>
<path d="M423.6 52.2A113.5 113.5 0 0 1 424.6 51.6" stroke="#b4cee6"/>
<path d="M424.5 51.7A113.5 113.5 0 0 1 425.5 51.2" stroke="#5a8fc3"/>
<path d="M425.4 51.2A113.5 113.5 0 0 1 426.4 50.7" stroke="#78a5cf"/>
<path d="M426.2 50.8A113.5 113.5 0 0 1 427.3 50.2" stroke="#2d70b2"/>
<path d="M427.1 50.3A113.5 113.5 0 0 1 428.1 49.8" stroke="#79a5d0"/>
<path d="M428.0 49.9A113.5 113.5 0 0 1 429.0 49.3" stroke="#e1ecf6"/>
<path d="M428.9 49.4A113.5 113.5 0 0 1 429.9 48.9" stroke="#f9fbfd"/>
<path d="M429.8 49.0A113.5 113.5 0 0 1 430.8 48.5" stroke="#e2ecf6"/>
<path d="M430.7 48.5A113.5 113.5 0 0 1 431.7 48.0" stroke="#ddeaf5"/>
<path d="M431.6 48.1A113.5 113.5 0 0 1 432.6 47.6" stroke="#c9dcee"/>
<path d="M432.5 47.7A113.5 113.5 0 0 1 433.5 47.2" stroke="#fcfdfe"/>
<path d="M433.4 47.3A113.5 113.5 0 0 1 434.3 46.9" stroke="#dfebf5"/>
<path d="M444.8 42.9A113.5 113.5 0 0 1 445.9 42.6" stroke="#2d70b2"/>
<path d="M445.7 42.6A113.5 113.5 0 0 1 446.8 42.3" stroke="#fef0f0"/>
<path d="M446.7 42.3A113.5 113.5 0 0 1 447.8 42.0" stroke="#8bb1d6"/>
<path d="M447.6 42.0A113.5 113.5 0 0 1 448.7 41.7" stroke="#f79090"/>
<path d="M448.6 41.7A113.5 113.5 0 0 1 449.7 41.4" stroke="#d1e2f1"/>
<path d="M449.5 41.5A113.5 113.5 0 0 1 450.7 41.2" stroke="#e0ebf6"/>
<path d="M450.5 41.2A113.5 113.5 0 0 1 451.6 40.9" stroke="#cee0f0"/>
<path d="M451.5 41.0A113.5 113.5 0 0 1 452.6 40.7" stroke="#c8dcee"/>
<path d="M452.4 40.7A113.5 113.5 0 0 1 453.5 40.5" stroke="#bad2e9"/>
<path d="M453.4 40.5A113.5 113.5 0 0 1 454.5 40.2" stroke="#d4e3f2"/>
<path d="M454.4 40.3A113.5 113.5 0 0 1 455.5 40.0" stroke="#b1cce5"/>
<path d="M455.3 40.0A113.5 113.5 0 0 1 456.5 39.8" stroke="#95b9da"/>
<path d="M456.3 39.8A113.5 113.5 0 0 1 457.4 39.6" stroke="#71a0cc"/>
<path d="M457.3 39.6A113.5 113.5 0 0 1 458.4 39.4" stroke="#e2ecf6"/>
<path d="M458.2 39.4A113.5 113.5 0 0 1 459.4 39.2" stroke="#fabdbd"/>
<path d="M459.2 39.3A113.5 113.5 0 0 1 460.4 39.1" stroke="#fcdada"/>
<path d="M460.2 39.1A113.5 113.5 0 0 1 461.3 38.9" stroke="#fcd0d0"/>
<path d="M461.2 38.9A113.5 113.5 0 0 1 462.3 38.7" stroke="#fbcaca"/>
<path d="M462.2 38.8A113.5 113.5 0 0 1 463.3 38.6" stroke="#fde8e8"/>
<path d="M463.1 38.6A113.5 113.5 0 0 1 464.3 38.5" stroke="#fef7f7"/>
<path d="M464.1 38.5A113.5 113.5 0 0 1 465.3 38.3" stroke="#fccfcf"/>
<path d="M465.1 38.3A113.5 113.5 0 0 1 466.3 38.2" stroke="#f9aeae"/>
<path d="M466.1 38.2A113.5 113.5 0 0 1 467.2 38.1" stroke="#fde2e2"/>
<path d="M467.1 38.1A113.5 113.5 0 0 1 468.2 38.0" stroke="#f2f6fb"/>
<path d="M468.1 38.0A113.5 113.5 0 0 1 469.2 37.9" stroke="#78a4cf"/>
<path d="M469.1 37.9A113.5 113.5 0 0 1 470.2 37.8" stroke="#c8dcee"/>
<path d="M470.1 37.8A113.5 113.5 0 0 1 471.2 37.7" stroke="#a4c3e0"/>
<path d="M471.0 37.7A113.5 113.5 0 0 1 472.2 37.6" stroke="#acc9e3"/>
<path d="M472.0 37.7A113.5 113.5 0 0 1 473.0 37.6" stroke="#3f7cb9"/>
</g>
<polyline points="483.3,48.4 484.0,48.9 484.6,48.5 485.2,48.6 485.9,48.6 486.5,48.7 487.1,48.9 487.8,48.9 488.4,49.0 489.1,48.6 489.7,48.8 490.3,49.0 491.0,48.8 491.6,49.0 492.2,48.9 492.9,49.2 493.4,49.6 494.1,49.6 494.7,49.8 495.3,50.1 495.9,50.0 496.6,49.9 497.2,50.1 497.9,49.9 498.5,50.2 499.1,50.2 499.7,50.5 500.4,50.4 501.0,50.6 501.6,50.8 502.3,50.7 502.9,51.0 503.5,51.1 504.1,51.4 504.7,51.5 505.4,51.4 505.9,51.8 506.6,51.9 507.2,52.0 507.8,52.1 508.5,52.1 509.1,52.5 509.6,53.0 510.1,53.4 510.7,53.5 511.4,53.6 512.0,53.7" fill="none" stroke="#f01818" stroke-width="1.05" stroke-linejoin="round"/>
<polyline points="483.0,57.2 483.6,57.5 484.2,57.6 484.7,57.6 485.3,57.8 485.9,57.8 486.5,57.9 487.1,57.8 487.6,57.8 488.2,58.0 488.8,58.2 489.4,58.2 489.9,58.4 490.5,58.2 491.0,58.7 491.6,58.7 492.2,58.9 492.8,58.8 493.4,58.7 493.9,59.0 494.5,59.2 495.0,59.2 495.7,59.0 496.2,59.2 496.7,59.6 497.3,59.6 497.9,59.8 498.4,60.1 499.0,60.0 499.6,59.9 500.2,60.1 500.7,60.4 501.3,60.5 501.9,60.5 502.4,60.8 502.9,61.0 503.5,61.2 504.1,61.1 504.6,61.5 505.2,61.3 505.8,61.6 506.4,61.6 506.8,62.1 507.4,62.2 507.9,62.5 508.4,62.7 509.0,62.9" fill="none" stroke="#2a9c38" stroke-width="1.05" stroke-linejoin="round"/>
<polyline points="482.7,66.6 483.2,66.7 483.7,66.8 484.2,66.9 484.8,66.3 485.3,66.5 485.8,66.5 486.4,66.5 486.9,66.3 487.4,66.7 487.9,67.1 488.6,65.6 488.9,67.1 489.5,66.7 490.0,67.2 490.5,67.1 491.0,67.6 491.5,67.5 492.1,67.3 492.5,67.9 493.1,67.8 493.6,67.6 494.3,66.7 494.6,67.9 495.2,68.0 495.7,68.1 496.2,68.3 496.7,68.4 497.2,68.7 497.8,68.2 498.4,68.2 498.8,68.7 499.2,69.1 499.7,69.2 500.2,69.4 500.8,69.1 501.3,69.4 501.9,69.0 502.3,69.8 502.8,69.7 503.5,69.4 503.9,69.9 504.4,70.1 504.7,70.6 505.4,70.2 505.8,70.6 506.2,71.1" fill="none" stroke="#9a4cbe" stroke-width="1.05" stroke-linejoin="round"/>
<polyline points="482.3,76.7 482.8,76.7 483.3,76.2 483.7,76.7 484.2,76.0 484.7,75.5 485.2,75.8 485.8,73.4 486.0,76.6 486.4,77.2 486.9,76.9 487.5,75.8 487.9,76.6 488.4,76.2 488.9,75.8 489.4,75.8 489.7,77.3 490.3,76.5 490.5,78.2 491.0,77.8 491.6,77.3 491.9,78.1 492.4,77.9 493.1,76.7 493.6,76.3 494.4,74.9 494.4,77.2 494.9,77.1 495.2,77.8 495.7,77.7 496.1,78.1 496.8,77.3 497.3,77.0 497.6,78.0 498.0,78.3 498.5,78.1 499.0,78.2 499.4,78.2 499.8,78.8 500.1,79.4 500.5,79.5 501.4,78.1 501.8,78.6 501.6,80.6 502.4,79.7 502.9,79.7 503.7,78.9" fill="none" stroke="#3a76c2" stroke-width="1.05" stroke-linejoin="round"/>
<polyline points="482.0,85.5 482.5,84.7 482.8,85.4 483.2,85.7 483.7,85.2 484.1,85.2 484.4,86.1 485.0,84.0 485.3,85.7 485.7,85.9 486.0,86.1 486.5,86.0 486.9,86.1 487.2,86.5 487.6,86.4 488.1,86.0 488.4,86.6 488.9,86.4 489.3,86.4 489.6,87.1 489.9,87.3 490.3,87.3 490.8,86.9 491.2,86.9 491.7,86.6 492.3,85.8 492.5,86.8 492.7,87.6 493.2,87.2 493.6,87.3 493.8,88.2 494.5,87.2 494.8,87.7 495.2,87.6 495.5,88.0 495.9,88.0 496.5,87.5 496.7,88.4 497.2,88.2 497.5,88.5 497.8,88.9 498.1,89.4 498.7,88.6 499.1,88.8 499.6,88.6 499.8,89.1 500.1,89.4" fill="none" stroke="#e11d8a" stroke-width="1.05" stroke-linejoin="round"/>
<polyline points="522.7,54.6 523.0,55.6 523.3,56.4 523.9,56.7 524.3,57.3 524.5,58.3 525.0,58.7 525.6,59.0 526.2,59.3 526.7,59.7 527.2,60.1 527.7,60.5 528.2,60.8 528.8,61.2 529.3,61.5 529.9,61.7 530.5,62.0 531.0,62.3 531.5,62.7 532.1,63.0 532.5,63.5 533.1,63.7 533.6,64.1 534.0,64.6 534.7,64.8 535.2,65.2 535.8,65.4 536.3,65.8 536.8,66.1 537.3,66.5 537.7,67.0 538.3,67.4 538.8,67.7 539.3,68.1 539.9,68.4 540.4,68.8 540.9,69.1 541.3,69.6 541.9,69.9 542.5,70.2 542.8,70.8 543.2,71.3 543.8,71.5 544.3,72.0 544.6,72.5 545.2,72.9 545.7,73.1" fill="none" stroke="#f01818" stroke-width="1.05" stroke-linejoin="round"/>
<polyline points="517.4,66.4 518.0,66.6 518.5,66.8 519.0,67.1 519.6,67.1 519.9,67.8 520.4,68.0 521.0,68.2 521.5,68.6 522.0,68.8 522.5,69.1 523.0,69.3 523.7,69.3 524.1,69.7 524.7,69.9 525.1,70.3 525.6,70.5 526.0,71.0 526.5,71.3 527.0,71.5 527.7,71.4 528.2,71.8 528.4,72.5 529.0,72.7 529.5,73.0 530.0,73.2 530.5,73.5 530.9,73.9 531.5,74.0 531.9,74.4 532.3,74.8 532.8,75.1 533.3,75.4 533.8,75.7 534.3,76.0 534.7,76.5 535.1,76.9 535.5,77.3 535.9,77.6 536.5,77.9 537.0,78.2 537.5,78.4 537.8,78.9 538.4,79.2 538.6,79.8 539.2,79.9 539.6,80.4" fill="none" stroke="#2a9c38" stroke-width="1.05" stroke-linejoin="round"/>
<polyline points="514.6,72.8 515.0,73.2 515.5,73.4 515.8,74.0 516.5,73.7 516.6,74.6 517.5,74.0 518.0,74.3 518.2,74.9 518.7,75.1 518.8,76.1 519.2,76.4 519.7,76.7 520.3,76.7 521.2,76.0 521.5,76.7 521.7,77.4 522.4,77.2 522.3,78.4 523.1,78.0 523.6,78.2 523.5,79.3 524.5,78.8 524.7,79.4 525.4,79.3 525.4,80.3 525.7,80.8 526.0,81.3 526.6,81.3 527.0,81.6 527.8,81.4 528.1,81.9 528.8,81.8 529.1,82.3 529.5,82.6 529.7,83.2 530.2,83.5 530.4,84.0 530.7,84.4 531.0,85.0 531.9,84.7 532.5,84.7 532.5,85.6 532.9,85.8 533.0,86.5 533.9,86.3 534.5,86.4" fill="none" stroke="#9a4cbe" stroke-width="1.05" stroke-linejoin="round"/>
<polyline points="511.1,80.6 510.9,82.1 512.3,80.3 511.9,82.1 512.6,81.8 513.0,82.1 513.1,83.0 513.9,82.5 514.4,82.5 514.7,82.9 515.2,82.9 515.6,83.2 514.9,85.6 515.9,84.6 516.5,84.6 516.3,85.9 516.8,85.9 517.6,85.4 517.8,86.0 518.6,85.6 519.0,85.9 518.8,87.1 519.8,86.3 519.7,87.4 520.4,87.1 521.4,86.5 521.7,86.9 522.0,87.3 521.4,89.1 522.9,87.7 522.9,88.5 523.1,89.0 523.8,88.8 524.0,89.3 524.2,89.9 524.6,90.1 524.6,90.9 525.5,90.5 526.4,90.0 526.1,91.2 525.9,92.2 527.3,91.3 527.9,91.3 527.4,92.6 528.7,91.7 528.6,92.6 529.2,92.6" fill="none" stroke="#3a76c2" stroke-width="1.05" stroke-linejoin="round"/>
<polyline points="506.0,92.0 506.9,91.0 507.4,90.9 507.7,91.2 507.9,91.8 508.1,92.3 508.6,92.2 509.0,92.1 509.5,92.1 510.1,92.0 510.8,91.4 510.6,92.6 510.7,93.3 512.1,91.6 511.3,94.0 511.7,94.0 512.5,93.4 512.7,93.9 513.1,94.0 513.3,94.4 513.6,94.7 513.7,95.4 514.4,95.0 514.6,95.5 515.2,95.2 515.3,95.9 515.5,96.4 516.3,95.8 516.4,96.5 516.3,97.3 516.6,97.6 517.4,97.1 518.5,96.3 517.6,98.3 518.3,98.0 518.2,98.8 518.7,98.7 519.4,98.5 519.6,99.0 520.1,98.9 520.4,99.2 520.0,100.3 521.1,99.6 521.3,100.1 521.3,100.6 521.5,101.0 521.9,101.2" fill="none" stroke="#e11d8a" stroke-width="1.05" stroke-linejoin="round"/>
<polyline points="554.3,78.9 554.4,79.7 554.7,80.3 554.9,81.0 555.1,81.6 555.6,82.0 556.0,82.5 556.3,83.1 556.7,83.6 557.1,84.1 557.5,84.6 557.8,85.1 558.2,85.6 558.5,86.1 558.9,86.6 559.1,87.2 559.7,87.6 560.1,88.1 560.5,88.6 560.9,89.1 561.4,89.5 561.5,90.1 562.0,90.6 562.3,91.2 562.7,91.6 563.0,92.1 563.5,92.6 563.7,93.2 564.1,93.7 564.8,94.0 564.9,94.7 565.2,95.2 565.5,95.8 565.8,96.4 566.1,96.9 566.3,97.5 566.8,97.9 567.2,98.4 567.6,98.9 567.8,99.5 568.1,100.0 568.3,100.7" fill="none" stroke="#f01818" stroke-width="1.05" stroke-linejoin="round"/>
<polyline points="549.1,83.9 549.1,84.7 549.1,85.5 549.2,86.3 549.0,87.2 549.0,88.0 549.4,88.4 549.6,89.0 549.9,89.6 550.3,90.0 550.6,90.4 550.9,90.9 551.2,91.4 551.5,91.9 551.8,92.4 551.8,93.1 552.2,93.5 552.7,93.9 553.0,94.4 553.4,94.8 553.8,95.2 554.0,95.7 554.5,96.1 554.8,96.5 554.9,97.2 555.3,97.6 555.8,98.0 556.0,98.5 556.4,98.9 556.6,99.5 556.8,100.0 557.4,100.3 557.9,100.7 558.1,101.2 558.4,101.7 558.5,102.3 558.8,102.8 558.9,103.4 559.2,103.9 559.5,104.3 559.9,104.8 560.1,105.3" fill="none" stroke="#2a9c38" stroke-width="1.05" stroke-linejoin="round"/>
<polyline points="540.9,91.9 540.9,92.6 541.7,92.5 542.0,92.9 542.4,93.2 542.4,94.0 542.3,94.8 543.0,94.8 543.5,95.1 542.9,96.3 543.6,96.4 543.8,96.9 544.3,97.1 544.5,97.7 544.8,98.1 545.1,98.5 545.7,98.7 545.4,99.6 545.9,99.9 546.1,100.4 546.5,100.7 546.5,101.3 547.2,101.5 547.5,101.8 547.9,102.2 548.1,102.7 548.6,103.0 548.9,103.4 549.1,103.8 550.0,103.9 549.6,104.8 551.3,104.3 549.6,106.0 550.1,106.3 550.5,106.7 551.5,106.6 551.4,107.3 551.2,108.0 551.7,108.3 552.7,108.3 553.0,108.7 552.8,109.5" fill="none" stroke="#9a4cbe" stroke-width="1.05" stroke-linejoin="round"/>
<polyline points="534.8,97.7 534.3,98.9 533.9,99.8 534.1,100.3 537.0,98.3 535.0,100.7 535.8,100.6 536.4,100.7 536.4,101.3 538.1,100.4 536.9,102.1 538.2,101.6 539.0,101.6 537.9,103.1 537.8,103.8 540.1,102.5 539.0,104.0 538.3,105.1 539.4,104.9 538.6,106.1 539.0,106.3 540.5,105.7 540.5,106.4 540.2,107.1 541.0,107.1 542.2,106.8 540.7,108.4 541.5,108.5 541.6,108.9 542.0,109.3 542.9,109.2 543.0,109.7 544.0,109.6 543.6,110.4 543.1,111.3 545.0,110.6 544.6,111.4 544.5,112.0 543.6,113.1 544.8,112.9 544.5,113.6 544.7,114.0" fill="none" stroke="#3a76c2" stroke-width="1.05" stroke-linejoin="round"/>
<polyline points="526.4,105.8 526.9,105.9 526.7,106.6 527.1,106.8 527.9,106.6 528.1,106.9 528.4,107.2 527.9,108.2 528.7,108.0 529.1,108.2 529.5,108.4 529.2,109.2 529.2,109.8 529.8,109.7 529.9,110.1 530.3,110.3 530.5,110.7 531.0,110.9 531.0,111.3 531.5,111.5 531.9,111.7 532.0,112.1 531.9,112.6 532.3,112.9 532.3,113.3 532.3,113.8 532.9,113.9 533.5,114.0 533.1,114.7 533.6,114.9 533.4,115.4 533.8,115.7 533.9,116.1 534.6,116.1 535.0,116.3 534.7,117.0 534.9,117.3 535.1,117.6 535.7,117.8 535.8,118.2 536.1,118.5 536.2,118.9" fill="none" stroke="#e11d8a" stroke-width="1.05" stroke-linejoin="round"/>
<polyline points="575.4,108.6 575.3,109.3 575.3,110.0 575.0,110.8 575.1,111.4 575.4,112.0 575.6,112.6 575.8,113.2 576.1,113.8 575.9,114.5 576.1,115.1 576.2,115.7 576.2,116.4 576.5,117.0 576.8,117.5 576.9,118.2 576.9,118.8 577.2,119.4 577.7,119.9 577.8,120.5 577.7,121.2 577.9,121.8 578.1,122.4 578.2,123.0 578.6,123.5 579.0,124.1 578.9,124.8 579.2,125.3 579.5,125.9 579.4,126.6 579.5,127.2 579.6,127.8 579.7,128.4 579.9,129.0 580.2,129.6 580.2,130.3 580.3,130.9 580.2,131.5 580.5,132.1" fill="none" stroke="#f01818" stroke-width="1.05" stroke-linejoin="round"/>
<polyline points="566.2,112.6 566.2,113.2 565.9,114.0 565.8,114.7 565.9,115.2 566.1,115.8 566.2,116.3 566.4,116.9 566.6,117.4 566.4,118.1 566.7,118.6 566.8,119.2 567.2,119.6 567.4,120.1 567.3,120.8 567.7,121.2 567.8,121.8 567.9,122.4 568.2,122.9 568.2,123.5 568.3,124.0 568.6,124.5 568.7,125.1 568.9,125.6 568.9,126.2 569.1,126.8 569.2,127.3 569.4,127.9 569.5,128.4 569.5,129.0 569.8,129.5 569.8,130.1 570.0,130.6 570.1,131.2 570.5,131.7 570.7,132.2 570.8,132.8 571.1,133.3 571.2,133.9" fill="none" stroke="#2a9c38" stroke-width="1.05" stroke-linejoin="round"/>
<polyline points="557.6,116.4 557.8,116.9 557.2,117.7 559.1,117.5 557.5,118.7 558.5,118.9 557.6,119.8 558.0,120.2 558.1,120.7 557.8,121.3 558.9,121.5 558.5,122.2 558.6,122.7 558.6,123.2 558.6,123.8 558.8,124.3 559.1,124.7 558.9,125.3 559.2,125.7 559.4,126.2 560.0,126.6 560.6,126.9 560.4,127.5 560.0,128.2 559.6,128.8 560.0,129.2 560.8,129.5 560.9,130.0 560.4,130.7 560.9,131.1 560.7,131.7 561.4,132.0 561.8,132.5 561.0,133.2 562.5,133.4 561.5,134.1 562.0,134.5 561.6,135.1 562.5,135.5" fill="none" stroke="#9a4cbe" stroke-width="1.05" stroke-linejoin="round"/>
<polyline points="549.2,120.1 551.0,119.8 550.7,120.5 550.5,121.1 550.2,121.7 549.7,122.4 551.2,122.3 549.2,123.6 549.5,124.0 551.4,123.8 551.2,124.3 550.4,125.1 551.9,125.1 551.2,125.8 551.8,126.1 552.0,126.5 552.1,127.0 551.8,127.6 551.4,128.2 550.5,129.0 551.3,129.2 553.4,129.1 554.2,129.3 553.6,130.0 552.7,130.7 553.2,131.0 552.9,131.6 553.2,132.0 552.8,132.6 552.9,133.0 553.4,133.4 552.8,134.0 553.5,134.3 553.1,134.9 554.6,135.0 554.3,135.6 554.2,136.1 552.9,136.8 553.6,137.1" fill="none" stroke="#3a76c2" stroke-width="1.05" stroke-linejoin="round"/>
<polyline points="541.4,123.6 539.8,124.7 539.6,125.2 540.0,125.5 540.1,125.9 539.5,126.6 540.3,126.7 539.8,127.3 541.0,127.3 540.8,127.8 541.0,128.1 540.9,128.6 540.9,129.0 541.2,129.3 541.3,129.7 541.6,130.0 540.6,130.8 541.3,131.0 541.8,131.2 541.3,131.8 542.0,132.0 541.8,132.5 542.6,132.7 541.9,133.3 541.6,133.8 541.4,134.2 541.9,134.5 542.7,134.7 542.2,135.3 542.5,135.6 543.3,135.8 542.7,136.3 543.8,136.5 543.4,137.0 543.1,137.5 542.4,138.0 543.0,138.3 542.8,138.7 543.4,139.0" fill="none" stroke="#e11d8a" stroke-width="1.05" stroke-linejoin="round"/>
<polyline points="583.7,142.0 583.6,142.7 583.3,143.3 583.3,144.0 583.2,144.6 583.0,145.3 582.9,145.9 582.8,146.5 582.7,147.2 582.4,147.8 582.7,148.5 582.9,149.1 582.7,149.7 582.7,150.4 582.6,151.0 582.8,151.6 582.7,152.3 582.7,152.9 582.6,153.5 582.3,154.1 582.5,154.8 582.5,155.4 582.9,156.1 582.5,156.7 582.3,157.3 582.2,157.9 582.1,158.6 581.9,159.2 581.8,159.8 581.7,160.4 582.2,161.1 581.8,161.7 581.7,162.3 581.8,163.0 581.8,163.6 581.4,164.2 581.2,164.8 581.1,165.4 581.3,166.1 581.1,166.7 581.0,167.3 581.0,168.0 580.7,168.6 580.7,169.2 580.7,169.8 580.8,170.5 580.7,171.1 580.4,171.7 580.3,172.3 580.0,172.9 579.7,173.5 579.4,174.1 579.3,174.7 579.4,175.4 579.5,176.1 579.2,176.6 579.1,177.3 579.1,177.9 578.7,178.5 578.4,179.0 578.2,179.6 578.0,180.2 577.9,180.9 577.7,181.5 577.3,182.0 577.2,182.6 577.2,183.3 576.7,183.8" fill="none" stroke="#f01818" stroke-width="1.05" stroke-linejoin="round"/>
<polyline points="572.2,143.0 572.3,143.6 572.5,144.1 572.3,144.7 572.5,145.3 572.3,145.8 572.4,146.4 572.7,147.0 572.6,147.5 572.7,148.1 572.5,148.7 572.4,149.3 572.6,149.8 572.8,150.4 572.4,151.0 572.4,151.5 572.1,152.1 572.0,152.7 572.0,153.3 572.2,153.8 572.5,154.4 572.3,155.0 572.4,155.5 572.1,156.1 572.1,156.7 571.9,157.2 572.0,157.8 571.8,158.4 571.8,158.9 572.1,159.5 571.8,160.1 571.6,160.6 571.5,161.2 571.8,161.8 571.9,162.4 571.7,162.9 571.7,163.5 571.7,164.1 571.9,164.7 571.6,165.2 571.6,165.8 571.2,166.3 571.0,166.9 570.9,167.4 571.0,168.0 571.0,168.6 571.0,169.2 570.8,169.7 570.6,170.3 570.6,170.9 569.9,171.3 569.8,171.9 569.8,172.4 569.8,173.0 569.8,173.6 569.6,174.1 569.4,174.7 569.4,175.3 569.2,175.8 568.9,176.3 569.0,177.0 568.7,177.5 568.8,178.1 568.2,178.5 568.1,179.1 567.7,179.5 567.8,180.2 567.7,180.7" fill="none" stroke="#2a9c38" stroke-width="1.05" stroke-linejoin="round"/>
<polyline points="563.6,143.7 564.3,144.2 563.1,144.8 562.4,145.4 562.4,145.9 562.5,146.4 563.4,146.8 563.4,147.4 564.2,147.9 565.1,148.3 564.0,148.9 564.1,149.4 563.9,149.9 563.7,150.5 563.9,151.0 564.1,151.5 564.3,152.0 563.6,152.5 563.5,153.0 564.1,153.6 563.3,154.1 563.2,154.6 563.7,155.1 562.9,155.6 563.7,156.1 563.6,156.7 564.0,157.2 563.5,157.7 563.8,158.2 563.9,158.8 563.1,159.2 562.9,159.7 563.1,160.2 562.6,160.7 562.3,161.2 562.4,161.7 563.1,162.3 562.4,162.8 562.5,163.3 562.9,163.9 562.1,164.3 562.1,164.8 562.0,165.3 561.8,165.8 562.4,166.4 561.7,166.8 561.8,167.4 561.9,167.9 562.7,168.6 561.9,168.9 562.1,169.5 562.0,170.0 562.4,170.7 561.4,171.0 560.8,171.3 561.2,172.0 560.9,172.4 561.3,173.1 560.7,173.5 560.8,174.0 560.7,174.5 561.3,175.2 560.9,175.7 560.6,176.1 560.1,176.5 559.5,176.9 559.0,177.2 559.0,177.8" fill="none" stroke="#9a4cbe" stroke-width="1.05" stroke-linejoin="round"/>
<polyline points="555.5,144.4 555.8,144.9 555.9,145.3 555.2,145.8 555.7,146.3 555.6,146.8 555.0,147.3 555.0,147.7 555.7,148.2 555.9,148.6 555.4,149.1 554.9,149.6 556.9,150.0 555.5,150.5 555.3,151.0 556.3,151.4 555.1,151.9 555.9,152.4 555.1,152.8 555.2,153.3 555.4,153.8 554.7,154.2 553.7,154.6 554.7,155.1 555.3,155.6 555.4,156.1 555.0,156.5 554.7,157.0 556.1,157.6 554.6,157.9 556.1,158.5 555.3,158.9 555.7,159.4 554.9,159.8 555.4,160.3 555.2,160.8 555.7,161.3 555.3,161.7 555.7,162.3 554.6,162.6 554.4,163.0 554.4,163.5 554.1,163.9 555.0,164.5 554.0,164.8 554.0,165.3 553.1,165.6 552.8,166.0 555.1,167.0 554.0,167.2 554.6,167.8 554.1,168.2 553.9,168.6 552.7,168.8 553.6,169.5 553.2,169.9 553.3,170.4 553.5,171.0 553.4,171.4 553.0,171.8 551.6,171.9 552.5,172.6 552.8,173.2 552.2,173.5 552.8,174.2 550.2,173.8 552.3,175.0 553.4,175.9" fill="none" stroke="#3a76c2" stroke-width="1.05" stroke-linejoin="round"/>
<polyline points="544.2,145.4 544.1,145.8 544.4,146.2 545.0,146.5 544.8,146.9 544.1,147.4 544.2,147.8 544.0,148.2 544.0,148.6 544.0,149.0 547.2,149.3 545.4,149.7 544.7,150.2 544.1,150.6 543.9,151.0 545.0,151.4 544.0,151.7 544.5,152.2 544.9,152.6 544.8,153.0 544.3,153.3 544.2,153.7 544.3,154.1 544.2,154.5 543.8,154.9 543.7,155.3 543.5,155.7 544.0,156.1 544.0,156.5 544.2,156.9 544.1,157.3 543.4,157.6 543.5,158.1 543.4,158.4 543.9,158.9 544.3,159.3 544.5,159.8 543.7,160.1 543.3,160.4 543.4,160.8 543.4,161.2 543.4,161.6 543.0,162.0 542.8,162.3 543.0,162.8 543.5,163.3 543.3,163.7 545.1,164.4 543.1,164.4 543.2,164.8 542.5,165.1 542.4,165.5 543.9,166.2 542.2,166.3 541.7,166.5 542.4,167.1 542.1,167.4 542.3,167.9 541.7,168.2 541.6,168.5 541.5,168.9 541.0,169.2 541.5,169.7 540.8,169.9 541.1,170.5 540.9,170.8 540.7,171.2 540.7,171.6" fill="none" stroke="#e11d8a" stroke-width="1.05" stroke-linejoin="round"/>
<polyline points="574.6,194.0 574.1,194.4 573.6,194.9 573.2,195.4 573.1,196.1 572.5,196.5 572.3,197.1 571.9,197.6 571.5,198.1 571.2,198.6 570.6,199.0 570.4,199.7 570.1,200.2 569.8,200.8 569.4,201.3 569.1,201.9 568.7,202.4 568.4,202.9 568.1,203.4 567.6,203.9 567.3,204.4 567.1,205.1 566.7,205.5 566.5,206.2 566.1,206.7 565.9,207.3 565.2,207.6 564.9,208.2 564.4,208.6 564.0,209.1 563.8,209.7 563.3,210.1 563.1,210.7 562.7,211.2 562.3,211.7 562.0,212.3 561.7,212.8 561.4,213.4 561.0,213.9 560.6,214.4 560.0,214.7 559.6,215.2 559.4,215.8 559.0,216.3 558.7,216.9 558.1,217.2 557.5,217.5 557.0,217.9 556.8,218.5 556.5,219.1 556.2,219.8 555.7,220.2 555.4,220.7 554.8,221.0 554.3,221.4 553.6,221.6 553.2,222.1 552.9,222.7 552.6,223.2 552.2,223.8 551.6,224.0 551.2,224.5 550.9,225.1" fill="none" stroke="#f01818" stroke-width="1.05" stroke-linejoin="round"/>
<polyline points="566.6,190.3 566.0,190.7 565.4,191.0 565.0,191.5 564.7,192.0 564.0,192.3 563.5,192.7 563.0,193.1 562.8,193.7 562.5,194.1 562.0,194.5 561.7,195.0 561.2,195.4 561.1,196.0 560.6,196.4 560.2,196.8 560.1,197.4 559.7,197.8 559.4,198.3 559.3,198.9 559.0,199.4 558.6,199.8 558.2,200.2 557.9,200.7 557.6,201.2 557.2,201.6 557.0,202.1 556.7,202.6 556.5,203.2 556.1,203.6 555.6,203.9 555.3,204.4 555.1,205.0 554.6,205.3 554.4,205.9 554.1,206.4 553.6,206.7 553.5,207.3 552.9,207.6 552.5,208.0 552.0,208.3 551.7,208.8 551.5,209.4 551.3,209.9 550.9,210.3 550.5,210.8 550.0,211.1 549.6,211.5 549.2,211.9 549.0,212.5 548.5,212.8 548.0,213.1 547.6,213.5 547.3,214.0 547.1,214.6 546.6,214.9 546.1,215.3 545.9,215.8 545.4,216.1 545.0,216.5 544.6,217.0 544.4,217.6 543.9,217.9" fill="none" stroke="#2a9c38" stroke-width="1.05" stroke-linejoin="round"/>
<polyline points="558.2,186.5 557.9,187.0 557.6,187.4 557.6,188.0 556.4,188.0 556.3,188.5 555.6,188.7 555.4,189.3 555.7,190.0 554.4,189.9 554.2,190.4 554.2,191.0 553.9,191.4 553.8,191.9 553.0,192.1 553.0,192.7 553.0,193.3 552.6,193.6 552.7,194.3 552.2,194.6 551.4,194.7 551.8,195.6 551.9,196.2 552.3,197.1 550.6,196.7 550.2,197.0 551.3,198.4 550.3,198.3 550.0,198.8 549.6,199.1 549.0,199.3 548.0,199.2 548.2,200.1 548.0,200.5 547.9,201.1 547.7,201.6 546.8,201.6 546.5,202.0 545.8,202.1 545.4,202.5 545.8,203.4 545.3,203.7 545.2,204.2 544.7,204.5 544.2,204.8 543.9,205.2 543.5,205.5 543.2,206.0 543.1,206.5 542.6,206.8 542.2,207.1 541.9,207.5 541.7,208.1 540.8,208.0 540.9,208.8 540.7,209.3 540.6,209.9 539.6,209.6 539.4,210.1 539.2,210.7 538.4,210.6 538.1,211.1 537.9,211.6" fill="none" stroke="#9a4cbe" stroke-width="1.05" stroke-linejoin="round"/>
<polyline points="548.4,182.1 547.8,182.3 548.9,183.3 548.2,183.5 548.7,184.3 547.8,184.3 547.1,184.5 549.0,186.0 547.7,185.9 546.3,185.6 546.0,186.1 546.3,186.7 547.5,187.9 545.1,187.1 545.2,187.7 546.3,188.8 544.4,188.3 545.3,189.4 544.8,189.6 543.6,189.4 543.9,190.2 543.5,190.4 544.6,191.7 543.8,191.7 543.1,191.8 543.5,192.6 541.1,191.6 541.5,192.4 543.8,194.5 542.0,193.9 542.6,194.8 541.7,194.8 541.2,195.0 540.5,195.1 540.2,195.4 539.7,195.6 539.5,196.1 541.5,198.2 540.0,197.6 539.0,197.4 539.0,198.0 538.2,197.9 537.4,197.9 537.9,198.9 537.0,198.8 537.0,199.4 537.8,200.6 536.3,200.0 537.2,201.3 536.4,201.3 536.4,201.9 535.4,201.7 535.6,202.5 536.2,203.7 535.0,203.2 534.6,203.4 534.7,204.2 533.8,203.9 533.1,203.9 532.0,203.5 532.3,204.4 532.8,205.6 532.2,205.7" fill="none" stroke="#3a76c2" stroke-width="1.05" stroke-linejoin="round"/>
<polyline points="538.9,177.8 538.5,178.0 538.2,178.3 538.5,178.9 538.0,179.1 537.9,179.5 537.8,179.9 538.2,180.5 537.6,180.7 537.5,181.0 537.4,181.4 537.3,181.9 536.3,181.8 535.7,181.9 535.5,182.2 536.2,183.1 535.9,183.4 536.2,184.0 535.9,184.3 536.0,184.8 534.8,184.6 535.3,185.4 534.3,185.2 533.9,185.4 534.2,186.1 533.8,186.3 533.0,186.2 533.0,186.7 532.9,187.1 533.0,187.7 533.0,188.2 532.2,188.1 532.6,188.8 532.1,189.0 532.2,189.5 531.8,189.7 531.5,190.0 530.8,190.0 530.4,190.2 531.0,191.1 531.0,191.7 530.1,191.5 530.3,192.1 529.9,192.3 529.4,192.4 528.7,192.3 528.5,192.7 528.7,193.3 527.8,193.1 528.5,194.3 527.9,194.3 527.8,194.7 527.5,195.0 527.1,195.2 526.6,195.2 526.6,195.8 526.3,196.0 526.8,197.1 526.0,196.9 525.1,196.5 525.2,197.2 525.0,197.6 525.3,198.5" fill="none" stroke="#e11d8a" stroke-width="1.05" stroke-linejoin="round"/>
<polyline points="542.6,231.0 542.1,231.4 541.9,232.1 541.2,232.3 540.6,232.5 540.1,232.9 539.6,233.3 539.1,233.7 538.9,234.4 538.1,234.3 537.5,234.7 537.0,235.0 536.7,235.6 536.1,235.9 535.6,236.2 535.1,236.6 534.6,237.0 534.0,237.3 533.6,237.8 533.0,237.9 532.4,238.2 531.8,238.4 531.3,238.7 530.9,239.3 530.3,239.5 529.8,239.9 529.2,240.2 528.7,240.5 528.0,240.5 527.5,240.9 527.1,241.4 526.6,241.9 525.9,241.8 525.4,242.2 524.7,242.3 524.3,242.8 523.6,242.8 523.0,243.0 522.4,243.3 522.1,243.9 521.4,244.0 520.8,244.2 520.3,244.6 519.7,244.7 519.2,245.1 518.5,245.1 518.0,245.5 517.5,246.0 516.8,246.0 516.2,246.1 515.6,246.3 515.0,246.4 514.5,247.0 513.8,246.9 513.4,247.4 512.9,247.9 512.2,248.0 511.6,248.0 510.9,247.9 510.3,248.2" fill="none" stroke="#f01818" stroke-width="1.05" stroke-linejoin="round"/>
<polyline points="538.1,225.4 537.4,225.3 536.8,225.5 536.2,225.7 535.6,225.9 535.2,226.3 534.7,226.5 534.2,226.8 533.7,227.2 533.1,227.2 532.6,227.4 532.2,228.0 531.6,228.1 531.1,228.3 530.7,228.7 530.1,228.9 529.6,229.1 529.3,229.7 528.5,229.5 528.0,229.8 527.6,230.2 527.2,230.6 526.6,230.8 526.1,231.0 525.5,231.1 525.1,231.6 524.6,231.9 524.3,232.4 523.7,232.4 523.1,232.7 522.7,233.0 522.1,233.1 521.7,233.6 521.2,233.8 520.6,234.0 520.2,234.4 519.6,234.5 519.1,234.8 518.6,235.1 518.1,235.3 517.5,235.4 517.0,235.6 516.5,235.9 516.0,236.2 515.4,236.2 514.9,236.3 514.4,236.8 513.9,236.9 513.4,237.1 512.8,237.3 512.3,237.6 511.8,237.8 511.3,238.1 510.7,238.0 510.1,238.2 509.6,238.4 509.1,238.6 508.6,239.0 508.1,239.3 507.6,239.4" fill="none" stroke="#2a9c38" stroke-width="1.05" stroke-linejoin="round"/>
<polyline points="532.1,217.7 531.1,217.2 531.7,218.8 530.8,218.5 530.2,218.5 529.7,218.8 529.0,218.6 528.8,219.3 528.2,219.3 527.4,219.1 527.9,220.7 526.9,220.2 526.8,220.9 526.6,221.5 525.6,221.0 525.4,221.5 524.9,221.8 524.4,222.0 524.3,222.8 523.0,221.7 523.0,222.6 522.5,222.8 522.2,223.3 521.8,223.6 521.5,224.0 520.6,223.5 520.5,224.5 520.2,225.0 519.6,224.9 518.8,224.5 518.7,225.5 518.2,225.5 517.4,225.1 517.2,225.9 516.7,226.1 516.5,226.9 516.3,227.5 515.1,226.1 514.9,226.9 514.1,226.6 513.6,226.5 513.5,227.7 513.0,227.7 512.5,228.0 512.1,228.3 511.8,228.8 511.2,228.8 510.4,228.1 509.9,228.2 509.5,228.7 509.0,228.9 508.7,229.3 508.0,229.0 507.8,230.0 507.6,230.8 506.6,229.6 506.5,230.8 505.9,230.6 505.3,230.5 504.8,230.6" fill="none" stroke="#9a4cbe" stroke-width="1.05" stroke-linejoin="round"/>
<polyline points="527.7,212.1 527.0,211.9 526.3,211.8 526.4,212.7 525.5,212.2 525.0,212.4 524.8,213.0 524.4,213.2 522.9,211.9 524.3,214.6 522.8,213.3 522.3,213.4 521.8,213.4 521.4,213.7 521.6,214.9 520.9,214.6 519.7,213.6 519.3,213.8 520.6,216.8 519.1,215.3 518.8,215.6 518.1,215.4 518.0,216.1 517.4,216.1 517.3,216.8 516.8,216.7 516.9,217.9 516.5,218.1 516.0,218.3 515.2,217.7 514.1,216.6 513.5,216.4 514.4,219.2 513.8,219.0 513.0,218.5 512.4,218.3 512.5,219.5 512.0,219.7 511.8,220.3 510.5,218.6 510.5,219.8 510.5,220.9 509.9,220.6 509.8,221.6 508.9,220.5 508.4,220.7 507.9,220.5 507.4,220.6 507.1,221.2 506.5,220.8 506.2,221.3 506.0,222.0 505.2,221.2 504.9,221.8 503.9,220.4 504.0,222.0 503.4,221.7 503.2,222.6 502.9,223.1 502.3,222.8" fill="none" stroke="#3a76c2" stroke-width="1.05" stroke-linejoin="round"/>
<polyline points="519.2,201.3 519.4,202.1 519.3,202.6 518.8,202.6 518.6,203.0 517.8,202.7 517.6,203.0 517.0,202.9 516.9,203.3 517.2,204.4 516.2,203.8 515.8,203.9 515.7,204.4 515.6,204.9 515.2,205.1 514.8,205.2 514.3,205.1 514.0,205.4 513.4,205.2 513.4,205.9 512.8,205.6 512.5,206.0 512.1,206.1 511.9,206.6 511.6,206.7 511.4,207.3 510.8,206.9 510.7,207.5 510.3,207.6 509.7,207.4 509.8,208.5 509.0,207.7 508.8,208.1 508.4,208.3 508.1,208.6 507.7,208.7 507.3,208.6 506.9,208.8 506.6,209.1 506.7,210.2 505.8,209.3 505.9,210.4 505.5,210.4 505.9,212.3 504.8,210.7 504.1,210.3 504.3,211.6 503.5,210.7 503.0,210.6 502.9,211.3 502.4,211.3 501.9,211.1 501.5,211.1 501.4,212.0 501.2,212.6 500.6,212.1 500.0,211.6 499.9,212.6 499.5,212.5 498.9,211.9" fill="none" stroke="#e11d8a" stroke-width="1.05" stroke-linejoin="round"/>
<polyline points="500.7,251.3 500.0,251.1 499.4,251.5 498.9,252.0 498.2,251.9 497.6,251.9 497.0,252.0 496.4,252.2 495.7,252.0 495.1,252.1 494.5,252.6 493.9,252.5 493.2,252.4 492.6,252.6 492.0,252.7 491.4,252.8 490.7,252.6 490.1,252.8 489.4,252.5 488.8,252.9 488.2,253.2 487.6,253.4 487.0,253.1 486.3,253.2 485.7,253.3 485.1,253.4 484.5,253.9 483.8,253.5 483.2,253.6 482.6,253.1 481.9,253.1 481.3,253.4 480.7,253.5 480.1,253.7 479.4,253.5 478.8,253.5 478.2,253.4 477.5,253.5 476.9,253.4 476.3,253.2 475.7,253.1 475.0,253.1 474.4,253.2 473.8,253.1 473.1,253.3 472.5,253.3 471.9,252.9 471.3,252.6 470.6,252.9 470.0,252.8 469.3,253.3 468.7,252.9 468.1,252.7 467.5,252.5 466.8,252.8 466.2,252.8 465.6,252.6 465.0,252.3 464.4,252.4 463.8,252.1 463.1,252.1" fill="none" stroke="#f01818" stroke-width="1.05" stroke-linejoin="round"/>
<polyline points="498.9,242.6 498.3,242.8 497.8,242.9 497.1,242.8 496.6,242.7 496.0,243.0 495.4,243.0 494.9,243.1 494.3,242.9 493.7,242.9 493.1,242.7 492.5,242.9 492.0,243.2 491.4,243.1 490.8,243.0 490.2,242.9 489.7,243.0 489.1,243.1 488.6,243.4 488.0,243.4 487.4,243.5 486.9,243.6 486.3,243.5 485.7,243.6 485.1,243.6 484.6,243.6 484.0,243.6 483.4,243.7 482.9,243.8 482.3,243.9 481.7,243.7 481.2,243.8 480.6,243.7 480.0,243.5 479.5,243.8 478.9,243.8 478.3,243.5 477.7,243.7 477.2,243.5 476.6,243.3 476.0,243.4 475.5,243.5 474.9,243.5 474.3,243.5 473.8,243.6 473.2,243.8 472.6,243.5 472.0,243.5 471.5,243.4 470.9,243.4 470.4,242.8 469.8,243.1 469.2,243.3 468.7,242.8 468.1,242.9 467.5,243.0 466.9,242.9 466.4,242.7 465.8,242.7 465.3,242.6 464.7,242.7" fill="none" stroke="#2a9c38" stroke-width="1.05" stroke-linejoin="round"/>
<polyline points="496.7,232.0 496.4,233.3 495.8,233.0 495.2,232.7 494.7,232.7 494.3,233.4 493.9,233.8 493.3,233.7 492.8,233.5 492.3,233.6 491.7,233.2 491.4,234.8 490.7,233.8 490.3,234.4 489.6,233.2 489.2,234.1 488.7,234.2 488.2,234.1 487.9,236.2 487.1,234.0 486.7,234.3 486.1,234.2 485.6,234.0 485.1,234.5 484.6,234.5 484.1,234.5 483.6,234.4 483.0,233.9 482.6,234.7 482.0,234.2 481.5,234.3 481.0,234.3 480.5,234.0 480.0,234.4 479.5,234.4 479.0,234.7 478.5,234.4 477.9,235.2 477.4,235.9 476.9,234.7 476.4,235.1 475.9,234.4 475.4,233.7 474.8,236.0 474.4,233.6 473.9,233.6 473.4,233.5 472.7,235.5 472.3,233.9 471.8,234.3 471.3,233.6 470.8,233.5 470.3,234.0 469.8,233.6 469.2,234.0 468.8,233.3 468.3,233.5 467.8,233.3 467.2,233.6 466.7,233.5 466.1,233.8" fill="none" stroke="#9a4cbe" stroke-width="1.05" stroke-linejoin="round"/>
<polyline points="494.9,223.8 494.7,225.1 494.5,226.4 494.1,226.9 493.5,226.1 493.3,227.5 492.5,225.8 492.2,226.8 491.7,226.8 491.1,225.6 490.6,225.6 490.2,226.0 489.7,225.8 489.2,225.5 488.7,225.2 488.5,227.7 487.9,226.8 487.3,225.6 486.8,225.2 486.5,226.6 486.1,227.2 485.5,225.5 485.1,226.5 484.6,225.8 484.2,226.6 483.7,227.7 483.3,228.6 482.8,227.7 482.3,226.9 481.9,227.7 481.4,226.7 480.9,227.6 480.4,226.4 480.0,225.8 479.5,226.0 479.0,226.9 478.5,228.2 478.1,227.0 477.6,226.2 477.2,227.1 476.7,226.5 476.2,227.7 475.8,226.8 475.3,226.6 474.8,226.5 474.3,227.5 473.9,226.2 473.4,226.8 473.0,226.1 472.5,226.3 472.1,226.5 471.6,226.1 471.2,226.0 470.7,225.7 470.2,226.3 469.9,225.0 469.1,227.3 469.0,224.9 468.5,225.0 468.0,225.5 467.4,226.2" fill="none" stroke="#3a76c2" stroke-width="1.05" stroke-linejoin="round"/>
<polyline points="492.8,213.7 492.4,213.6 492.1,213.9 491.8,214.8 491.3,214.2 491.1,215.3 490.6,214.6 490.3,215.1 489.9,215.6 489.5,215.1 488.9,214.2 488.7,215.1 488.2,215.0 487.9,215.6 487.5,215.2 487.1,215.6 486.7,215.2 486.3,215.9 485.9,215.7 485.5,215.8 485.1,215.6 484.7,215.7 484.2,214.7 483.9,216.0 483.5,215.8 483.1,215.7 482.8,217.5 482.3,216.3 481.9,215.7 481.5,215.1 481.1,215.5 480.7,216.1 480.3,216.0 479.9,214.9 479.5,215.4 479.1,216.2 478.7,216.2 478.3,215.8 477.9,216.5 477.5,215.7 477.2,215.4 476.8,214.9 476.4,215.4 476.0,214.9 475.6,215.4 475.1,215.9 474.8,215.6 474.3,215.6 473.9,216.2 473.6,214.9 473.2,215.3 472.8,215.3 472.4,215.2 472.0,214.9 471.6,215.0 471.3,214.4 470.8,215.4 470.3,215.6 470.0,215.0 469.7,214.1 469.2,215.2" fill="none" stroke="#e11d8a" stroke-width="1.05" stroke-linejoin="round"/>
<polyline points="452.8,251.4 452.2,251.2 451.7,250.8 451.1,250.3 450.6,249.9 450.0,249.6 449.4,249.6 448.8,249.4 448.2,249.2 447.6,248.7 447.0,248.7 446.4,248.5 445.9,248.1 445.4,247.5 444.7,247.4 444.2,247.1 443.6,246.9 442.9,246.8 442.3,246.7 441.8,246.3 441.1,246.2 440.6,245.8 440.0,245.6 439.4,245.3 438.9,245.0 438.4,244.6 437.8,244.4 437.2,244.2 436.5,244.2 436.0,243.7 435.4,243.5 434.9,243.1 434.3,242.8 433.8,242.4 433.3,242.1 432.8,241.7 432.1,241.7 431.5,241.4 431.0,241.1 430.4,240.7 430.0,240.2 429.2,240.3 428.8,239.8 428.2,239.6 427.6,239.4 427.1,239.0 426.6,238.6 426.1,238.2 425.6,237.7 424.9,237.6 424.4,237.2 423.9,236.9 423.3,236.6" fill="none" stroke="#f01818" stroke-width="1.05" stroke-linejoin="round"/>
<polyline points="454.8,244.1 454.4,243.2 453.9,242.8 453.5,242.1 453.0,241.7 452.5,241.3 451.9,241.2 451.5,240.8 451.0,240.2 450.5,240.0 450.0,239.7 449.4,239.6 449.0,239.1 448.4,239.1 448.0,238.5 447.4,238.2 446.8,238.2 446.4,237.9 445.9,237.6 445.3,237.6 444.7,237.5 444.1,237.4 443.7,236.9 443.2,236.6 442.9,235.9 442.3,235.7 441.8,235.5 441.1,235.6 440.7,235.2 440.1,234.9 439.6,234.6 439.2,234.2 438.6,234.2 438.0,234.1 437.6,233.7 437.1,233.3 436.6,233.0 436.0,232.9 435.6,232.5 435.0,232.4 434.6,232.0 434.1,231.6 433.6,231.5 433.0,231.2 432.5,230.9 432.0,230.7 431.5,230.3 431.1,230.0 430.5,229.8 430.0,229.7 429.6,229.1 429.1,228.8 428.7,228.4" fill="none" stroke="#2a9c38" stroke-width="1.05" stroke-linejoin="round"/>
<polyline points="457.2,235.2 456.7,234.9 456.3,234.2 455.9,233.6 455.4,233.5 455.2,232.5 454.5,232.8 454.4,231.4 453.6,232.1 453.2,231.7 452.8,231.2 452.4,230.9 451.5,231.8 451.4,230.4 451.0,230.1 450.3,230.6 450.0,229.7 449.4,230.0 449.0,229.4 448.7,228.9 448.1,228.9 447.8,228.4 447.1,228.8 446.7,228.2 446.2,228.2 445.6,228.2 445.2,227.8 444.4,228.3 444.3,227.2 443.5,227.7 443.1,227.3 442.9,226.6 442.3,226.7 441.3,227.6 441.4,226.2 441.0,225.8 440.8,225.1 440.1,225.2 439.4,225.4 439.4,224.4 438.8,224.4 437.9,224.9 438.0,223.7 437.8,223.0 436.9,223.5 436.3,223.6 436.0,223.0 435.8,222.4 434.8,222.9 434.6,222.3 434.2,222.0 433.7,221.8 433.2,221.5" fill="none" stroke="#9a4cbe" stroke-width="1.05" stroke-linejoin="round"/>
<polyline points="460.5,222.7 459.7,224.0 459.1,224.2 458.7,224.0 458.1,224.2 458.1,222.7 457.5,223.3 457.0,223.1 456.5,223.2 456.1,222.8 455.5,223.1 454.9,223.7 454.9,222.2 454.4,222.1 453.6,222.9 453.8,221.2 453.0,221.8 452.7,221.4 452.3,221.1 452.2,220.2 451.5,220.6 450.9,220.8 450.5,220.5 450.3,219.7 449.9,219.5 449.5,219.4 449.4,218.5 447.9,220.7 448.0,219.4 447.7,218.9 447.5,218.2 446.8,218.6 446.9,217.3 445.2,219.7 445.3,218.6 444.9,218.2 444.6,217.8 444.0,217.9 443.7,217.6 442.9,217.9 443.0,216.9 442.8,216.2 442.5,215.8 442.2,215.4 441.2,216.2 440.8,215.9 439.9,216.5 439.9,215.7 439.4,215.7 438.6,215.9 439.0,214.5 439.2,213.2 437.7,214.8" fill="none" stroke="#3a76c2" stroke-width="1.05" stroke-linejoin="round"/>
<polyline points="462.3,216.1 462.3,214.3 462.1,213.7 461.9,213.0 461.1,214.1 460.9,213.6 460.7,212.7 460.1,213.2 459.6,213.5 459.4,212.9 458.8,213.4 458.5,212.8 458.1,212.9 457.9,212.2 457.3,212.8 457.1,212.1 456.6,212.4 456.3,211.9 456.2,211.2 455.5,211.8 455.3,211.2 454.9,211.1 454.3,211.6 453.7,211.9 452.8,212.9 453.0,211.4 451.8,213.2 452.2,211.3 452.1,210.5 451.7,210.3 451.4,210.0 451.1,209.7 450.9,209.3 450.3,209.6 450.4,208.5 450.0,208.4 449.4,208.6 448.9,208.7 448.4,208.7 447.9,208.8 447.6,208.6 447.2,208.4 447.1,207.9 447.0,207.1 446.7,206.9 446.9,205.8 445.8,206.8 445.7,206.3 445.4,205.9 444.8,206.1 444.3,206.2 444.0,205.9 443.8,205.4" fill="none" stroke="#e11d8a" stroke-width="1.05" stroke-linejoin="round"/>
<polyline points="414.4,231.5 414.0,231.0 413.6,230.5 413.3,229.8 412.9,229.4 412.4,228.9 412.0,228.4 411.7,227.8 411.3,227.3 410.9,226.7 410.6,226.1 410.1,225.8 409.8,225.2 409.1,225.1 408.8,224.5 408.2,224.1 407.8,223.7 407.5,223.0 406.9,222.7 406.4,222.4 406.0,221.9 405.6,221.4 405.2,220.9 404.9,220.3 404.4,219.9 404.0,219.4 403.6,218.9 403.1,218.5 402.8,217.9 402.5,217.3 402.1,216.8 401.5,216.5 401.3,215.9 400.9,215.4 400.5,214.9 400.0,214.5 399.8,213.9 399.3,213.5 398.9,213.0 398.6,212.4 398.0,212.1 397.8,211.4 397.4,211.0 396.9,210.6 396.5,210.1 396.0,209.6 395.7,209.0 395.4,208.5 395.2,207.9 394.6,207.5 394.6,206.8 394.3,206.2 393.9,205.7 393.5,205.3 393.2,204.6 392.9,204.1 392.6,203.6 392.1,203.1 391.9,202.5" fill="none" stroke="#f01818" stroke-width="1.05" stroke-linejoin="round"/>
<polyline points="421.3,222.9 420.9,222.6 420.4,222.3 420.0,221.9 419.6,221.5 419.2,221.1 418.9,220.5 418.4,220.3 417.9,219.9 417.5,219.5 417.1,219.1 416.6,218.8 416.1,218.5 415.7,218.1 415.2,217.7 414.8,217.4 414.2,217.2 413.9,216.6 413.6,216.1 413.3,215.7 412.8,215.3 412.4,214.9 412.0,214.5 411.6,214.1 411.4,213.4 411.1,213.0 410.5,212.7 410.1,212.3 409.9,211.8 409.2,211.6 408.9,211.1 408.4,210.8 408.2,210.2 407.9,209.7 407.6,209.2 407.1,208.8 406.8,208.3 406.4,207.9 406.0,207.5 405.7,207.1 405.4,206.6 405.0,206.1 404.9,205.5 404.7,204.9 404.1,204.7 403.8,204.2 403.5,203.7 403.3,203.1 402.5,202.9 402.3,202.4 402.2,201.8 401.8,201.3 401.5,200.9 401.3,200.3 401.0,199.9 400.5,199.4 400.4,198.9 400.0,198.4 399.7,198.0" fill="none" stroke="#2a9c38" stroke-width="1.05" stroke-linejoin="round"/>
<polyline points="424.8,218.7 425.6,216.9 425.3,216.4 424.9,216.0 424.1,216.2 424.7,214.7 424.1,214.6 423.8,214.1 423.3,213.9 423.4,213.1 422.6,213.1 422.5,212.5 421.8,212.4 421.4,212.1 421.0,211.7 420.6,211.4 419.0,212.3 420.0,210.5 419.9,209.9 419.6,209.5 419.6,208.8 419.4,208.3 418.2,208.6 418.1,208.1 418.0,207.4 417.9,206.8 417.2,206.7 416.6,206.6 416.1,206.4 415.9,205.8 415.5,205.5 415.4,204.9 415.5,204.1 415.4,203.5 414.5,203.6 414.3,203.1 414.1,202.6 414.1,202.0 413.2,202.0 412.8,201.6 412.7,201.1 412.1,200.9 410.0,201.7 411.9,199.7 410.8,199.9 411.2,199.0 410.3,198.9 410.2,198.4 410.4,197.6 409.8,197.4 409.4,197.1 409.0,196.7 409.2,195.9 408.8,195.6 408.0,195.5 406.3,195.9 406.9,194.9 407.8,193.8 407.4,193.4" fill="none" stroke="#9a4cbe" stroke-width="1.05" stroke-linejoin="round"/>
<polyline points="432.5,209.2 431.8,209.3 432.2,208.1 431.1,208.7 430.8,208.3 429.2,209.4 429.2,208.7 429.2,208.0 428.5,208.1 429.3,206.5 429.1,206.0 428.2,206.3 429.4,204.4 427.9,205.3 427.5,205.0 427.6,204.3 427.3,203.9 425.9,204.6 424.9,205.0 424.5,204.7 425.5,203.1 424.7,203.2 424.0,203.2 424.5,202.1 425.1,200.9 423.8,201.5 421.8,202.6 422.7,201.2 421.9,201.3 421.3,201.2 421.8,200.2 421.5,199.8 420.1,200.3 420.2,199.6 421.1,198.3 419.5,198.9 420.6,197.5 419.7,197.6 419.7,197.0 419.6,196.5 419.5,196.0 418.4,196.2 417.9,196.0 417.7,195.6 416.9,195.5 416.6,195.2 416.9,194.4 417.9,193.1 417.5,192.9 417.0,192.6 416.7,192.3 417.2,191.4 415.3,192.0 415.8,191.2 415.2,191.0 415.3,190.4 415.3,189.9 414.3,189.9 414.8,189.0" fill="none" stroke="#3a76c2" stroke-width="1.05" stroke-linejoin="round"/>
<polyline points="437.4,203.2 437.8,202.0 437.7,201.5 437.6,201.0 437.3,200.7 437.4,200.0 436.9,199.9 436.5,199.8 436.3,199.4 436.3,198.7 436.1,198.4 435.8,198.2 435.6,197.8 434.4,198.5 434.6,197.6 434.4,197.3 433.9,197.2 433.7,196.8 434.0,196.0 433.7,195.7 433.3,195.6 433.3,195.0 430.6,197.0 432.8,194.4 432.4,194.3 432.1,194.0 432.0,193.5 431.1,193.8 430.7,193.6 430.7,193.1 430.4,192.8 430.0,192.6 430.5,191.7 429.8,191.8 429.9,191.1 429.2,191.2 428.4,191.3 428.7,190.6 428.5,190.3 427.8,190.3 426.0,191.1 428.3,188.9 428.0,188.6 427.0,188.8 427.3,188.1 427.2,187.7 426.6,187.7 424.4,188.7 426.1,187.1 425.5,186.9 426.2,186.0 425.3,186.1 425.5,185.6 425.0,185.4 425.0,184.9 425.1,184.4 424.6,184.2 424.6,183.8 424.6,183.3" fill="none" stroke="#e11d8a" stroke-width="1.05" stroke-linejoin="round"/>
<polyline points="384.2,195.0 384.3,194.2 384.3,193.5 384.3,192.8 384.2,192.2 384.4,191.4 384.4,190.7 384.4,190.0 384.3,189.4 384.3,188.7 384.3,188.0 383.9,187.5 383.9,186.8 383.8,186.2 383.6,185.6 383.2,185.1 383.3,184.4 382.9,183.8 382.6,183.3 382.4,182.7 382.3,182.0 382.5,181.3 382.2,180.7 382.0,180.2 381.9,179.5 381.5,179.0 381.3,178.4 381.0,177.8 381.1,177.2 380.6,176.6 380.7,176.0 380.4,175.4 380.2,174.8 380.3,174.1 380.0,173.5 380.0,172.9 379.8,172.3 379.7,171.7 379.5,171.1 379.8,170.4 379.7,169.8 379.3,169.2 379.0,168.6 378.9,168.0 378.9,167.3 378.9,166.7 378.7,166.1 378.8,165.5 378.5,164.9 378.5,164.2 378.5,163.6 378.4,163.0 378.4,162.4 378.2,161.7 378.3,161.1 378.2,160.5 378.2,159.8" fill="none" stroke="#f01818" stroke-width="1.05" stroke-linejoin="round"/>
<polyline points="394.4,190.3 394.1,189.8 394.3,189.1 394.3,188.5 394.1,187.9 393.9,187.4 393.9,186.7 393.7,186.2 393.4,185.7 393.2,185.2 393.0,184.6 393.0,184.0 392.9,183.5 392.7,182.9 392.6,182.4 392.4,181.8 392.3,181.2 392.1,180.7 392.0,180.1 391.7,179.6 391.4,179.1 391.4,178.5 391.0,178.1 391.2,177.4 390.8,176.9 390.8,176.3 390.8,175.8 390.6,175.2 390.5,174.7 390.2,174.2 389.9,173.6 389.9,173.1 389.7,172.5 389.6,171.9 389.6,171.4 389.5,170.8 389.4,170.2 389.3,169.7 388.9,169.2 388.9,168.6 388.9,168.0 388.8,167.5 388.8,166.9 388.7,166.3 388.4,165.8 388.4,165.2 388.2,164.7 387.9,164.2 387.8,163.6 387.8,163.0 387.8,162.4 387.7,161.9 387.6,161.3 387.8,160.7 387.7,160.2 387.6,159.6 387.7,159.0" fill="none" stroke="#2a9c38" stroke-width="1.05" stroke-linejoin="round"/>
<polyline points="403.0,186.3 402.5,186.0 403.0,185.2 402.7,184.8 402.3,184.4 402.8,183.6 402.1,183.3 401.3,183.1 401.8,182.3 401.6,181.9 400.6,181.7 401.0,180.9 401.3,180.3 401.2,179.8 401.4,179.2 400.4,179.0 399.8,178.6 399.7,178.1 399.6,177.6 399.2,177.2 399.5,176.5 399.4,176.0 399.3,175.5 399.7,174.9 398.7,174.6 399.5,173.9 399.7,173.3 399.6,172.8 397.9,172.7 398.2,172.1 397.5,171.7 397.7,171.1 397.2,170.7 397.5,170.1 397.9,169.5 397.6,169.0 398.0,168.4 398.1,167.9 397.3,167.5 397.3,167.0 397.2,166.5 397.1,166.0 397.1,165.4 396.7,165.0 396.5,164.5 395.8,164.1 396.3,163.5 396.4,162.9 395.4,162.5 396.4,161.9 395.9,161.4 396.5,160.8 395.7,160.4 394.9,160.0 394.0,159.5 396.1,158.8 396.6,158.2" fill="none" stroke="#9a4cbe" stroke-width="1.05" stroke-linejoin="round"/>
<polyline points="411.0,182.6 410.5,182.3 408.7,182.6 410.7,181.2 409.5,181.3 408.1,181.3 409.6,180.2 410.1,179.5 409.2,179.3 410.5,178.3 408.7,178.5 407.9,178.3 407.7,177.9 409.0,176.9 408.8,176.5 408.7,176.0 408.1,175.7 408.3,175.2 408.3,174.7 408.2,174.2 408.5,173.7 408.1,173.3 408.0,172.9 407.8,172.4 405.0,172.8 407.9,171.5 406.1,171.5 408.4,170.4 407.7,170.1 406.0,170.0 406.1,169.5 406.2,169.0 406.4,168.5 406.9,167.9 405.9,167.7 404.0,167.6 406.7,166.5 405.7,166.3 405.5,165.9 404.2,165.6 405.4,164.9 404.3,164.6 405.6,163.9 405.4,163.5 405.0,163.1 404.7,162.7 403.8,162.3 404.5,161.8 403.7,161.4 403.5,160.9 405.6,160.2 404.1,159.9 402.9,159.6 404.1,159.0 404.2,158.5 404.1,158.0 404.9,157.5" fill="none" stroke="#3a76c2" stroke-width="1.05" stroke-linejoin="round"/>
<polyline points="418.1,179.3 418.0,178.9 417.4,178.8 418.5,177.8 417.9,177.6 418.9,176.8 418.9,176.3 418.8,175.9 417.9,175.8 419.2,174.9 418.3,174.8 418.3,174.4 418.5,173.8 419.2,173.2 418.8,172.9 417.5,172.9 418.4,172.2 416.2,172.5 418.1,171.4 417.7,171.1 418.3,170.5 417.5,170.4 417.2,170.0 417.5,169.5 417.6,169.1 417.0,168.8 417.6,168.3 416.6,168.1 415.8,167.9 417.4,167.1 416.8,166.8 417.3,166.3 416.9,166.0 417.0,165.5 416.5,165.2 416.5,164.8 416.9,164.4 416.1,164.1 415.7,163.8 416.0,163.3 415.1,163.1 416.1,162.5 416.3,162.1 416.6,161.6 415.7,161.3 415.6,161.0 415.1,160.6 415.3,160.2 415.4,159.8 415.9,159.3 415.2,159.0 415.1,158.6 415.4,158.2 416.1,157.7 415.9,157.3 415.6,156.9 415.3,156.6" fill="none" stroke="#e11d8a" stroke-width="1.05" stroke-linejoin="round"/>
<polyline points="377.3,149.8 377.6,149.2 377.5,148.5 377.8,147.9 377.2,147.3 377.5,146.6 377.4,146.0 377.8,145.4 377.7,144.8 377.5,144.1 377.7,143.5 377.7,142.9 377.5,142.2 377.5,141.6 377.7,141.0 378.1,140.4 378.1,139.7 378.1,139.1 378.4,138.5 378.5,137.9 378.6,137.3 378.8,136.7 378.6,136.0 378.8,135.4 378.9,134.8 378.9,134.1 378.6,133.5 378.9,132.9 379.2,132.3 379.2,131.6 379.5,131.1 379.7,130.5 379.7,129.8 379.9,129.2 379.8,128.6 380.0,128.0 380.1,127.3 380.2,126.7 380.3,126.1 380.5,125.5 380.6,124.9 381.1,124.3 381.3,123.7 381.6,123.2 381.7,122.6 381.8,121.9 381.8,121.3 382.1,120.7 382.2,120.1 382.7,119.6 382.6,118.9 382.6,118.2 382.9,117.7 383.1,117.1 383.3,116.5 383.7,116.0" fill="none" stroke="#f01818" stroke-width="1.05" stroke-linejoin="round"/>
<polyline points="385.7,149.9 386.0,149.3 385.9,148.7 386.1,148.1 386.2,147.6 386.5,147.0 386.4,146.4 386.8,145.9 387.0,145.3 387.3,144.8 387.4,144.2 387.4,143.6 387.6,143.1 387.7,142.5 387.6,141.9 387.6,141.4 387.6,140.8 387.6,140.2 388.0,139.7 388.0,139.1 388.1,138.6 388.1,138.0 388.2,137.4 388.4,136.9 388.5,136.3 388.6,135.8 388.6,135.2 388.6,134.6 388.7,134.0 388.8,133.5 388.8,132.9 389.1,132.4 389.3,131.8 389.3,131.3 389.6,130.7 389.7,130.2 389.7,129.6 390.0,129.1 390.0,128.5 390.3,128.0 390.4,127.4 390.5,126.9 390.6,126.3 390.7,125.8 391.0,125.2 391.2,124.7 391.3,124.2 391.4,123.6 391.7,123.1 391.8,122.5 391.8,121.9 392.2,121.5 392.4,120.9 392.5,120.3 392.6,119.8 392.9,119.3" fill="none" stroke="#2a9c38" stroke-width="1.05" stroke-linejoin="round"/>
<polyline points="395.7,150.0 396.0,149.5 395.9,148.9 395.7,148.4 396.3,147.9 395.6,147.4 395.9,146.9 396.4,146.4 396.7,145.9 395.2,145.3 395.7,144.8 395.4,144.3 396.4,143.8 395.9,143.3 395.8,142.7 395.7,142.2 395.5,141.7 395.7,141.2 396.0,140.7 396.3,140.2 396.0,139.6 397.1,139.3 396.8,138.7 396.8,138.2 396.7,137.6 396.9,137.1 396.9,136.6 397.5,136.2 397.6,135.7 397.2,135.1 397.4,134.6 397.7,134.1 398.1,133.7 397.9,133.1 397.6,132.5 397.8,132.1 398.1,131.6 398.3,131.1 397.9,130.5 396.4,129.6 396.9,129.1 398.3,129.0 398.8,128.6 399.0,128.1 399.2,127.6 399.2,127.1 399.3,126.6 400.2,126.3 399.6,125.6 400.4,125.3 399.8,124.6 400.3,124.2 400.6,123.8 400.5,123.2 400.9,122.8 401.0,122.2" fill="none" stroke="#9a4cbe" stroke-width="1.05" stroke-linejoin="round"/>
<polyline points="404.2,150.1 404.1,149.6 403.0,149.1 403.1,148.6 401.9,148.1 403.9,147.7 404.3,147.3 404.9,146.9 403.1,146.3 404.8,145.9 402.7,145.3 404.2,145.0 403.7,144.4 403.0,143.9 404.6,143.6 404.5,143.1 403.8,142.6 403.5,142.1 403.2,141.5 404.5,141.2 403.6,140.6 403.6,140.2 404.5,139.8 404.2,139.3 404.2,138.8 403.7,138.3 405.6,138.1 405.3,137.6 406.4,137.3 406.3,136.8 405.4,136.2 405.6,135.8 404.4,135.0 405.0,134.7 405.0,134.2 404.5,133.6 405.6,133.4 406.0,133.0 406.7,132.7 404.9,131.7 405.7,131.5 405.4,130.9 405.9,130.5 407.3,130.4 405.5,129.4 406.5,129.2 407.4,129.0 407.3,128.5 407.2,128.0 406.8,127.4 406.4,126.7 407.8,126.7 407.7,126.2 407.5,125.6 409.1,125.7 408.8,125.1" fill="none" stroke="#3a76c2" stroke-width="1.05" stroke-linejoin="round"/>
<polyline points="412.6,150.2 412.8,149.8 413.7,149.4 414.3,149.0 413.8,148.6 414.2,148.2 414.4,147.8 414.7,147.4 415.4,147.0 414.9,146.6 414.4,146.2 414.2,145.7 414.2,145.3 415.0,145.0 414.7,144.6 415.7,144.3 415.8,143.9 415.4,143.4 415.4,143.0 415.5,142.6 415.3,142.2 415.3,141.8 415.7,141.5 416.3,141.2 416.5,140.8 416.6,140.4 416.1,139.9 413.6,139.1 416.6,139.2 416.0,138.7 415.8,138.3 416.2,137.9 416.9,137.7 416.5,137.2 415.4,136.5 415.9,136.2 416.7,136.0 416.3,135.5 416.1,135.0 417.0,134.8 417.6,134.6 417.9,134.3 417.5,133.7 417.1,133.2 417.0,132.8 417.3,132.4 418.0,132.2 418.6,132.0 418.4,131.5 418.8,131.2 419.0,130.9 418.3,130.2 417.9,129.7 418.8,129.6 418.8,129.1 417.1,128.1" fill="none" stroke="#e11d8a" stroke-width="1.05" stroke-linejoin="round"/>
<polyline points="387.3,106.5 387.8,106.0 388.3,105.6 388.4,104.9 388.7,104.4 388.8,103.7 389.1,103.1 389.4,102.6 389.7,102.0 390.0,101.5 390.3,100.9 390.4,100.3 390.9,99.8 391.1,99.2 391.6,98.7 391.9,98.2 392.1,97.6 392.7,97.2 392.8,96.6 393.1,95.9 393.6,95.6 394.0,95.0 394.4,94.6 394.8,94.1 394.9,93.4 395.3,92.9 395.7,92.4 396.0,91.8 396.3,91.2 396.8,90.9 397.5,90.6 397.7,90.0 398.0,89.4 398.3,88.8 398.7,88.3 399.0,87.8 399.3,87.2 399.9,86.9 400.4,86.4 400.8,85.9 401.1,85.4 401.6,85.0 402.0,84.5 402.3,83.9 402.7,83.4 403.1,82.9 403.5,82.4 403.8,81.9 404.4,81.6 404.9,81.2 405.4,80.8 405.8,80.3" fill="none" stroke="#f01818" stroke-width="1.05" stroke-linejoin="round"/>
<polyline points="394.0,109.7 394.8,109.4 395.3,109.1 395.7,108.6 396.0,108.1 396.8,107.8 397.2,107.4 397.6,107.0 398.0,106.5 398.3,106.0 398.7,105.6 399.1,105.2 399.4,104.7 399.7,104.2 399.9,103.7 400.1,103.1 400.5,102.7 400.7,102.1 401.0,101.7 401.6,101.3 402.0,101.0 402.3,100.5 402.7,100.0 402.9,99.4 403.0,98.8 403.4,98.4 403.8,98.0 404.2,97.6 404.3,97.0 404.9,96.7 405.2,96.3 405.4,95.7 405.9,95.3 406.3,94.9 406.6,94.4 407.0,94.0 407.3,93.5 407.6,93.0 408.0,92.7 408.4,92.2 408.8,91.8 409.0,91.2 409.4,90.8 409.9,90.5 410.3,90.0 410.6,89.6 410.9,89.1 411.2,88.6 411.6,88.2 412.1,87.9 412.6,87.5 412.9,87.1" fill="none" stroke="#2a9c38" stroke-width="1.05" stroke-linejoin="round"/>
<polyline points="403.4,114.2 404.0,113.9 404.0,113.4 404.4,113.0 404.5,112.4 405.3,112.3 405.3,111.7 405.1,111.0 404.6,110.1 405.4,110.0 406.0,109.7 406.3,109.3 406.9,109.0 407.3,108.7 407.9,108.4 407.5,107.5 407.1,106.7 407.9,106.6 408.2,106.2 408.2,105.6 408.6,105.2 408.9,104.7 409.4,104.4 409.5,103.9 409.7,103.4 410.2,103.1 410.0,102.4 410.5,102.0 410.8,101.7 411.5,101.5 411.2,100.6 411.9,100.5 412.1,100.0 412.2,99.4 412.8,99.2 413.0,98.7 413.8,98.6 414.0,98.1 414.5,97.9 414.5,97.2 414.8,96.8 415.2,96.4 415.7,96.2 414.9,94.8 415.7,94.8 416.5,94.8 417.1,94.7 417.0,93.9 417.2,93.3 417.7,93.1 419.0,93.6 418.6,92.5" fill="none" stroke="#9a4cbe" stroke-width="1.05" stroke-linejoin="round"/>
<polyline points="411.5,118.1 412.6,118.1 413.2,117.9 412.3,116.9 413.3,116.9 412.7,116.1 412.4,115.4 412.4,114.9 412.9,114.6 413.9,114.6 412.1,113.1 413.6,113.4 414.0,113.1 414.6,112.9 414.7,112.4 414.9,112.0 415.8,112.0 415.2,111.1 416.1,111.1 416.6,110.9 416.2,110.1 414.9,108.7 415.7,108.6 417.0,108.9 416.8,108.2 418.3,108.7 418.5,108.2 418.6,107.8 417.9,106.7 418.0,106.2 418.2,105.7 418.6,105.5 419.1,105.3 419.3,104.8 419.5,104.4 420.4,104.5 420.9,104.3 420.1,103.0 419.7,102.1 421.9,103.3 421.6,102.4 422.3,102.5 423.1,102.5 422.4,101.3 423.9,102.0 423.5,101.0 423.0,99.9 424.5,100.7 425.1,100.6 424.4,99.4 423.8,98.2 424.6,98.2" fill="none" stroke="#3a76c2" stroke-width="1.05" stroke-linejoin="round"/>
<polyline points="419.5,122.0 420.1,121.8 421.1,121.8 421.1,121.4 421.0,120.9 421.4,120.7 420.3,119.6 421.5,119.8 423.0,120.1 422.6,119.4 421.8,118.5 422.7,118.6 421.9,117.6 423.5,118.1 423.0,117.3 423.8,117.4 424.2,117.1 423.9,116.5 424.7,116.5 424.2,115.7 424.3,115.3 424.3,114.8 425.0,114.8 425.7,114.7 426.2,114.6 426.1,114.0 426.1,113.6 426.7,113.5 427.0,113.2 426.8,112.6 427.1,112.3 427.5,112.1 428.1,112.0 428.8,112.1 428.1,111.1 428.0,110.4 428.5,110.3 428.8,110.0 429.3,110.0 429.4,109.5 429.3,108.9 429.4,108.5 430.4,108.7 430.9,108.6 430.4,107.7 430.6,107.3 431.0,107.1 431.3,106.9 431.9,106.9 432.1,106.5 432.2,106.1 432.8,106.0" fill="none" stroke="#e11d8a" stroke-width="1.05" stroke-linejoin="round"/>
<polyline points="410.7,70.4 411.6,70.6 412.6,70.7 413.5,70.8 414.1,70.5 414.7,70.2 415.4,70.1 416.1,69.9 416.8,69.8 417.4,69.5 417.9,69.2 418.3,68.6 418.8,68.2 419.4,68.0 420.0,67.7 420.6,67.4 421.1,67.1 421.7,66.8 422.2,66.4 422.7,66.1 423.4,65.9 424.0,65.6 424.5,65.2 424.8,64.6 425.3,64.2 426.0,64.1 426.5,63.7 427.0,63.3 427.7,63.2 428.2,62.9 428.8,62.6 429.3,62.3 429.9,62.0 430.4,61.6 431.0,61.4 431.6,61.2 432.1,60.8 432.6,60.4 433.1,60.0 433.8,60.0 434.4,59.7 434.8,59.1 435.4,59.0 436.0,58.7 436.5,58.2 437.1,58.1 437.6,57.6 438.3,57.7 438.8,57.3" fill="none" stroke="#f01818" stroke-width="1.05" stroke-linejoin="round"/>
<polyline points="419.5,80.8 420.0,80.5 420.3,79.9 420.8,79.7 421.3,79.4 421.6,78.8 422.1,78.5 422.5,78.1 422.9,77.6 423.3,77.3 423.8,76.9 424.3,76.7 424.8,76.3 425.1,75.8 425.8,75.7 426.3,75.5 426.6,74.9 427.2,74.8 427.6,74.3 428.0,73.9 428.6,73.8 429.1,73.5 429.6,73.3 430.0,72.8 430.6,72.7 431.1,72.4 431.6,72.0 432.0,71.6 432.5,71.4 433.0,71.1 433.5,70.8 434.0,70.5 434.5,70.2 435.0,69.9 435.4,69.5 435.8,69.0 436.4,68.9 436.8,68.4 437.5,68.6 438.1,68.4 438.6,68.2 439.1,68.0 439.6,67.6 440.1,67.3 440.6,67.0 441.2,67.0 441.7,66.7 442.1,66.2 442.6,65.9" fill="none" stroke="#2a9c38" stroke-width="1.05" stroke-linejoin="round"/>
<polyline points="424.9,87.0 425.5,87.0 425.8,86.5 426.4,86.5 426.8,86.1 427.1,85.7 427.7,85.5 427.9,84.9 427.7,83.8 428.9,84.5 429.0,83.8 429.3,83.4 429.5,82.8 430.5,83.2 430.6,82.4 430.9,82.0 431.5,81.9 431.8,81.5 432.6,81.7 433.5,82.1 433.0,80.4 433.9,80.8 434.3,80.6 435.0,80.6 435.5,80.4 435.7,79.8 436.0,79.3 436.4,79.0 436.6,78.3 437.2,78.3 437.7,78.0 438.4,78.3 438.6,77.6 439.2,77.5 439.8,77.6 439.7,76.4 440.6,76.8 440.7,76.0 441.4,76.1 441.8,75.8 442.3,75.6 442.8,75.6 443.2,75.1 443.5,74.4 444.1,74.5 444.8,74.9 445.4,74.8 445.6,74.0 446.1,74.0" fill="none" stroke="#9a4cbe" stroke-width="1.05" stroke-linejoin="round"/>
<polyline points="430.6,93.6 430.8,93.2 431.4,93.1 430.9,91.9 431.9,92.3 431.6,91.2 432.4,91.4 433.6,92.2 433.0,90.7 433.6,90.7 434.1,90.5 433.7,89.3 434.4,89.3 435.2,89.7 435.7,89.5 435.8,88.9 436.3,88.8 436.1,87.7 437.2,88.4 437.1,87.5 437.5,87.2 438.9,88.4 438.6,87.1 439.0,86.9 439.6,87.0 439.8,86.5 439.7,85.4 440.5,85.8 440.4,84.7 440.9,84.5 441.7,85.1 441.6,83.9 442.4,84.3 443.3,84.9 443.6,84.5 444.1,84.5 443.4,82.1 444.8,83.9 445.3,83.9 445.6,83.4 445.7,82.4 445.9,81.7 446.9,82.8 447.2,82.4 447.8,82.5 447.8,81.4 448.3,81.3 448.6,80.9 449.6,81.9" fill="none" stroke="#3a76c2" stroke-width="1.05" stroke-linejoin="round"/>
<polyline points="436.8,100.9 437.5,101.1 437.9,101.0 437.7,100.1 438.4,100.2 438.4,99.7 439.3,100.1 439.6,99.8 439.6,99.2 440.3,99.5 440.3,98.8 440.6,98.5 441.3,98.7 441.8,98.8 441.2,97.2 442.1,97.8 442.0,97.0 442.9,97.5 442.9,96.9 443.1,96.4 443.5,96.3 443.7,95.8 443.0,93.9 444.5,95.5 445.1,95.8 445.9,96.4 445.7,95.2 445.6,94.3 446.3,94.6 446.9,94.8 447.1,94.3 447.7,94.6 448.1,94.4 448.2,93.8 448.4,93.4 449.0,93.6 449.1,93.1 449.4,92.7 449.8,92.5 450.5,93.1 450.6,92.3 450.8,91.9 451.4,92.2 451.8,92.1 452.2,91.8 452.5,91.6 452.5,90.6 452.9,90.6 453.3,90.4" fill="none" stroke="#e11d8a" stroke-width="1.05" stroke-linejoin="round"/>
<polyline points="447.3,50.6 448.1,51.0 448.8,51.2 449.6,51.4 450.3,51.6 451.0,51.8 451.6,51.6 452.3,51.7 452.9,51.6 453.5,51.2 454.2,51.5 454.8,51.3 455.4,51.1 456.1,50.9 456.7,50.8 457.3,50.6 458.0,50.6 458.6,50.7 459.2,50.6 459.8,50.3 460.5,50.3 461.1,50.2 461.8,50.3 462.4,50.4 463.0,50.1 463.7,50.2 464.3,50.2 464.9,49.9 465.5,49.5 466.1,49.7 466.7,49.3 467.4,49.2 468.0,49.2 468.6,49.1 469.3,49.0 469.9,48.8 470.5,49.0 471.2,48.9 471.8,48.8 472.4,48.9 473.0,48.6 473.7,48.7" fill="none" stroke="#f01818" stroke-width="1.05" stroke-linejoin="round"/>
<polyline points="450.8,61.4 451.4,61.6 452.0,61.5 452.7,61.6 453.2,61.4 453.7,61.2 454.4,61.5 454.9,61.2 455.4,60.8 456.1,61.1 456.6,60.9 457.3,61.0 457.8,60.8 458.3,60.4 458.9,60.5 459.5,60.4 460.0,60.2 460.6,60.2 461.2,60.4 461.8,60.3 462.4,60.2 462.9,60.1 463.5,60.0 464.0,59.6 464.5,59.3 465.1,59.2 465.6,58.9 466.3,59.2 466.8,59.1 467.4,59.1 468.0,59.1 468.5,59.0 469.1,58.7 469.7,58.7 470.2,58.5 470.8,58.5 471.4,58.7 472.0,58.7 472.5,58.6 473.1,58.5 473.7,58.7 474.3,58.5" fill="none" stroke="#2a9c38" stroke-width="1.05" stroke-linejoin="round"/>
<polyline points="453.3,69.3 453.8,69.0 454.4,69.1 455.1,69.8 455.5,69.1 456.1,69.5 456.5,68.9 457.2,69.3 457.9,69.9 458.1,68.8 458.6,68.7 459.2,69.0 459.6,68.2 460.3,68.8 460.8,68.6 461.3,68.4 461.7,68.1 462.3,68.4 462.8,68.1 463.5,69.0 464.0,68.5 464.4,68.0 464.9,67.9 465.5,68.1 465.9,67.7 466.4,67.1 467.0,67.6 467.4,67.3 468.0,67.1 468.4,66.4 469.0,67.0 469.5,66.8 470.1,67.3 470.6,67.2 471.1,66.6 471.6,66.7 472.0,65.0 472.7,66.9 473.2,66.6 473.7,66.1 474.2,66.5 474.7,66.4" fill="none" stroke="#9a4cbe" stroke-width="1.05" stroke-linejoin="round"/>
<polyline points="456.8,80.2 456.8,78.4 457.2,78.4 458.0,79.2 458.2,78.2 458.2,76.7 459.2,78.3 459.0,75.9 459.7,76.8 460.1,76.4 460.8,77.2 461.2,76.6 461.8,77.2 462.4,77.7 462.6,76.6 463.1,76.4 463.4,75.6 463.7,74.9 464.3,75.5 465.0,76.5 465.3,75.8 465.9,76.0 466.3,75.6 466.6,74.9 467.2,75.3 467.5,74.3 468.3,76.1 468.7,75.9 469.1,75.1 469.7,76.0 470.1,75.3 470.5,75.2 471.1,76.4 471.4,74.7 472.0,75.5 472.4,75.2 472.8,74.2 473.4,75.5 473.9,76.2 474.2,74.3 474.7,74.8 475.2,74.2" fill="none" stroke="#3a76c2" stroke-width="1.05" stroke-linejoin="round"/>
<polyline points="459.8,89.2 460.0,88.7 460.5,88.8 460.9,88.8 461.2,88.4 461.2,86.9 461.8,87.7 462.2,87.6 462.7,87.7 463.0,87.3 463.5,87.8 463.7,86.8 464.3,87.5 464.8,87.7 465.0,87.1 465.7,88.1 465.9,87.2 466.3,87.1 466.5,86.2 467.1,87.0 467.4,86.7 467.9,86.9 468.3,86.9 468.8,87.4 469.2,87.2 469.5,86.9 469.9,87.1 470.1,85.7 470.7,86.4 471.1,86.4 471.4,86.2 471.8,85.4 472.2,86.0 472.7,86.5 473.0,85.8 473.5,86.1 473.8,84.9 474.2,85.5 474.6,85.5 475.1,86.2 475.4,85.6 475.8,85.3" fill="none" stroke="#e11d8a" stroke-width="1.05" stroke-linejoin="round"/>
<path d="M484.32 20.48A130.5 130.5 0 0 1 520.88 27.07L519.78 30.39A127.0 127.0 0 0 0 484.20 23.98Z" fill="#d4d4d4" stroke="#111" stroke-width="1.0"/>
<path d="M484.20 23.98A127.0 127.0 0 0 1 519.78 30.39L517.48 37.32A119.7 119.7 0 0 0 483.94 31.28Z" fill="none" stroke="#111" stroke-width="1.0"/>
<path d="M483.84 34.22A116.75 116.75 0 0 1 516.55 40.12L514.49 46.28A110.25 110.25 0 0 0 483.61 40.72Z" fill="none" stroke="#111" stroke-width="1.0"/>
<path d="M483.50 43.68A107.28999999999999 107.28999999999999 0 0 1 513.56 49.09L511.51 55.26A100.78999999999999 100.78999999999999 0 0 0 483.27 50.17Z" fill="none" stroke="#111" stroke-width="1.0"/>
<path d="M483.17 53.13A97.83 97.83 0 0 1 510.57 58.07L508.52 64.24A91.33 91.33 0 0 0 482.94 59.63Z" fill="none" stroke="#111" stroke-width="1.0"/>
<path d="M482.83 62.59A88.37 88.37 0 0 1 507.59 67.05L505.54 73.21A81.87 81.87 0 0 0 482.60 69.08Z" fill="none" stroke="#111" stroke-width="1.0"/>
<path d="M482.50 72.04A78.91 78.91 0 0 1 504.60 76.02L502.55 82.19A72.41 72.41 0 0 0 482.26 78.54Z" fill="none" stroke="#111" stroke-width="1.0"/>
<path d="M482.16 81.49A69.44999999999999 69.44999999999999 0 0 1 501.62 85.00L499.57 91.17A62.94999999999999 62.94999999999999 0 0 0 481.93 87.99Z" fill="none" stroke="#111" stroke-width="1.0"/>
<path d="M532.91 31.74A130.5 130.5 0 0 1 564.19 51.44L561.92 54.11A127.0 127.0 0 0 0 531.48 34.94Z" fill="#d4d4d4" stroke="#111" stroke-width="1.0"/>
<path d="M531.48 34.94A127.0 127.0 0 0 1 561.92 54.11L557.19 59.67A119.7 119.7 0 0 0 528.51 41.60Z" fill="none" stroke="#111" stroke-width="1.0"/>
<path d="M527.30 44.30A116.75 116.75 0 0 1 555.28 61.92L551.08 66.87A110.25 110.25 0 0 0 524.65 50.23Z" fill="none" stroke="#111" stroke-width="1.0"/>
<path d="M523.45 52.93A107.28999999999999 107.28999999999999 0 0 1 549.16 69.13L544.95 74.08A100.78999999999999 100.78999999999999 0 0 0 520.80 58.87Z" fill="none" stroke="#111" stroke-width="1.0"/>
<path d="M519.59 61.57A97.83 97.83 0 0 1 543.04 76.34L538.83 81.29A91.33 91.33 0 0 0 516.94 67.51Z" fill="none" stroke="#111" stroke-width="1.0"/>
<path d="M515.73 70.21A88.37 88.37 0 0 1 536.91 83.55L532.70 88.50A81.87 81.87 0 0 0 513.08 76.15Z" fill="none" stroke="#111" stroke-width="1.0"/>
<path d="M511.88 78.85A78.91 78.91 0 0 1 530.79 90.76L526.58 95.71A72.41 72.41 0 0 0 509.23 84.78Z" fill="none" stroke="#111" stroke-width="1.0"/>
<path d="M508.02 87.49A69.44999999999999 69.44999999999999 0 0 1 524.66 97.97L520.45 102.92A62.94999999999999 62.94999999999999 0 0 0 505.37 93.42Z" fill="none" stroke="#111" stroke-width="1.0"/>
<path d="M573.60 60.27A130.5 130.5 0 0 1 593.23 86.54L590.18 88.27A127.0 127.0 0 0 0 571.08 62.70Z" fill="#d4d4d4" stroke="#111" stroke-width="1.0"/>
<path d="M571.08 62.70A127.0 127.0 0 0 1 590.18 88.27L583.83 91.87A119.7 119.7 0 0 0 565.82 67.77Z" fill="none" stroke="#111" stroke-width="1.0"/>
<path d="M563.70 69.82A116.75 116.75 0 0 1 581.27 93.32L575.61 96.53A110.25 110.25 0 0 0 559.03 74.33Z" fill="none" stroke="#111" stroke-width="1.0"/>
<path d="M556.90 76.39A107.28999999999999 107.28999999999999 0 0 1 573.04 97.99L567.38 101.19A100.78999999999999 100.78999999999999 0 0 0 552.22 80.90Z" fill="none" stroke="#111" stroke-width="1.0"/>
<path d="M550.09 82.96A97.83 97.83 0 0 1 564.81 102.65L559.15 105.86A91.33 91.33 0 0 0 545.41 87.47Z" fill="none" stroke="#111" stroke-width="1.0"/>
<path d="M543.28 89.53A88.37 88.37 0 0 1 556.58 107.32L550.92 110.52A81.87 81.87 0 0 0 538.61 94.04Z" fill="none" stroke="#111" stroke-width="1.0"/>
<path d="M536.48 96.10A78.91 78.91 0 0 1 548.35 111.98L542.69 115.19A72.41 72.41 0 0 0 531.80 100.61Z" fill="none" stroke="#111" stroke-width="1.0"/>
<path d="M529.67 102.67A69.44999999999999 69.44999999999999 0 0 1 540.12 116.65L534.46 119.86A62.94999999999999 62.94999999999999 0 0 0 524.99 107.18Z" fill="none" stroke="#111" stroke-width="1.0"/>
<path d="M599.03 98.07A130.5 130.5 0 0 1 607.99 127.00L604.55 127.64A127.0 127.0 0 0 0 595.83 99.48Z" fill="#d4d4d4" stroke="#111" stroke-width="1.0"/>
<path d="M595.83 99.48A127.0 127.0 0 0 1 604.55 127.64L597.38 128.98A119.7 119.7 0 0 0 589.15 102.44Z" fill="none" stroke="#111" stroke-width="1.0"/>
<path d="M586.45 103.63A116.75 116.75 0 0 1 594.48 129.52L588.09 130.71A110.25 110.25 0 0 0 580.51 106.27Z" fill="none" stroke="#111" stroke-width="1.0"/>
<path d="M577.80 107.46A107.28999999999999 107.28999999999999 0 0 1 585.18 131.25L578.79 132.44A100.78999999999999 100.78999999999999 0 0 0 571.86 110.10Z" fill="none" stroke="#111" stroke-width="1.0"/>
<path d="M569.15 111.29A97.83 97.83 0 0 1 575.88 132.98L569.49 134.17A91.33 91.33 0 0 0 563.21 113.93Z" fill="none" stroke="#111" stroke-width="1.0"/>
<path d="M560.50 115.12A88.37 88.37 0 0 1 566.58 134.71L560.19 135.91A81.87 81.87 0 0 0 554.56 117.76Z" fill="none" stroke="#111" stroke-width="1.0"/>
<path d="M551.85 118.95A78.91 78.91 0 0 1 557.28 136.45L550.89 137.64A72.41 72.41 0 0 0 545.91 121.59Z" fill="none" stroke="#111" stroke-width="1.0"/>
<path d="M543.20 122.78A69.44999999999999 69.44999999999999 0 0 1 547.98 138.18L541.59 139.37A62.94999999999999 62.94999999999999 0 0 0 537.26 125.41Z" fill="none" stroke="#111" stroke-width="1.0"/>
<path d="M609.73 139.78A130.5 130.5 0 0 1 603.29 192.81L599.97 191.68A127.0 127.0 0 0 0 606.24 140.08Z" fill="#d4d4d4" stroke="#111" stroke-width="1.0"/>
<path d="M606.24 140.08A127.0 127.0 0 0 1 599.97 191.68L593.06 189.34A119.7 119.7 0 0 0 598.96 140.70Z" fill="none" stroke="#111" stroke-width="1.0"/>
<path d="M596.03 140.96A116.75 116.75 0 0 1 590.27 188.39L584.11 186.30A110.25 110.25 0 0 0 589.55 141.51Z" fill="none" stroke="#111" stroke-width="1.0"/>
<path d="M586.60 141.76A107.28999999999999 107.28999999999999 0 0 1 581.31 185.35L575.15 183.27A100.78999999999999 100.78999999999999 0 0 0 580.12 142.31Z" fill="none" stroke="#111" stroke-width="1.0"/>
<path d="M577.17 142.57A97.83 97.83 0 0 1 572.35 182.32L566.19 180.23A91.33 91.33 0 0 0 570.70 143.12Z" fill="none" stroke="#111" stroke-width="1.0"/>
<path d="M567.75 143.37A88.37 88.37 0 0 1 563.39 179.28L557.23 177.19A81.87 81.87 0 0 0 561.27 143.93Z" fill="none" stroke="#111" stroke-width="1.0"/>
<path d="M558.32 144.18A78.91 78.91 0 0 1 554.43 176.24L548.27 174.15A72.41 72.41 0 0 0 551.85 144.73Z" fill="none" stroke="#111" stroke-width="1.0"/>
<path d="M548.90 144.98A69.44999999999999 69.44999999999999 0 0 1 545.47 173.20L539.32 171.12A62.94999999999999 62.94999999999999 0 0 0 542.42 145.54Z" fill="none" stroke="#111" stroke-width="1.0"/>
<path d="M598.55 204.81A130.5 130.5 0 0 1 570.02 245.09L567.60 242.57A127.0 127.0 0 0 0 595.36 203.36Z" fill="#d4d4d4" stroke="#111" stroke-width="1.0"/>
<path d="M595.36 203.36A127.0 127.0 0 0 1 567.60 242.57L562.55 237.30A119.7 119.7 0 0 0 588.71 200.35Z" fill="none" stroke="#111" stroke-width="1.0"/>
<path d="M586.02 199.13A116.75 116.75 0 0 1 560.51 235.17L556.01 230.48A110.25 110.25 0 0 0 580.10 196.44Z" fill="none" stroke="#111" stroke-width="1.0"/>
<path d="M577.41 195.22A107.28999999999999 107.28999999999999 0 0 1 553.96 228.34L549.46 223.65A100.78999999999999 100.78999999999999 0 0 0 571.49 192.53Z" fill="none" stroke="#111" stroke-width="1.0"/>
<path d="M568.79 191.31A97.83 97.83 0 0 1 547.41 221.51L542.91 216.82A91.33 91.33 0 0 0 562.87 188.63Z" fill="none" stroke="#111" stroke-width="1.0"/>
<path d="M560.18 187.40A88.37 88.37 0 0 1 540.86 214.68L536.36 209.99A81.87 81.87 0 0 0 554.26 184.72Z" fill="none" stroke="#111" stroke-width="1.0"/>
<path d="M551.56 183.50A78.91 78.91 0 0 1 534.32 207.86L529.82 203.16A72.41 72.41 0 0 0 545.64 180.81Z" fill="none" stroke="#111" stroke-width="1.0"/>
<path d="M542.95 179.59A69.44999999999999 69.44999999999999 0 0 1 527.77 201.03L523.27 196.34A62.94999999999999 62.94999999999999 0 0 0 537.03 176.90Z" fill="none" stroke="#111" stroke-width="1.0"/>
<path d="M560.28 253.55A130.5 130.5 0 0 1 518.88 275.38L517.83 272.04A127.0 127.0 0 0 0 558.12 250.80Z" fill="#d4d4d4" stroke="#111" stroke-width="1.0"/>
<path d="M558.12 250.80A127.0 127.0 0 0 1 517.83 272.04L515.64 265.08A119.7 119.7 0 0 0 553.61 245.06Z" fill="none" stroke="#111" stroke-width="1.0"/>
<path d="M551.79 242.74A116.75 116.75 0 0 1 514.76 262.26L512.80 256.06A110.25 110.25 0 0 0 547.78 237.62Z" fill="none" stroke="#111" stroke-width="1.0"/>
<path d="M545.95 235.29A107.28999999999999 107.28999999999999 0 0 1 511.92 253.24L509.96 247.04A100.78999999999999 100.78999999999999 0 0 0 541.93 230.18Z" fill="none" stroke="#111" stroke-width="1.0"/>
<path d="M540.11 227.85A97.83 97.83 0 0 1 509.08 244.22L507.12 238.02A91.33 91.33 0 0 0 536.09 222.74Z" fill="none" stroke="#111" stroke-width="1.0"/>
<path d="M534.27 220.41A88.37 88.37 0 0 1 506.23 235.19L504.28 228.99A81.87 81.87 0 0 0 530.25 215.30Z" fill="none" stroke="#111" stroke-width="1.0"/>
<path d="M528.42 212.97A78.91 78.91 0 0 1 503.39 226.17L501.44 219.97A72.41 72.41 0 0 0 524.41 207.86Z" fill="none" stroke="#111" stroke-width="1.0"/>
<path d="M522.58 205.53A69.44999999999999 69.44999999999999 0 0 1 500.55 217.15L498.60 210.95A62.94999999999999 62.94999999999999 0 0 0 518.57 200.42Z" fill="none" stroke="#111" stroke-width="1.0"/>
<path d="M506.40 278.64A130.5 130.5 0 0 1 458.62 279.69L459.18 276.23A127.0 127.0 0 0 0 505.68 275.21Z" fill="#d4d4d4" stroke="#111" stroke-width="1.0"/>
<path d="M505.68 275.21A127.0 127.0 0 0 1 459.18 276.23L460.36 269.03A119.7 119.7 0 0 0 504.19 268.07Z" fill="none" stroke="#111" stroke-width="1.0"/>
<path d="M503.59 265.18A116.75 116.75 0 0 1 460.84 266.12L461.89 259.70A110.25 110.25 0 0 0 502.26 258.82Z" fill="none" stroke="#111" stroke-width="1.0"/>
<path d="M501.65 255.92A107.28999999999999 107.28999999999999 0 0 1 462.37 256.78L463.42 250.37A100.78999999999999 100.78999999999999 0 0 0 500.32 249.56Z" fill="none" stroke="#111" stroke-width="1.0"/>
<path d="M499.72 246.66A97.83 97.83 0 0 1 463.90 247.45L464.95 241.03A91.33 91.33 0 0 0 498.39 240.30Z" fill="none" stroke="#111" stroke-width="1.0"/>
<path d="M497.78 237.40A88.37 88.37 0 0 1 465.42 238.11L466.47 231.69A81.87 81.87 0 0 0 496.45 231.04Z" fill="none" stroke="#111" stroke-width="1.0"/>
<path d="M495.85 228.14A78.91 78.91 0 0 1 466.95 228.77L468.00 222.36A72.41 72.41 0 0 0 494.52 221.78Z" fill="none" stroke="#111" stroke-width="1.0"/>
<path d="M493.91 218.88A69.44999999999999 69.44999999999999 0 0 1 468.48 219.44L469.53 213.02A62.94999999999999 62.94999999999999 0 0 0 492.58 212.52Z" fill="none" stroke="#111" stroke-width="1.0"/>
<path d="M446.00 276.97A130.5 130.5 0 0 1 407.97 259.92L409.90 257.00A127.0 127.0 0 0 0 446.91 273.59Z" fill="#d4d4d4" stroke="#111" stroke-width="1.0"/>
<path d="M446.91 273.59A127.0 127.0 0 0 1 409.90 257.00L413.91 250.90A119.7 119.7 0 0 0 448.79 266.54Z" fill="none" stroke="#111" stroke-width="1.0"/>
<path d="M449.55 263.69A116.75 116.75 0 0 1 415.53 248.43L419.10 243.00A110.25 110.25 0 0 0 451.23 257.41Z" fill="none" stroke="#111" stroke-width="1.0"/>
<path d="M452.00 254.55A107.28999999999999 107.28999999999999 0 0 1 420.73 240.53L424.30 235.10A100.78999999999999 100.78999999999999 0 0 0 453.68 248.27Z" fill="none" stroke="#111" stroke-width="1.0"/>
<path d="M454.44 245.41A97.83 97.83 0 0 1 425.93 232.63L429.50 227.20A91.33 91.33 0 0 0 456.12 239.13Z" fill="none" stroke="#111" stroke-width="1.0"/>
<path d="M456.88 236.27A88.37 88.37 0 0 1 431.13 224.73L434.70 219.30A81.87 81.87 0 0 0 458.56 229.99Z" fill="none" stroke="#111" stroke-width="1.0"/>
<path d="M459.33 227.13A78.91 78.91 0 0 1 436.33 216.82L439.90 211.39A72.41 72.41 0 0 0 461.00 220.85Z" fill="none" stroke="#111" stroke-width="1.0"/>
<path d="M461.77 217.99A69.44999999999999 69.44999999999999 0 0 1 441.53 208.92L445.10 203.49A62.94999999999999 62.94999999999999 0 0 0 463.45 211.72Z" fill="none" stroke="#111" stroke-width="1.0"/>
<path d="M397.56 252.31A130.5 130.5 0 0 1 367.20 217.04L370.22 215.27A127.0 127.0 0 0 0 399.76 249.59Z" fill="#d4d4d4" stroke="#111" stroke-width="1.0"/>
<path d="M399.76 249.59A127.0 127.0 0 0 1 370.22 215.27L376.51 211.57A119.7 119.7 0 0 0 404.36 243.91Z" fill="none" stroke="#111" stroke-width="1.0"/>
<path d="M406.21 241.62A116.75 116.75 0 0 1 379.06 210.07L384.66 206.78A110.25 110.25 0 0 0 410.30 236.57Z" fill="none" stroke="#111" stroke-width="1.0"/>
<path d="M412.17 234.27A107.28999999999999 107.28999999999999 0 0 1 387.21 205.28L392.81 201.98A100.78999999999999 100.78999999999999 0 0 0 416.26 229.22Z" fill="none" stroke="#111" stroke-width="1.0"/>
<path d="M418.12 226.92A97.83 97.83 0 0 1 395.37 200.48L400.97 197.19A91.33 91.33 0 0 0 422.21 221.87Z" fill="none" stroke="#111" stroke-width="1.0"/>
<path d="M424.08 219.57A88.37 88.37 0 0 1 403.52 195.69L409.12 192.39A81.87 81.87 0 0 0 428.17 214.52Z" fill="none" stroke="#111" stroke-width="1.0"/>
<path d="M430.03 212.22A78.91 78.91 0 0 1 411.68 190.89L417.28 187.60A72.41 72.41 0 0 0 434.12 207.17Z" fill="none" stroke="#111" stroke-width="1.0"/>
<path d="M435.99 204.87A69.44999999999999 69.44999999999999 0 0 1 419.83 186.10L425.43 182.81A62.94999999999999 62.94999999999999 0 0 0 440.08 199.82Z" fill="none" stroke="#111" stroke-width="1.0"/>
<path d="M361.22 205.61A130.5 130.5 0 0 1 349.70 162.36L353.19 162.05A127.0 127.0 0 0 0 364.40 204.14Z" fill="#d4d4d4" stroke="#111" stroke-width="1.0"/>
<path d="M364.40 204.14A127.0 127.0 0 0 1 353.19 162.05L360.46 161.41A119.7 119.7 0 0 0 371.03 201.08Z" fill="none" stroke="#111" stroke-width="1.0"/>
<path d="M373.71 199.85A116.75 116.75 0 0 1 363.40 161.15L369.88 160.58A110.25 110.25 0 0 0 379.61 197.12Z" fill="none" stroke="#111" stroke-width="1.0"/>
<path d="M382.29 195.88A107.28999999999999 107.28999999999999 0 0 1 372.82 160.32L379.30 159.75A100.78999999999999 100.78999999999999 0 0 0 388.20 193.15Z" fill="none" stroke="#111" stroke-width="1.0"/>
<path d="M390.88 191.91A97.83 97.83 0 0 1 382.25 159.49L388.72 158.92A91.33 91.33 0 0 0 396.78 189.19Z" fill="none" stroke="#111" stroke-width="1.0"/>
<path d="M399.47 187.95A88.37 88.37 0 0 1 391.67 158.66L398.15 158.09A81.87 81.87 0 0 0 405.37 185.22Z" fill="none" stroke="#111" stroke-width="1.0"/>
<path d="M408.06 183.98A78.91 78.91 0 0 1 401.09 157.83L407.57 157.26A72.41 72.41 0 0 0 413.96 181.26Z" fill="none" stroke="#111" stroke-width="1.0"/>
<path d="M416.65 180.02A69.44999999999999 69.44999999999999 0 0 1 410.52 157.00L416.99 156.43A62.94999999999999 62.94999999999999 0 0 0 422.55 177.29Z" fill="none" stroke="#111" stroke-width="1.0"/>
<path d="M349.21 149.47A130.5 130.5 0 0 1 357.08 106.25L360.36 107.45A127.0 127.0 0 0 0 352.71 149.51Z" fill="#d4d4d4" stroke="#111" stroke-width="1.0"/>
<path d="M352.71 149.51A127.0 127.0 0 0 1 360.36 107.45L367.22 109.95A119.7 119.7 0 0 0 360.01 149.59Z" fill="none" stroke="#111" stroke-width="1.0"/>
<path d="M362.96 149.62A116.75 116.75 0 0 1 370.00 110.96L376.10 113.18A110.25 110.25 0 0 0 369.46 149.69Z" fill="none" stroke="#111" stroke-width="1.0"/>
<path d="M372.42 149.72A107.28999999999999 107.28999999999999 0 0 1 378.88 114.19L384.99 116.42A100.78999999999999 100.78999999999999 0 0 0 378.92 149.79Z" fill="none" stroke="#111" stroke-width="1.0"/>
<path d="M381.88 149.83A97.83 97.83 0 0 1 387.77 117.43L393.88 119.65A91.33 91.33 0 0 0 388.38 149.90Z" fill="none" stroke="#111" stroke-width="1.0"/>
<path d="M391.34 149.93A88.37 88.37 0 0 1 396.66 120.67L402.77 122.89A81.87 81.87 0 0 0 397.83 150.00Z" fill="none" stroke="#111" stroke-width="1.0"/>
<path d="M400.79 150.03A78.91 78.91 0 0 1 405.55 123.90L411.66 126.13A72.41 72.41 0 0 0 407.29 150.11Z" fill="none" stroke="#111" stroke-width="1.0"/>
<path d="M410.25 150.14A69.44999999999999 69.44999999999999 0 0 1 414.44 127.14L420.55 129.36A62.94999999999999 62.94999999999999 0 0 0 416.75 150.21Z" fill="none" stroke="#111" stroke-width="1.0"/>
<path d="M362.08 94.36A130.5 130.5 0 0 1 385.36 60.74L387.89 63.16A127.0 127.0 0 0 0 365.24 95.88Z" fill="#d4d4d4" stroke="#111" stroke-width="1.0"/>
<path d="M365.24 95.88A127.0 127.0 0 0 1 387.89 63.16L393.16 68.20A119.7 119.7 0 0 0 371.82 99.04Z" fill="none" stroke="#111" stroke-width="1.0"/>
<path d="M374.48 100.32A116.75 116.75 0 0 1 395.30 70.24L399.99 74.73A110.25 110.25 0 0 0 380.33 103.13Z" fill="none" stroke="#111" stroke-width="1.0"/>
<path d="M383.00 104.42A107.28999999999999 107.28999999999999 0 0 1 402.13 76.77L406.83 81.26A100.78999999999999 100.78999999999999 0 0 0 388.86 107.23Z" fill="none" stroke="#111" stroke-width="1.0"/>
<path d="M391.53 108.52A97.83 97.83 0 0 1 408.97 83.31L413.67 87.80A91.33 91.33 0 0 0 397.39 111.33Z" fill="none" stroke="#111" stroke-width="1.0"/>
<path d="M400.05 112.61A88.37 88.37 0 0 1 415.81 89.85L420.51 94.34A81.87 81.87 0 0 0 405.91 115.43Z" fill="none" stroke="#111" stroke-width="1.0"/>
<path d="M408.58 116.71A78.91 78.91 0 0 1 422.65 96.38L427.35 100.87A72.41 72.41 0 0 0 414.44 119.53Z" fill="none" stroke="#111" stroke-width="1.0"/>
<path d="M417.11 120.81A69.44999999999999 69.44999999999999 0 0 1 429.49 102.92L434.19 107.41A62.94999999999999 62.94999999999999 0 0 0 422.96 123.63Z" fill="none" stroke="#111" stroke-width="1.0"/>
<path d="M394.72 51.86A130.5 130.5 0 0 1 427.49 31.30L428.89 34.51A127.0 127.0 0 0 0 397.00 54.52Z" fill="#d4d4d4" stroke="#111" stroke-width="1.0"/>
<path d="M397.00 54.52A127.0 127.0 0 0 1 428.89 34.51L431.81 41.20A119.7 119.7 0 0 0 401.75 60.06Z" fill="none" stroke="#111" stroke-width="1.0"/>
<path d="M403.67 62.30A116.75 116.75 0 0 1 432.99 43.90L435.59 49.86A110.25 110.25 0 0 0 407.91 67.23Z" fill="none" stroke="#111" stroke-width="1.0"/>
<path d="M409.83 69.48A107.28999999999999 107.28999999999999 0 0 1 436.77 52.57L439.38 58.53A100.78999999999999 100.78999999999999 0 0 0 414.07 74.41Z" fill="none" stroke="#111" stroke-width="1.0"/>
<path d="M415.99 76.66A97.83 97.83 0 0 1 440.56 61.24L443.16 67.20A91.33 91.33 0 0 0 420.23 81.59Z" fill="none" stroke="#111" stroke-width="1.0"/>
<path d="M422.15 83.83A88.37 88.37 0 0 1 444.34 69.91L446.94 75.87A81.87 81.87 0 0 0 426.39 88.77Z" fill="none" stroke="#111" stroke-width="1.0"/>
<path d="M428.31 91.01A78.91 78.91 0 0 1 448.13 78.58L450.73 84.54A72.41 72.41 0 0 0 432.55 95.95Z" fill="none" stroke="#111" stroke-width="1.0"/>
<path d="M434.47 98.19A69.44999999999999 69.44999999999999 0 0 1 451.91 87.25L454.51 93.21A62.94999999999999 62.94999999999999 0 0 0 438.71 103.13Z" fill="none" stroke="#111" stroke-width="1.0"/>
<path d="M439.55 26.73A130.5 130.5 0 0 1 472.03 20.63L472.23 24.12A127.0 127.0 0 0 0 440.63 30.06Z" fill="#d4d4d4" stroke="#111" stroke-width="1.0"/>
<path d="M440.63 30.06A127.0 127.0 0 0 1 472.23 24.12L472.66 31.41A119.7 119.7 0 0 0 442.88 37.00Z" fill="none" stroke="#111" stroke-width="1.0"/>
<path d="M443.78 39.81A116.75 116.75 0 0 1 472.84 34.35L473.22 40.84A110.25 110.25 0 0 0 445.78 46.00Z" fill="none" stroke="#111" stroke-width="1.0"/>
<path d="M446.69 48.81A107.28999999999999 107.28999999999999 0 0 1 473.39 43.80L473.78 50.28A100.78999999999999 100.78999999999999 0 0 0 448.69 55.00Z" fill="none" stroke="#111" stroke-width="1.0"/>
<path d="M449.60 57.81A97.83 97.83 0 0 1 473.95 53.24L474.33 59.73A91.33 91.33 0 0 0 451.60 64.00Z" fill="none" stroke="#111" stroke-width="1.0"/>
<path d="M452.51 66.82A88.37 88.37 0 0 1 474.51 62.68L474.89 69.17A81.87 81.87 0 0 0 454.51 73.00Z" fill="none" stroke="#111" stroke-width="1.0"/>
<path d="M455.42 75.82A78.91 78.91 0 0 1 475.06 72.13L475.44 78.62A72.41 72.41 0 0 0 457.42 82.00Z" fill="none" stroke="#111" stroke-width="1.0"/>
<path d="M458.34 84.82A69.44999999999999 69.44999999999999 0 0 1 475.62 81.57L476.00 88.06A62.94999999999999 62.94999999999999 0 0 0 460.33 91.00Z" fill="none" stroke="#111" stroke-width="1.0"/>
<line x1="484.32" y1="20.48" x2="484.40" y2="18.28" stroke="#111" stroke-width="0.8"/>
<text x="485.54" y="14.42" font-size="7.8" text-anchor="middle" fill="#222" transform="rotate(2.03 485.54 14.42)" dominant-baseline="central">0</text>
<line x1="495.16" y1="21.32" x2="495.42" y2="19.13" stroke="#111" stroke-width="0.8"/>
<line x1="505.90" y1="23.06" x2="506.34" y2="20.90" stroke="#111" stroke-width="0.8"/>
<text x="510.06" y="17.68" font-size="7.8" text-anchor="middle" fill="#222" transform="rotate(11.58 510.06 17.68)" dominant-baseline="central">100</text>
<line x1="516.45" y1="25.68" x2="517.07" y2="23.57" stroke="#111" stroke-width="0.8"/>
<text x="503.20" y="5.50" font-size="9.6" text-anchor="middle" font-weight="bold" fill="#111" transform="rotate(9.18 503.20 5.50)" dominant-baseline="central">Chr12</text>
<line x1="532.91" y1="31.74" x2="533.81" y2="29.73" stroke="#111" stroke-width="0.8"/>
<text x="536.31" y="26.58" font-size="7.8" text-anchor="middle" fill="#222" transform="rotate(24.06 536.31 26.58)" dominant-baseline="central">0</text>
<line x1="542.65" y1="36.58" x2="543.71" y2="34.66" stroke="#111" stroke-width="0.8"/>
<line x1="551.94" y1="42.22" x2="553.16" y2="40.39" stroke="#111" stroke-width="0.8"/>
<text x="557.82" y="38.80" font-size="7.8" text-anchor="middle" fill="#222" transform="rotate(33.61 557.82 38.80)" dominant-baseline="central">100</text>
<line x1="560.74" y1="48.61" x2="562.11" y2="46.89" stroke="#111" stroke-width="0.8"/>
<text x="556.50" y="24.90" font-size="9.6" text-anchor="middle" font-weight="bold" fill="#111" transform="rotate(31.36 556.50 24.90)" dominant-baseline="central">Chr13</text>
<line x1="573.60" y1="60.27" x2="575.18" y2="58.74" stroke="#111" stroke-width="0.8"/>
<text x="578.68" y="56.75" font-size="7.8" text-anchor="middle" fill="#222" transform="rotate(46.01 578.68 56.75)" dominant-baseline="central">0</text>
<line x1="580.81" y1="68.40" x2="582.52" y2="67.01" stroke="#111" stroke-width="0.8"/>
<line x1="587.33" y1="77.10" x2="589.14" y2="75.86" stroke="#111" stroke-width="0.8"/>
<text x="594.06" y="76.13" font-size="7.8" text-anchor="middle" fill="#222" transform="rotate(55.56 594.06 76.13)" dominant-baseline="central">100</text>
<line x1="593.10" y1="86.32" x2="595.01" y2="85.23" stroke="#111" stroke-width="0.8"/>
<text x="599.00" y="60.20" font-size="9.6" text-anchor="middle" font-weight="bold" fill="#111" transform="rotate(52.76 599.00 60.20)" dominant-baseline="central">Chr14</text>
<line x1="599.03" y1="98.07" x2="601.04" y2="97.18" stroke="#111" stroke-width="0.8"/>
<text x="605.01" y="96.51" font-size="7.8" text-anchor="middle" fill="#222" transform="rotate(66.12 605.01 96.51)" dominant-baseline="central">0</text>
<line x1="603.01" y1="108.18" x2="605.09" y2="107.46" stroke="#111" stroke-width="0.8"/>
<line x1="606.14" y1="118.60" x2="608.27" y2="118.05" stroke="#111" stroke-width="0.8"/>
<text x="612.79" y="119.99" font-size="7.8" text-anchor="middle" fill="#222" transform="rotate(75.67 612.79 119.99)" dominant-baseline="central">100</text>
<text x="623.60" y="107.50" font-size="9.6" text-anchor="middle" font-weight="bold" fill="#111" transform="rotate(73.22 623.60 107.50)" dominant-baseline="central">Chr15</text>
<line x1="609.73" y1="139.78" x2="611.92" y2="139.60" stroke="#111" stroke-width="0.8"/>
<text x="615.89" y="140.26" font-size="7.8" text-anchor="middle" fill="#222" transform="rotate(85.11 615.89 140.26)" dominant-baseline="central">0</text>
<line x1="610.20" y1="150.65" x2="612.40" y2="150.64" stroke="#111" stroke-width="0.8"/>
<line x1="609.77" y1="161.51" x2="611.96" y2="161.69" stroke="#111" stroke-width="0.8"/>
<text x="616.09" y="159.02" font-size="7.8" text-anchor="middle" fill="#222" transform="rotate(-85.34 616.09 159.02)" dominant-baseline="central">100</text>
<line x1="608.43" y1="172.30" x2="610.60" y2="172.66" stroke="#111" stroke-width="0.8"/>
<line x1="606.21" y1="182.94" x2="608.34" y2="183.48" stroke="#111" stroke-width="0.8"/>
<text x="612.85" y="181.53" font-size="7.8" text-anchor="middle" fill="#222" transform="rotate(-75.79 612.85 181.53)" dominant-baseline="central">200</text>
<text x="629.70" y="169.00" font-size="9.6" text-anchor="middle" font-weight="bold" fill="#111" transform="rotate(-83.12 629.70 169.00)" dominant-baseline="central">Chr01</text>
<line x1="598.55" y1="204.81" x2="600.55" y2="205.72" stroke="#111" stroke-width="0.8"/>
<text x="604.51" y="206.42" font-size="7.8" text-anchor="middle" fill="#222" transform="rotate(-65.60 604.51 206.42)" dominant-baseline="central">0</text>
<line x1="593.65" y1="214.51" x2="595.57" y2="215.59" stroke="#111" stroke-width="0.8"/>
<line x1="587.95" y1="223.78" x2="589.78" y2="225.01" stroke="#111" stroke-width="0.8"/>
<text x="594.69" y="224.70" font-size="7.8" text-anchor="middle" fill="#222" transform="rotate(-56.05 594.69 224.70)" dominant-baseline="central">100</text>
<line x1="581.51" y1="232.54" x2="583.23" y2="233.91" stroke="#111" stroke-width="0.8"/>
<line x1="574.36" y1="240.73" x2="575.96" y2="242.24" stroke="#111" stroke-width="0.8"/>
<text x="580.85" y="242.75" font-size="7.8" text-anchor="middle" fill="#222" transform="rotate(-46.50 580.85 242.75)" dominant-baseline="central">200</text>
<text x="602.80" y="237.10" font-size="9.6" text-anchor="middle" font-weight="bold" fill="#111" transform="rotate(-55.00 602.80 237.10)" dominant-baseline="central">Chr02</text>
<line x1="560.28" y1="253.55" x2="561.64" y2="255.28" stroke="#111" stroke-width="0.8"/>
<text x="564.83" y="257.73" font-size="7.8" text-anchor="middle" fill="#222" transform="rotate(-38.13 564.83 257.73)" dominant-baseline="central">0</text>
<line x1="551.45" y1="259.90" x2="552.66" y2="261.74" stroke="#111" stroke-width="0.8"/>
<line x1="542.13" y1="265.50" x2="543.18" y2="267.43" stroke="#111" stroke-width="0.8"/>
<text x="547.68" y="269.42" font-size="7.8" text-anchor="middle" fill="#222" transform="rotate(-28.58 547.68 269.42)" dominant-baseline="central">100</text>
<line x1="532.38" y1="270.30" x2="533.26" y2="272.31" stroke="#111" stroke-width="0.8"/>
<line x1="522.25" y1="274.27" x2="522.97" y2="276.35" stroke="#111" stroke-width="0.8"/>
<text x="527.08" y="279.06" font-size="7.8" text-anchor="middle" fill="#222" transform="rotate(-19.03 527.08 279.06)" dominant-baseline="central">200</text>
<text x="550.20" y="280.90" font-size="9.6" text-anchor="middle" font-weight="bold" fill="#111" transform="rotate(-28.47 550.20 280.90)" dominant-baseline="central">Chr03</text>
<line x1="506.40" y1="278.64" x2="506.85" y2="280.79" stroke="#111" stroke-width="0.8"/>
<text x="508.63" y="284.41" font-size="7.8" text-anchor="middle" fill="#222" transform="rotate(-11.81 508.63 284.41)" dominant-baseline="central">0</text>
<line x1="495.67" y1="280.42" x2="495.94" y2="282.60" stroke="#111" stroke-width="0.8"/>
<line x1="484.84" y1="281.30" x2="484.92" y2="283.50" stroke="#111" stroke-width="0.8"/>
<text x="488.08" y="287.28" font-size="7.8" text-anchor="middle" fill="#222" transform="rotate(-2.26 488.08 287.28)" dominant-baseline="central">100</text>
<line x1="473.97" y1="281.27" x2="473.87" y2="283.47" stroke="#111" stroke-width="0.8"/>
<line x1="463.13" y1="280.34" x2="462.85" y2="282.53" stroke="#111" stroke-width="0.8"/>
<text x="465.33" y="286.78" font-size="7.8" text-anchor="middle" fill="#222" transform="rotate(7.29 465.33 286.78)" dominant-baseline="central">200</text>
<text x="479.00" y="298.20" font-size="9.6" text-anchor="middle" font-weight="bold" fill="#111" transform="rotate(0.27 479.00 298.20)" dominant-baseline="central">Chr04</text>
<line x1="446.00" y1="276.97" x2="445.44" y2="279.10" stroke="#111" stroke-width="0.8"/>
<text x="445.40" y="283.13" font-size="7.8" text-anchor="middle" fill="#222" transform="rotate(14.96 445.40 283.13)" dominant-baseline="central">0</text>
<line x1="435.63" y1="273.73" x2="434.88" y2="275.80" stroke="#111" stroke-width="0.8"/>
<line x1="425.55" y1="269.64" x2="424.64" y2="271.64" stroke="#111" stroke-width="0.8"/>
<text x="425.75" y="276.43" font-size="7.8" text-anchor="middle" fill="#222" transform="rotate(24.51 425.75 276.43)" dominant-baseline="central">100</text>
<line x1="415.86" y1="264.72" x2="414.78" y2="266.64" stroke="#111" stroke-width="0.8"/>
<text x="412.80" y="285.90" font-size="9.6" text-anchor="middle" font-weight="bold" fill="#111" transform="rotate(26.36 412.80 285.90)" dominant-baseline="central">Chr05</text>
<line x1="397.56" y1="252.31" x2="396.17" y2="254.01" stroke="#111" stroke-width="0.8"/>
<text x="394.50" y="257.67" font-size="7.8" text-anchor="middle" fill="#222" transform="rotate(39.01 394.50 257.67)" dominant-baseline="central">0</text>
<line x1="389.40" y1="245.12" x2="387.88" y2="246.70" stroke="#111" stroke-width="0.8"/>
<line x1="381.87" y1="237.27" x2="380.22" y2="238.73" stroke="#111" stroke-width="0.8"/>
<text x="379.29" y="243.56" font-size="7.8" text-anchor="middle" fill="#222" transform="rotate(48.56 379.29 243.56)" dominant-baseline="central">100</text>
<line x1="375.02" y1="228.83" x2="373.26" y2="230.14" stroke="#111" stroke-width="0.8"/>
<line x1="368.90" y1="219.84" x2="367.03" y2="221.01" stroke="#111" stroke-width="0.8"/>
<text x="365.30" y="225.61" font-size="7.8" text-anchor="middle" fill="#222" transform="rotate(58.11 365.30 225.61)" dominant-baseline="central">200</text>
<text x="362.90" y="246.50" font-size="9.6" text-anchor="middle" font-weight="bold" fill="#111" transform="rotate(50.70 362.90 246.50)" dominant-baseline="central">Chr06</text>
<line x1="361.22" y1="205.61" x2="359.22" y2="206.53" stroke="#111" stroke-width="0.8"/>
<text x="356.10" y="209.08" font-size="7.8" text-anchor="middle" fill="#222" transform="rotate(65.21 356.10 209.08)" dominant-baseline="central">0</text>
<line x1="357.08" y1="195.56" x2="355.01" y2="196.31" stroke="#111" stroke-width="0.8"/>
<line x1="353.79" y1="185.20" x2="351.66" y2="185.77" stroke="#111" stroke-width="0.8"/>
<text x="348.69" y="189.69" font-size="7.8" text-anchor="middle" fill="#222" transform="rotate(74.76 348.69 189.69)" dominant-baseline="central">100</text>
<line x1="351.37" y1="174.60" x2="349.21" y2="174.99" stroke="#111" stroke-width="0.8"/>
<line x1="349.84" y1="163.83" x2="347.65" y2="164.05" stroke="#111" stroke-width="0.8"/>
<text x="344.07" y="167.42" font-size="7.8" text-anchor="middle" fill="#222" transform="rotate(84.31 344.07 167.42)" dominant-baseline="central">200</text>
<text x="333.40" y="192.30" font-size="9.6" text-anchor="middle" font-weight="bold" fill="#111" transform="rotate(74.20 333.40 192.30)" dominant-baseline="central">Chr07</text>
<line x1="349.21" y1="149.47" x2="347.01" y2="149.44" stroke="#111" stroke-width="0.8"/>
<text x="343.12" y="148.40" font-size="7.8" text-anchor="middle" fill="#222" transform="rotate(-89.37 343.12 148.40)" dominant-baseline="central">0</text>
<line x1="349.78" y1="138.61" x2="347.59" y2="138.40" stroke="#111" stroke-width="0.8"/>
<line x1="351.25" y1="127.84" x2="349.09" y2="127.45" stroke="#111" stroke-width="0.8"/>
<text x="345.78" y="123.81" font-size="7.8" text-anchor="middle" fill="#222" transform="rotate(-79.82 345.78 123.81)" dominant-baseline="central">100</text>
<line x1="353.62" y1="117.23" x2="351.49" y2="116.66" stroke="#111" stroke-width="0.8"/>
<line x1="356.86" y1="106.85" x2="354.79" y2="106.11" stroke="#111" stroke-width="0.8"/>
<text x="352.13" y="101.96" font-size="7.8" text-anchor="middle" fill="#222" transform="rotate(-70.27 352.13 101.96)" dominant-baseline="central">200</text>
<text x="331.00" y="125.50" font-size="9.6" text-anchor="middle" font-weight="bold" fill="#111" transform="rotate(-80.31 331.00 125.50)" dominant-baseline="central">Chr08</text>
<line x1="362.08" y1="94.36" x2="360.10" y2="93.41" stroke="#111" stroke-width="0.8"/>
<text x="357.02" y="90.82" font-size="7.8" text-anchor="middle" fill="#222" transform="rotate(-64.33 357.02 90.82)" dominant-baseline="central">0</text>
<line x1="367.20" y1="84.77" x2="365.30" y2="83.65" stroke="#111" stroke-width="0.8"/>
<line x1="373.09" y1="75.63" x2="371.30" y2="74.36" stroke="#111" stroke-width="0.8"/>
<text x="369.84" y="69.66" font-size="7.8" text-anchor="middle" fill="#222" transform="rotate(-54.78 369.84 69.66)" dominant-baseline="central">100</text>
<line x1="379.73" y1="67.02" x2="378.04" y2="65.60" stroke="#111" stroke-width="0.8"/>
<text x="354.90" y="67.60" font-size="9.6" text-anchor="middle" font-weight="bold" fill="#111" transform="rotate(-56.28 354.90 67.60)" dominant-baseline="central">Chr09</text>
<line x1="394.72" y1="51.86" x2="393.29" y2="50.19" stroke="#111" stroke-width="0.8"/>
<text x="391.51" y="46.58" font-size="7.8" text-anchor="middle" fill="#222" transform="rotate(-40.63 391.51 46.58)" dominant-baseline="central">0</text>
<line x1="403.26" y1="45.13" x2="401.97" y2="43.35" stroke="#111" stroke-width="0.8"/>
<line x1="412.33" y1="39.14" x2="411.19" y2="37.25" stroke="#111" stroke-width="0.8"/>
<text x="411.75" y="32.36" font-size="7.8" text-anchor="middle" fill="#222" transform="rotate(-31.08 411.75 32.36)" dominant-baseline="central">100</text>
<line x1="421.87" y1="33.92" x2="420.89" y2="31.94" stroke="#111" stroke-width="0.8"/>
<text x="395.50" y="26.10" font-size="9.6" text-anchor="middle" font-weight="bold" fill="#111" transform="rotate(-34.01 395.50 26.10)" dominant-baseline="central">Chr10</text>
<line x1="439.55" y1="26.73" x2="438.88" y2="24.64" stroke="#111" stroke-width="0.8"/>
<text x="438.63" y="20.62" font-size="7.8" text-anchor="middle" fill="#222" transform="rotate(-17.92 438.63 20.62)" dominant-baseline="central">0</text>
<line x1="450.03" y1="23.82" x2="449.53" y2="21.68" stroke="#111" stroke-width="0.8"/>
<line x1="460.71" y1="21.79" x2="460.39" y2="19.61" stroke="#111" stroke-width="0.8"/>
<text x="462.79" y="15.32" font-size="7.8" text-anchor="middle" fill="#222" transform="rotate(-8.37 462.79 15.32)" dominant-baseline="central">100</text>
<line x1="471.53" y1="20.66" x2="471.39" y2="18.46" stroke="#111" stroke-width="0.8"/>
<text x="448.50" y="6.85" font-size="9.6" text-anchor="middle" font-weight="bold" fill="#111" transform="rotate(-12.22 448.50 6.85)" dominant-baseline="central">Chr11</text>
<text x="479.10" y="30.55" font-size="8.9" text-anchor="middle" fill="#222">a</text>
<text x="479.10" y="40.40" font-size="8.9" text-anchor="middle" fill="#222">b</text>
<text x="479.10" y="49.86" font-size="8.9" text-anchor="middle" fill="#222">c</text>
<text x="479.10" y="59.32" font-size="8.9" text-anchor="middle" fill="#222">d</text>
<text x="479.10" y="68.78" font-size="8.9" text-anchor="middle" fill="#222">e</text>
<text x="479.10" y="78.24" font-size="8.9" text-anchor="middle" fill="#222">f</text>
<text x="479.10" y="87.70" font-size="8.9" text-anchor="middle" fill="#222">g</text>
</g>
<rect x="455.9" y="109.4" width="50.3" height="8.4" fill="url(#gb)"/>
<text x="447.80" y="113.90" font-size="9.0" text-anchor="middle" fill="#222" transform="rotate(-90.00 447.80 113.90)" dominant-baseline="central">High</text>
<text x="512.40" y="112.00" font-size="9.0" text-anchor="middle" fill="#222" transform="rotate(90.00 512.40 112.00)" dominant-baseline="central">Low</text>
<text x="456.80" y="131.40" font-size="9.4" text-anchor="start" fill="#1a1a1a">a: TE density</text>
<text x="456.80" y="142.90" font-size="9.4" text-anchor="start" fill="#1a1a1a">b: Gene density</text>
<text x="456.80" y="154.60" font-size="9.4" text-anchor="start" fill="#1a1a1a">c: Insertion</text>
<text x="456.80" y="166.80" font-size="9.4" text-anchor="start" fill="#1a1a1a">d: Deletion</text>
<text x="456.80" y="179.30" font-size="9.4" text-anchor="start" fill="#1a1a1a">e: Translocation</text>
<text x="457.60" y="191.30" font-size="9.4" text-anchor="start" fill="#1a1a1a">f: Invertion</text>
<text x="457.60" y="202.10" font-size="9.4" text-anchor="start" fill="#1a1a1a">g: CNV</text>
</svg></div></body></html>
